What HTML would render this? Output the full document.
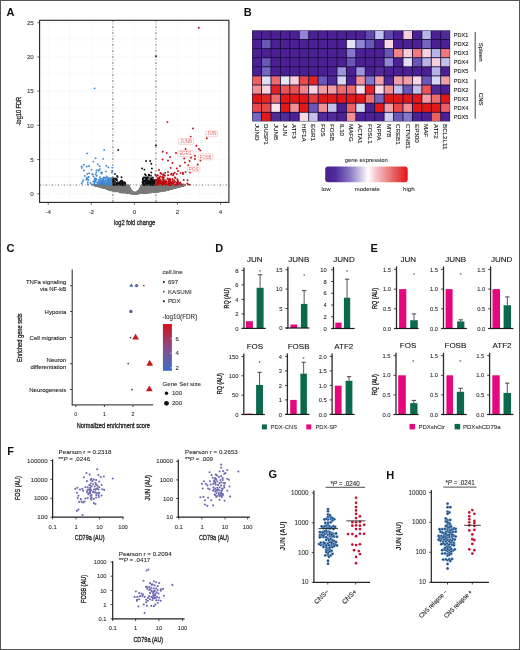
<!DOCTYPE html>
<html><head><meta charset="utf-8"><title>Figure</title>
<style>html,body{margin:0;padding:0;background:#fff;} svg{display:block;} text{font-family:"Liberation Sans", sans-serif;}</style>
</head><body>
<svg width="520" height="650" viewBox="0 0 520 650" font-family='"Liberation Sans", sans-serif' style="will-change:transform">
<rect width="520" height="650" fill="#fff"/>
<text x="6.6" y="15.9" font-size="11" fill="#111" font-weight="bold">A</text>
<text x="243.8" y="16.2" font-size="11" fill="#111" font-weight="bold">B</text>
<text x="6.6" y="252.4" font-size="11" fill="#111" font-weight="bold">C</text>
<text x="215.2" y="252.2" font-size="11" fill="#111" font-weight="bold">D</text>
<text x="370.6" y="251.8" font-size="11" fill="#111" font-weight="bold">E</text>
<text x="7.2" y="454.6" font-size="11" fill="#111" font-weight="bold">F</text>
<text x="268.4" y="478.4" font-size="11" fill="#111" font-weight="bold">G</text>
<text x="386.2" y="478.5" font-size="11" fill="#111" font-weight="bold">H</text>
<g stroke="#f3f3f3" stroke-width="0.5">
<line x1="48.24" y1="20.3" x2="48.24" y2="202.4"/>
<line x1="69.78" y1="20.3" x2="69.78" y2="202.4"/>
<line x1="91.32" y1="20.3" x2="91.32" y2="202.4"/>
<line x1="112.86" y1="20.3" x2="112.86" y2="202.4"/>
<line x1="134.40" y1="20.3" x2="134.40" y2="202.4"/>
<line x1="155.94" y1="20.3" x2="155.94" y2="202.4"/>
<line x1="177.48" y1="20.3" x2="177.48" y2="202.4"/>
<line x1="199.02" y1="20.3" x2="199.02" y2="202.4"/>
<line x1="220.56" y1="20.3" x2="220.56" y2="202.4"/>
<line x1="39.6" y1="193.75" x2="228.9" y2="193.75"/>
<line x1="39.6" y1="176.65" x2="228.9" y2="176.65"/>
<line x1="39.6" y1="159.55" x2="228.9" y2="159.55"/>
<line x1="39.6" y1="142.45" x2="228.9" y2="142.45"/>
<line x1="39.6" y1="125.35" x2="228.9" y2="125.35"/>
<line x1="39.6" y1="108.25" x2="228.9" y2="108.25"/>
<line x1="39.6" y1="91.15" x2="228.9" y2="91.15"/>
<line x1="39.6" y1="74.05" x2="228.9" y2="74.05"/>
<line x1="39.6" y1="56.95" x2="228.9" y2="56.95"/>
<line x1="39.6" y1="39.85" x2="228.9" y2="39.85"/>
<line x1="39.6" y1="22.75" x2="228.9" y2="22.75"/>
</g>
<g fill="#7a7a7a">
<circle cx="136.5" cy="193.0" r="1.0"/>
<circle cx="180.2" cy="185.6" r="1.0"/>
<circle cx="141.6" cy="189.8" r="1.0"/>
<circle cx="111.7" cy="187.8" r="1.0"/>
<circle cx="152.9" cy="190.9" r="1.0"/>
<circle cx="103.3" cy="185.7" r="1.0"/>
<circle cx="102.9" cy="187.2" r="1.0"/>
<circle cx="158.8" cy="185.1" r="1.0"/>
<circle cx="183.9" cy="185.1" r="1.0"/>
<circle cx="151.6" cy="186.0" r="1.0"/>
<circle cx="95.9" cy="185.2" r="1.0"/>
<circle cx="100.1" cy="185.2" r="1.0"/>
<circle cx="117.0" cy="185.0" r="1.0"/>
<circle cx="137.5" cy="192.5" r="1.0"/>
<circle cx="172.6" cy="186.8" r="1.0"/>
<circle cx="153.9" cy="188.6" r="1.0"/>
<circle cx="155.9" cy="188.1" r="1.0"/>
<circle cx="120.3" cy="192.3" r="1.0"/>
<circle cx="172.4" cy="187.6" r="1.0"/>
<circle cx="123.8" cy="186.6" r="1.0"/>
<circle cx="121.3" cy="185.3" r="1.0"/>
<circle cx="165.5" cy="187.1" r="1.0"/>
<circle cx="173.0" cy="186.3" r="1.0"/>
<circle cx="183.3" cy="185.4" r="1.0"/>
<circle cx="94.6" cy="185.0" r="1.0"/>
<circle cx="178.9" cy="185.8" r="1.0"/>
<circle cx="131.4" cy="190.8" r="1.0"/>
<circle cx="152.9" cy="190.8" r="1.0"/>
<circle cx="119.5" cy="185.4" r="1.0"/>
<circle cx="125.4" cy="192.6" r="1.0"/>
<circle cx="164.8" cy="185.5" r="1.0"/>
<circle cx="117.4" cy="185.5" r="1.0"/>
<circle cx="100.1" cy="186.4" r="1.0"/>
<circle cx="111.0" cy="188.0" r="1.0"/>
<circle cx="136.0" cy="192.8" r="1.0"/>
<circle cx="162.3" cy="185.6" r="1.0"/>
<circle cx="154.2" cy="185.7" r="1.0"/>
<circle cx="133.5" cy="192.7" r="1.0"/>
<circle cx="119.5" cy="191.9" r="1.0"/>
<circle cx="169.0" cy="186.3" r="1.0"/>
<circle cx="176.5" cy="185.4" r="1.0"/>
<circle cx="131.1" cy="193.0" r="1.0"/>
<circle cx="154.0" cy="185.6" r="1.0"/>
<circle cx="114.3" cy="186.5" r="1.0"/>
<circle cx="166.1" cy="186.6" r="1.0"/>
<circle cx="122.0" cy="185.4" r="1.0"/>
<circle cx="102.9" cy="186.5" r="1.0"/>
<circle cx="117.1" cy="189.0" r="1.0"/>
<circle cx="129.0" cy="188.7" r="1.0"/>
<circle cx="183.4" cy="185.1" r="1.0"/>
<circle cx="147.8" cy="191.9" r="1.0"/>
<circle cx="111.5" cy="185.7" r="1.0"/>
<circle cx="178.7" cy="186.5" r="1.0"/>
<circle cx="117.7" cy="186.1" r="1.0"/>
<circle cx="163.0" cy="190.5" r="1.0"/>
<circle cx="112.8" cy="190.6" r="1.0"/>
<circle cx="176.3" cy="186.5" r="1.0"/>
<circle cx="133.6" cy="192.6" r="1.0"/>
<circle cx="98.1" cy="186.1" r="1.0"/>
<circle cx="116.6" cy="189.6" r="1.0"/>
<circle cx="118.4" cy="190.7" r="1.0"/>
<circle cx="149.8" cy="187.1" r="1.0"/>
<circle cx="110.8" cy="188.8" r="1.0"/>
<circle cx="100.9" cy="185.3" r="1.0"/>
<circle cx="146.4" cy="191.9" r="1.0"/>
<circle cx="151.4" cy="187.0" r="1.0"/>
<circle cx="179.5" cy="185.2" r="1.0"/>
<circle cx="96.1" cy="185.0" r="1.0"/>
<circle cx="135.8" cy="192.7" r="1.0"/>
<circle cx="110.9" cy="186.9" r="1.0"/>
<circle cx="147.5" cy="185.9" r="1.0"/>
<circle cx="128.1" cy="192.3" r="1.0"/>
<circle cx="155.4" cy="189.9" r="1.0"/>
<circle cx="148.7" cy="185.9" r="1.0"/>
<circle cx="97.8" cy="184.8" r="1.0"/>
<circle cx="178.9" cy="186.2" r="1.0"/>
<circle cx="183.7" cy="184.8" r="1.0"/>
<circle cx="153.5" cy="188.5" r="1.0"/>
<circle cx="162.2" cy="186.8" r="1.0"/>
<circle cx="101.5" cy="186.1" r="1.0"/>
<circle cx="162.8" cy="190.3" r="1.0"/>
<circle cx="162.8" cy="189.1" r="1.0"/>
<circle cx="168.0" cy="189.6" r="1.0"/>
<circle cx="127.1" cy="190.5" r="1.0"/>
<circle cx="178.0" cy="186.8" r="1.0"/>
<circle cx="133.2" cy="193.3" r="1.0"/>
<circle cx="174.5" cy="186.7" r="1.0"/>
<circle cx="152.4" cy="187.7" r="1.0"/>
<circle cx="148.5" cy="189.7" r="1.0"/>
<circle cx="102.0" cy="186.5" r="1.0"/>
<circle cx="176.0" cy="186.9" r="1.0"/>
<circle cx="130.5" cy="192.4" r="1.0"/>
<circle cx="148.4" cy="188.4" r="1.0"/>
<circle cx="172.2" cy="185.1" r="1.0"/>
<circle cx="164.0" cy="185.0" r="1.0"/>
<circle cx="150.2" cy="188.6" r="1.0"/>
<circle cx="115.9" cy="189.5" r="1.0"/>
<circle cx="140.6" cy="190.8" r="1.0"/>
<circle cx="179.8" cy="185.2" r="1.0"/>
<circle cx="95.6" cy="185.0" r="1.0"/>
<circle cx="157.4" cy="186.2" r="1.0"/>
<circle cx="110.3" cy="189.7" r="1.0"/>
<circle cx="155.7" cy="188.0" r="1.0"/>
<circle cx="177.1" cy="185.6" r="1.0"/>
<circle cx="156.2" cy="186.2" r="1.0"/>
<circle cx="134.5" cy="193.4" r="1.0"/>
<circle cx="179.2" cy="186.5" r="1.0"/>
<circle cx="130.2" cy="191.4" r="1.0"/>
<circle cx="123.9" cy="185.9" r="1.0"/>
<circle cx="140.5" cy="192.3" r="1.0"/>
<circle cx="173.2" cy="187.4" r="1.0"/>
<circle cx="182.5" cy="185.1" r="1.0"/>
<circle cx="110.2" cy="187.2" r="1.0"/>
<circle cx="120.0" cy="186.4" r="1.0"/>
<circle cx="132.9" cy="193.0" r="1.0"/>
<circle cx="140.3" cy="189.4" r="1.0"/>
<circle cx="172.3" cy="188.7" r="1.0"/>
<circle cx="136.5" cy="192.5" r="1.0"/>
<circle cx="97.5" cy="185.8" r="1.0"/>
<circle cx="98.4" cy="185.8" r="1.0"/>
<circle cx="147.4" cy="187.3" r="1.0"/>
<circle cx="167.9" cy="184.9" r="1.0"/>
<circle cx="107.1" cy="186.8" r="1.0"/>
<circle cx="96.8" cy="185.5" r="1.0"/>
<circle cx="116.5" cy="185.8" r="1.0"/>
<circle cx="98.9" cy="185.8" r="1.0"/>
<circle cx="135.9" cy="193.2" r="1.0"/>
<circle cx="155.2" cy="190.8" r="1.0"/>
<circle cx="183.3" cy="185.3" r="1.0"/>
<circle cx="113.0" cy="187.7" r="1.0"/>
<circle cx="111.1" cy="184.9" r="1.0"/>
<circle cx="138.3" cy="192.8" r="1.0"/>
<circle cx="111.1" cy="186.4" r="1.0"/>
<circle cx="126.6" cy="190.6" r="1.0"/>
<circle cx="142.8" cy="190.1" r="1.0"/>
<circle cx="164.6" cy="187.1" r="1.0"/>
<circle cx="167.9" cy="189.5" r="1.0"/>
<circle cx="102.6" cy="187.4" r="1.0"/>
<circle cx="161.5" cy="185.6" r="1.0"/>
<circle cx="136.6" cy="193.1" r="1.0"/>
<circle cx="178.8" cy="185.6" r="1.0"/>
<circle cx="147.2" cy="192.1" r="1.0"/>
<circle cx="168.3" cy="189.6" r="1.0"/>
<circle cx="137.5" cy="192.9" r="1.0"/>
<circle cx="113.5" cy="189.3" r="1.0"/>
<circle cx="170.3" cy="187.7" r="1.0"/>
<circle cx="161.0" cy="186.2" r="1.0"/>
<circle cx="177.9" cy="187.1" r="1.0"/>
<circle cx="144.3" cy="191.5" r="1.0"/>
<circle cx="124.2" cy="192.1" r="1.0"/>
<circle cx="173.8" cy="186.0" r="1.0"/>
<circle cx="102.2" cy="186.0" r="1.0"/>
<circle cx="145.5" cy="191.3" r="1.0"/>
<circle cx="139.7" cy="189.0" r="1.0"/>
<circle cx="169.5" cy="185.1" r="1.0"/>
<circle cx="168.6" cy="185.7" r="1.0"/>
<circle cx="125.6" cy="191.2" r="1.0"/>
<circle cx="107.6" cy="185.5" r="1.0"/>
<circle cx="142.4" cy="191.0" r="1.0"/>
<circle cx="172.4" cy="187.5" r="1.0"/>
<circle cx="182.1" cy="185.3" r="1.0"/>
<circle cx="182.5" cy="184.9" r="1.0"/>
<circle cx="115.1" cy="188.2" r="1.0"/>
<circle cx="121.4" cy="190.4" r="1.0"/>
<circle cx="153.7" cy="188.7" r="1.0"/>
<circle cx="172.7" cy="187.0" r="1.0"/>
<circle cx="123.4" cy="187.8" r="1.0"/>
<circle cx="172.8" cy="188.2" r="1.0"/>
<circle cx="113.8" cy="190.2" r="1.0"/>
<circle cx="184.2" cy="185.0" r="1.0"/>
<circle cx="147.6" cy="186.5" r="1.0"/>
<circle cx="144.2" cy="189.1" r="1.0"/>
<circle cx="150.6" cy="185.0" r="1.0"/>
<circle cx="184.3" cy="185.0" r="1.0"/>
<circle cx="131.7" cy="193.0" r="1.0"/>
<circle cx="146.7" cy="188.9" r="1.0"/>
<circle cx="158.6" cy="185.3" r="1.0"/>
<circle cx="144.4" cy="188.3" r="1.0"/>
<circle cx="183.2" cy="185.5" r="1.0"/>
<circle cx="119.5" cy="188.3" r="1.0"/>
<circle cx="106.3" cy="186.6" r="1.0"/>
<circle cx="170.1" cy="188.9" r="1.0"/>
<circle cx="138.7" cy="191.5" r="1.0"/>
<circle cx="112.3" cy="188.5" r="1.0"/>
<circle cx="180.3" cy="185.0" r="1.0"/>
<circle cx="166.7" cy="184.9" r="1.0"/>
<circle cx="112.5" cy="186.2" r="1.0"/>
<circle cx="158.2" cy="187.0" r="1.0"/>
<circle cx="127.5" cy="190.0" r="1.0"/>
<circle cx="104.3" cy="187.3" r="1.0"/>
<circle cx="105.9" cy="186.8" r="1.0"/>
<circle cx="117.8" cy="186.2" r="1.0"/>
<circle cx="143.7" cy="188.5" r="1.0"/>
<circle cx="129.4" cy="189.4" r="1.0"/>
<circle cx="143.6" cy="186.2" r="1.0"/>
<circle cx="113.5" cy="188.8" r="1.0"/>
<circle cx="153.7" cy="188.8" r="1.0"/>
<circle cx="173.4" cy="187.0" r="1.0"/>
<circle cx="173.9" cy="185.6" r="1.0"/>
<circle cx="163.2" cy="189.7" r="1.0"/>
<circle cx="178.2" cy="185.5" r="1.0"/>
<circle cx="123.7" cy="192.2" r="1.0"/>
<circle cx="114.8" cy="191.3" r="1.0"/>
<circle cx="176.8" cy="185.2" r="1.0"/>
<circle cx="116.7" cy="189.8" r="1.0"/>
<circle cx="118.6" cy="185.5" r="1.0"/>
<circle cx="171.6" cy="186.6" r="1.0"/>
<circle cx="167.7" cy="185.5" r="1.0"/>
<circle cx="131.9" cy="192.8" r="1.0"/>
<circle cx="96.2" cy="184.9" r="1.0"/>
<circle cx="157.8" cy="191.2" r="1.0"/>
<circle cx="184.2" cy="184.8" r="1.0"/>
<circle cx="141.4" cy="191.3" r="1.0"/>
<circle cx="141.1" cy="190.7" r="1.0"/>
<circle cx="112.1" cy="185.2" r="1.0"/>
<circle cx="104.4" cy="184.9" r="1.0"/>
<circle cx="145.6" cy="189.1" r="1.0"/>
<circle cx="147.2" cy="186.0" r="1.0"/>
<circle cx="111.6" cy="186.0" r="1.0"/>
<circle cx="172.4" cy="188.7" r="1.0"/>
<circle cx="180.4" cy="185.0" r="1.0"/>
<circle cx="100.3" cy="186.7" r="1.0"/>
<circle cx="137.3" cy="193.1" r="1.0"/>
<circle cx="124.8" cy="188.6" r="1.0"/>
<circle cx="142.3" cy="188.5" r="1.0"/>
<circle cx="150.2" cy="184.9" r="1.0"/>
<circle cx="159.5" cy="190.5" r="1.0"/>
<circle cx="111.3" cy="187.4" r="1.0"/>
<circle cx="163.0" cy="187.3" r="1.0"/>
<circle cx="112.6" cy="185.8" r="1.0"/>
<circle cx="142.0" cy="184.9" r="1.0"/>
<circle cx="177.3" cy="186.8" r="1.0"/>
<circle cx="159.8" cy="190.6" r="1.0"/>
<circle cx="152.8" cy="187.9" r="1.0"/>
<circle cx="150.1" cy="188.8" r="1.0"/>
<circle cx="169.1" cy="186.1" r="1.0"/>
<circle cx="179.0" cy="186.3" r="1.0"/>
<circle cx="166.6" cy="189.2" r="1.0"/>
<circle cx="132.1" cy="193.4" r="1.0"/>
<circle cx="176.0" cy="186.8" r="1.0"/>
<circle cx="165.6" cy="189.1" r="1.0"/>
<circle cx="132.1" cy="193.0" r="1.0"/>
<circle cx="101.1" cy="185.6" r="1.0"/>
<circle cx="138.0" cy="191.4" r="1.0"/>
<circle cx="127.5" cy="190.1" r="1.0"/>
<circle cx="152.3" cy="186.6" r="1.0"/>
<circle cx="182.0" cy="185.5" r="1.0"/>
<circle cx="125.8" cy="190.2" r="1.0"/>
<circle cx="147.3" cy="189.2" r="1.0"/>
<circle cx="130.6" cy="193.5" r="1.0"/>
<circle cx="154.0" cy="190.1" r="1.0"/>
<circle cx="165.1" cy="190.4" r="1.0"/>
<circle cx="96.7" cy="185.3" r="1.0"/>
<circle cx="163.0" cy="186.4" r="1.0"/>
<circle cx="131.7" cy="191.2" r="1.0"/>
<circle cx="112.7" cy="187.1" r="1.0"/>
<circle cx="103.7" cy="185.6" r="1.0"/>
<circle cx="178.4" cy="186.0" r="1.0"/>
<circle cx="141.6" cy="193.1" r="1.0"/>
<circle cx="147.2" cy="193.0" r="1.0"/>
<circle cx="153.6" cy="190.9" r="1.0"/>
<circle cx="101.6" cy="186.3" r="1.0"/>
<circle cx="164.9" cy="185.1" r="1.0"/>
<circle cx="180.7" cy="185.0" r="1.0"/>
<circle cx="138.2" cy="191.5" r="1.0"/>
<circle cx="140.4" cy="191.0" r="1.0"/>
<circle cx="100.0" cy="186.6" r="1.0"/>
<circle cx="133.5" cy="193.0" r="1.0"/>
<circle cx="149.9" cy="187.7" r="1.0"/>
<circle cx="121.0" cy="189.8" r="1.0"/>
<circle cx="146.5" cy="187.2" r="1.0"/>
<circle cx="160.9" cy="186.7" r="1.0"/>
<circle cx="95.8" cy="185.0" r="1.0"/>
<circle cx="98.5" cy="185.0" r="1.0"/>
<circle cx="164.4" cy="187.1" r="1.0"/>
<circle cx="177.7" cy="186.6" r="1.0"/>
<circle cx="99.2" cy="186.5" r="1.0"/>
<circle cx="182.0" cy="184.9" r="1.0"/>
<circle cx="178.4" cy="185.7" r="1.0"/>
<circle cx="138.8" cy="193.4" r="1.0"/>
<circle cx="117.1" cy="188.4" r="1.0"/>
<circle cx="181.4" cy="185.7" r="1.0"/>
<circle cx="137.9" cy="193.4" r="1.0"/>
<circle cx="170.2" cy="187.6" r="1.0"/>
<circle cx="105.2" cy="187.1" r="1.0"/>
<circle cx="136.8" cy="192.6" r="1.0"/>
<circle cx="99.4" cy="185.7" r="1.0"/>
<circle cx="106.1" cy="186.6" r="1.0"/>
<circle cx="156.4" cy="188.1" r="1.0"/>
<circle cx="118.8" cy="189.0" r="1.0"/>
<circle cx="133.4" cy="193.3" r="1.0"/>
<circle cx="143.7" cy="193.3" r="1.0"/>
<circle cx="182.8" cy="185.4" r="1.0"/>
<circle cx="116.6" cy="185.6" r="1.0"/>
<circle cx="177.2" cy="186.8" r="1.0"/>
<circle cx="152.4" cy="187.6" r="1.0"/>
<circle cx="119.7" cy="189.9" r="1.0"/>
<circle cx="146.9" cy="189.7" r="1.0"/>
<circle cx="153.2" cy="190.5" r="1.0"/>
<circle cx="112.1" cy="186.3" r="1.0"/>
<circle cx="179.4" cy="186.5" r="1.0"/>
<circle cx="98.2" cy="184.9" r="1.0"/>
<circle cx="119.6" cy="187.9" r="1.0"/>
<circle cx="152.3" cy="185.6" r="1.0"/>
<circle cx="144.7" cy="185.4" r="1.0"/>
<circle cx="102.6" cy="186.7" r="1.0"/>
<circle cx="145.6" cy="190.1" r="1.0"/>
<circle cx="129.1" cy="189.3" r="1.0"/>
<circle cx="114.1" cy="187.0" r="1.0"/>
<circle cx="163.5" cy="189.8" r="1.0"/>
<circle cx="101.4" cy="185.1" r="1.0"/>
<circle cx="169.5" cy="187.8" r="1.0"/>
<circle cx="165.8" cy="186.0" r="1.0"/>
<circle cx="133.9" cy="192.8" r="1.0"/>
<circle cx="169.6" cy="186.6" r="1.0"/>
<circle cx="155.1" cy="192.1" r="1.0"/>
<circle cx="124.7" cy="189.2" r="1.0"/>
<circle cx="163.7" cy="190.3" r="1.0"/>
<circle cx="134.2" cy="193.0" r="1.0"/>
<circle cx="103.5" cy="187.6" r="1.0"/>
<circle cx="101.8" cy="185.0" r="1.0"/>
<circle cx="146.8" cy="188.8" r="1.0"/>
<circle cx="158.0" cy="186.9" r="1.0"/>
<circle cx="166.4" cy="185.2" r="1.0"/>
<circle cx="114.3" cy="189.0" r="1.0"/>
<circle cx="102.1" cy="185.6" r="1.0"/>
<circle cx="161.7" cy="189.2" r="1.0"/>
<circle cx="120.8" cy="185.9" r="1.0"/>
<circle cx="127.7" cy="190.9" r="1.0"/>
<circle cx="128.5" cy="185.8" r="1.0"/>
<circle cx="160.2" cy="188.6" r="1.0"/>
<circle cx="179.6" cy="186.5" r="1.0"/>
<circle cx="179.1" cy="185.7" r="1.0"/>
<circle cx="168.9" cy="186.3" r="1.0"/>
<circle cx="124.0" cy="188.0" r="1.0"/>
<circle cx="181.1" cy="186.0" r="1.0"/>
<circle cx="117.5" cy="187.3" r="1.0"/>
<circle cx="128.4" cy="187.9" r="1.0"/>
<circle cx="131.2" cy="191.6" r="1.0"/>
<circle cx="112.6" cy="188.2" r="1.0"/>
<circle cx="168.4" cy="187.6" r="1.0"/>
<circle cx="172.0" cy="187.1" r="1.0"/>
<circle cx="110.9" cy="189.1" r="1.0"/>
<circle cx="176.1" cy="185.6" r="1.0"/>
<circle cx="96.6" cy="185.2" r="1.0"/>
<circle cx="145.0" cy="189.6" r="1.0"/>
<circle cx="184.1" cy="185.1" r="1.0"/>
<circle cx="169.0" cy="185.1" r="1.0"/>
<circle cx="145.2" cy="191.5" r="1.0"/>
<circle cx="102.3" cy="185.0" r="1.0"/>
<circle cx="162.8" cy="190.3" r="1.0"/>
<circle cx="102.4" cy="186.5" r="1.0"/>
<circle cx="107.9" cy="188.2" r="1.0"/>
<circle cx="154.7" cy="186.6" r="1.0"/>
<circle cx="115.0" cy="189.8" r="1.0"/>
<circle cx="142.9" cy="191.3" r="1.0"/>
<circle cx="131.1" cy="191.3" r="1.0"/>
<circle cx="184.2" cy="185.1" r="1.0"/>
<circle cx="140.3" cy="190.7" r="1.0"/>
<circle cx="161.3" cy="189.3" r="1.0"/>
<circle cx="179.3" cy="185.6" r="1.0"/>
<circle cx="171.1" cy="187.7" r="1.0"/>
<circle cx="173.6" cy="187.7" r="1.0"/>
<circle cx="171.8" cy="188.5" r="1.0"/>
<circle cx="183.3" cy="185.3" r="1.0"/>
<circle cx="143.1" cy="190.9" r="1.0"/>
<circle cx="168.9" cy="186.9" r="1.0"/>
<circle cx="133.5" cy="192.6" r="1.0"/>
<circle cx="163.2" cy="190.8" r="1.0"/>
<circle cx="129.3" cy="187.6" r="1.0"/>
<circle cx="113.5" cy="187.5" r="1.0"/>
<circle cx="121.6" cy="192.3" r="1.0"/>
<circle cx="100.0" cy="185.4" r="1.0"/>
<circle cx="105.2" cy="187.2" r="1.0"/>
<circle cx="166.4" cy="185.8" r="1.0"/>
<circle cx="100.3" cy="185.7" r="1.0"/>
<circle cx="148.6" cy="192.2" r="1.0"/>
<circle cx="97.9" cy="184.9" r="1.0"/>
<circle cx="111.6" cy="186.1" r="1.0"/>
<circle cx="116.4" cy="189.7" r="1.0"/>
<circle cx="149.6" cy="186.6" r="1.0"/>
<circle cx="111.7" cy="186.5" r="1.0"/>
<circle cx="110.5" cy="189.0" r="1.0"/>
<circle cx="123.4" cy="189.2" r="1.0"/>
<circle cx="170.2" cy="187.0" r="1.0"/>
<circle cx="118.7" cy="191.2" r="1.0"/>
<circle cx="179.2" cy="185.5" r="1.0"/>
<circle cx="145.2" cy="192.9" r="1.0"/>
<circle cx="139.3" cy="190.5" r="1.0"/>
<circle cx="99.2" cy="186.4" r="1.0"/>
<circle cx="168.8" cy="186.7" r="1.0"/>
<circle cx="143.4" cy="189.2" r="1.0"/>
<circle cx="120.0" cy="192.2" r="1.0"/>
<circle cx="155.5" cy="186.6" r="1.0"/>
<circle cx="95.6" cy="185.2" r="1.0"/>
<circle cx="129.0" cy="191.6" r="1.0"/>
<circle cx="160.6" cy="188.8" r="1.0"/>
<circle cx="109.1" cy="185.6" r="1.0"/>
<circle cx="124.4" cy="186.9" r="1.0"/>
<circle cx="175.1" cy="186.4" r="1.0"/>
<circle cx="153.5" cy="192.3" r="1.0"/>
<circle cx="119.2" cy="188.7" r="1.0"/>
<circle cx="108.5" cy="188.5" r="1.0"/>
<circle cx="94.7" cy="185.5" r="1.0"/>
<circle cx="172.9" cy="187.9" r="1.0"/>
<circle cx="102.2" cy="185.5" r="1.0"/>
<circle cx="160.9" cy="185.4" r="1.0"/>
<circle cx="139.0" cy="191.7" r="1.0"/>
<circle cx="183.1" cy="185.3" r="1.0"/>
<circle cx="174.0" cy="185.9" r="1.0"/>
<circle cx="167.7" cy="187.0" r="1.0"/>
<circle cx="179.5" cy="185.0" r="1.0"/>
<circle cx="171.1" cy="185.7" r="1.0"/>
<circle cx="144.9" cy="189.3" r="1.0"/>
<circle cx="109.1" cy="189.0" r="1.0"/>
<circle cx="123.4" cy="187.3" r="1.0"/>
<circle cx="101.6" cy="185.6" r="1.0"/>
<circle cx="137.8" cy="192.9" r="1.0"/>
<circle cx="127.9" cy="190.6" r="1.0"/>
<circle cx="104.3" cy="186.1" r="1.0"/>
<circle cx="137.3" cy="193.4" r="1.0"/>
<circle cx="171.4" cy="187.6" r="1.0"/>
<circle cx="95.7" cy="185.1" r="1.0"/>
<circle cx="160.3" cy="186.4" r="1.0"/>
<circle cx="146.8" cy="188.6" r="1.0"/>
<circle cx="95.5" cy="185.6" r="1.0"/>
<circle cx="168.6" cy="185.8" r="1.0"/>
<circle cx="151.6" cy="187.1" r="1.0"/>
<circle cx="129.4" cy="190.2" r="1.0"/>
<circle cx="122.2" cy="187.4" r="1.0"/>
<circle cx="130.9" cy="192.3" r="1.0"/>
<circle cx="118.3" cy="186.2" r="1.0"/>
<circle cx="162.3" cy="186.9" r="1.0"/>
<circle cx="182.1" cy="185.4" r="1.0"/>
<circle cx="161.6" cy="186.9" r="1.0"/>
<circle cx="171.1" cy="185.2" r="1.0"/>
<circle cx="107.6" cy="185.2" r="1.0"/>
<circle cx="157.3" cy="189.9" r="1.0"/>
<circle cx="111.2" cy="187.1" r="1.0"/>
<circle cx="172.1" cy="187.2" r="1.0"/>
<circle cx="102.9" cy="185.5" r="1.0"/>
<circle cx="109.1" cy="185.4" r="1.0"/>
<circle cx="132.2" cy="191.7" r="1.0"/>
<circle cx="179.8" cy="185.5" r="1.0"/>
<circle cx="141.9" cy="190.3" r="1.0"/>
<circle cx="165.6" cy="189.4" r="1.0"/>
<circle cx="130.3" cy="190.4" r="1.0"/>
<circle cx="132.7" cy="192.0" r="1.0"/>
<circle cx="131.7" cy="192.8" r="1.0"/>
<circle cx="167.7" cy="188.3" r="1.0"/>
<circle cx="150.9" cy="184.9" r="1.0"/>
<circle cx="125.2" cy="187.6" r="1.0"/>
<circle cx="154.8" cy="185.6" r="1.0"/>
<circle cx="129.5" cy="190.3" r="1.0"/>
<circle cx="167.6" cy="189.2" r="1.0"/>
<circle cx="151.2" cy="186.0" r="1.0"/>
<circle cx="165.5" cy="189.9" r="1.0"/>
<circle cx="145.3" cy="187.8" r="1.0"/>
<circle cx="140.9" cy="186.6" r="1.0"/>
<circle cx="160.6" cy="191.3" r="1.0"/>
<circle cx="142.3" cy="190.9" r="1.0"/>
<circle cx="171.9" cy="185.6" r="1.0"/>
<circle cx="182.1" cy="185.5" r="1.0"/>
<circle cx="112.9" cy="185.3" r="1.0"/>
<circle cx="117.2" cy="188.8" r="1.0"/>
<circle cx="159.1" cy="187.0" r="1.0"/>
<circle cx="180.6" cy="185.3" r="1.0"/>
<circle cx="137.4" cy="192.1" r="1.0"/>
<circle cx="107.1" cy="188.7" r="1.0"/>
<circle cx="144.9" cy="189.6" r="1.0"/>
<circle cx="146.5" cy="187.0" r="1.0"/>
<circle cx="178.8" cy="186.9" r="1.0"/>
<circle cx="170.3" cy="187.5" r="1.0"/>
<circle cx="105.9" cy="188.1" r="1.0"/>
<circle cx="121.3" cy="191.7" r="1.0"/>
<circle cx="116.9" cy="188.7" r="1.0"/>
<circle cx="171.5" cy="185.6" r="1.0"/>
<circle cx="145.3" cy="185.4" r="1.0"/>
<circle cx="97.5" cy="185.0" r="1.0"/>
<circle cx="181.6" cy="185.6" r="1.0"/>
<circle cx="123.0" cy="190.1" r="1.0"/>
<circle cx="162.9" cy="187.1" r="1.0"/>
<circle cx="149.4" cy="191.3" r="1.0"/>
<circle cx="96.1" cy="184.9" r="1.0"/>
<circle cx="137.9" cy="191.7" r="1.0"/>
<circle cx="130.3" cy="191.5" r="1.0"/>
<circle cx="110.6" cy="187.7" r="1.0"/>
<circle cx="119.0" cy="188.9" r="1.0"/>
<circle cx="125.3" cy="190.0" r="1.0"/>
<circle cx="98.1" cy="185.7" r="1.0"/>
<circle cx="108.0" cy="189.2" r="1.0"/>
<circle cx="150.1" cy="188.5" r="1.0"/>
<circle cx="132.7" cy="193.0" r="1.0"/>
<circle cx="158.4" cy="190.1" r="1.0"/>
<circle cx="164.2" cy="187.7" r="1.0"/>
<circle cx="172.2" cy="188.2" r="1.0"/>
<circle cx="132.4" cy="192.5" r="1.0"/>
<circle cx="147.0" cy="192.3" r="1.0"/>
<circle cx="143.3" cy="189.3" r="1.0"/>
<circle cx="134.6" cy="193.5" r="1.0"/>
<circle cx="124.3" cy="185.2" r="1.0"/>
<circle cx="161.8" cy="190.5" r="1.0"/>
<circle cx="162.4" cy="188.5" r="1.0"/>
<circle cx="164.2" cy="186.6" r="1.0"/>
<circle cx="149.5" cy="185.4" r="1.0"/>
<circle cx="106.1" cy="186.6" r="1.0"/>
<circle cx="141.1" cy="188.2" r="1.0"/>
<circle cx="99.4" cy="186.0" r="1.0"/>
<circle cx="143.3" cy="186.8" r="1.0"/>
<circle cx="122.9" cy="187.9" r="1.0"/>
<circle cx="116.4" cy="185.3" r="1.0"/>
<circle cx="179.0" cy="186.7" r="1.0"/>
<circle cx="156.2" cy="191.1" r="1.0"/>
<circle cx="133.6" cy="193.4" r="1.0"/>
<circle cx="115.1" cy="189.7" r="1.0"/>
<circle cx="147.0" cy="192.3" r="1.0"/>
<circle cx="103.7" cy="187.3" r="1.0"/>
<circle cx="106.0" cy="186.9" r="1.0"/>
<circle cx="182.6" cy="184.8" r="1.0"/>
<circle cx="117.1" cy="186.9" r="1.0"/>
<circle cx="124.6" cy="185.3" r="1.0"/>
<circle cx="177.5" cy="186.8" r="1.0"/>
<circle cx="131.3" cy="191.6" r="1.0"/>
<circle cx="148.8" cy="185.2" r="1.0"/>
<circle cx="97.4" cy="185.8" r="1.0"/>
<circle cx="123.1" cy="188.7" r="1.0"/>
<circle cx="181.1" cy="186.2" r="1.0"/>
<circle cx="138.3" cy="191.5" r="1.0"/>
<circle cx="121.9" cy="192.0" r="1.0"/>
<circle cx="177.6" cy="185.3" r="1.0"/>
<circle cx="172.2" cy="186.2" r="1.0"/>
<circle cx="138.3" cy="191.4" r="1.0"/>
<circle cx="176.0" cy="187.7" r="1.0"/>
<circle cx="113.3" cy="188.7" r="1.0"/>
<circle cx="112.3" cy="190.1" r="1.0"/>
<circle cx="99.2" cy="185.0" r="1.0"/>
<circle cx="161.8" cy="186.8" r="1.0"/>
<circle cx="177.9" cy="186.8" r="1.0"/>
<circle cx="160.6" cy="185.7" r="1.0"/>
<circle cx="159.0" cy="191.2" r="1.0"/>
<circle cx="135.8" cy="192.8" r="1.0"/>
<circle cx="115.2" cy="186.8" r="1.0"/>
<circle cx="160.4" cy="186.1" r="1.0"/>
<circle cx="111.3" cy="186.2" r="1.0"/>
<circle cx="156.1" cy="190.6" r="1.0"/>
<circle cx="129.1" cy="190.6" r="1.0"/>
<circle cx="176.5" cy="186.4" r="1.0"/>
<circle cx="115.8" cy="186.8" r="1.0"/>
<circle cx="180.4" cy="185.9" r="1.0"/>
<circle cx="120.2" cy="189.6" r="1.0"/>
<circle cx="102.9" cy="187.7" r="1.0"/>
<circle cx="135.3" cy="193.2" r="1.0"/>
<circle cx="143.7" cy="185.2" r="1.0"/>
<circle cx="150.1" cy="187.1" r="1.0"/>
<circle cx="117.8" cy="190.5" r="1.0"/>
<circle cx="102.6" cy="185.6" r="1.0"/>
<circle cx="164.5" cy="186.2" r="1.0"/>
<circle cx="120.4" cy="188.9" r="1.0"/>
<circle cx="111.8" cy="190.1" r="1.0"/>
<circle cx="97.7" cy="185.3" r="1.0"/>
<circle cx="164.1" cy="187.1" r="1.0"/>
<circle cx="180.6" cy="185.6" r="1.0"/>
<circle cx="111.2" cy="188.0" r="1.0"/>
<circle cx="154.3" cy="187.5" r="1.0"/>
<circle cx="155.5" cy="190.6" r="1.0"/>
<circle cx="142.4" cy="189.1" r="1.0"/>
<circle cx="172.9" cy="187.4" r="1.0"/>
<circle cx="142.8" cy="192.9" r="1.0"/>
<circle cx="110.7" cy="189.1" r="1.0"/>
<circle cx="109.8" cy="188.0" r="1.0"/>
<circle cx="116.3" cy="187.8" r="1.0"/>
<circle cx="166.2" cy="189.2" r="1.0"/>
<circle cx="167.8" cy="186.0" r="1.0"/>
<circle cx="139.9" cy="189.7" r="1.0"/>
<circle cx="148.3" cy="188.9" r="1.0"/>
<circle cx="97.8" cy="185.5" r="1.0"/>
<circle cx="160.7" cy="188.5" r="1.0"/>
<circle cx="175.4" cy="185.4" r="1.0"/>
<circle cx="108.6" cy="184.9" r="1.0"/>
<circle cx="140.5" cy="189.8" r="1.0"/>
<circle cx="135.5" cy="193.0" r="1.0"/>
<circle cx="168.5" cy="185.2" r="1.0"/>
<circle cx="178.6" cy="186.0" r="1.0"/>
<circle cx="144.9" cy="191.5" r="1.0"/>
<circle cx="116.6" cy="185.8" r="1.0"/>
<circle cx="123.4" cy="185.1" r="1.0"/>
<circle cx="123.7" cy="189.7" r="1.0"/>
<circle cx="143.2" cy="187.1" r="1.0"/>
<circle cx="149.1" cy="185.5" r="1.0"/>
<circle cx="170.6" cy="185.6" r="1.0"/>
<circle cx="118.2" cy="185.9" r="1.0"/>
<circle cx="158.5" cy="190.6" r="1.0"/>
<circle cx="167.4" cy="185.1" r="1.0"/>
<circle cx="132.6" cy="192.5" r="1.0"/>
<circle cx="114.6" cy="191.1" r="1.0"/>
<circle cx="98.5" cy="185.5" r="1.0"/>
<circle cx="165.1" cy="190.5" r="1.0"/>
<circle cx="107.9" cy="186.9" r="1.0"/>
<circle cx="163.5" cy="185.0" r="1.0"/>
<circle cx="116.8" cy="190.9" r="1.0"/>
<circle cx="107.7" cy="186.6" r="1.0"/>
<circle cx="122.2" cy="188.1" r="1.0"/>
<circle cx="101.6" cy="184.9" r="1.0"/>
<circle cx="165.2" cy="189.0" r="1.0"/>
<circle cx="115.8" cy="186.5" r="1.0"/>
<circle cx="145.7" cy="186.8" r="1.0"/>
<circle cx="137.3" cy="193.4" r="1.0"/>
<circle cx="128.3" cy="187.6" r="1.0"/>
<circle cx="151.1" cy="185.1" r="1.0"/>
<circle cx="131.9" cy="192.8" r="1.0"/>
<circle cx="100.0" cy="185.5" r="1.0"/>
<circle cx="158.9" cy="190.7" r="1.0"/>
<circle cx="149.3" cy="191.9" r="1.0"/>
<circle cx="137.4" cy="192.5" r="1.0"/>
<circle cx="172.6" cy="186.3" r="1.0"/>
<circle cx="166.9" cy="186.0" r="1.0"/>
<circle cx="126.7" cy="186.3" r="1.0"/>
<circle cx="145.5" cy="186.2" r="1.0"/>
<circle cx="113.4" cy="186.1" r="1.0"/>
<circle cx="137.9" cy="192.1" r="1.0"/>
<circle cx="136.0" cy="193.5" r="1.0"/>
<circle cx="157.5" cy="190.9" r="1.0"/>
<circle cx="113.5" cy="187.2" r="1.0"/>
<circle cx="101.3" cy="186.4" r="1.0"/>
<circle cx="128.2" cy="187.1" r="1.0"/>
<circle cx="96.3" cy="184.9" r="1.0"/>
<circle cx="118.8" cy="187.6" r="1.0"/>
<circle cx="180.1" cy="186.0" r="1.0"/>
<circle cx="119.4" cy="187.4" r="1.0"/>
<circle cx="108.8" cy="189.4" r="1.0"/>
<circle cx="127.9" cy="191.2" r="1.0"/>
<circle cx="161.6" cy="190.6" r="1.0"/>
<circle cx="96.4" cy="185.0" r="1.0"/>
<circle cx="130.2" cy="189.0" r="1.0"/>
<circle cx="176.3" cy="185.7" r="1.0"/>
<circle cx="165.9" cy="187.7" r="1.0"/>
<circle cx="99.6" cy="185.5" r="1.0"/>
<circle cx="116.6" cy="185.1" r="1.0"/>
<circle cx="108.5" cy="187.7" r="1.0"/>
<circle cx="97.5" cy="185.1" r="1.0"/>
<circle cx="133.8" cy="193.1" r="1.0"/>
<circle cx="107.1" cy="187.9" r="1.0"/>
<circle cx="118.7" cy="190.0" r="1.0"/>
<circle cx="156.3" cy="185.9" r="1.0"/>
<circle cx="113.5" cy="186.6" r="1.0"/>
<circle cx="160.6" cy="187.5" r="1.0"/>
<circle cx="130.4" cy="192.8" r="1.0"/>
<circle cx="115.5" cy="186.7" r="1.0"/>
<circle cx="126.5" cy="186.6" r="1.0"/>
<circle cx="98.3" cy="184.8" r="1.0"/>
<circle cx="152.9" cy="189.1" r="1.0"/>
<circle cx="169.5" cy="189.5" r="1.0"/>
<circle cx="122.2" cy="190.0" r="1.0"/>
<circle cx="179.7" cy="185.2" r="1.0"/>
<circle cx="158.4" cy="189.4" r="1.0"/>
<circle cx="183.0" cy="185.5" r="1.0"/>
<circle cx="116.3" cy="189.1" r="1.0"/>
<circle cx="102.9" cy="186.0" r="1.0"/>
<circle cx="130.9" cy="190.2" r="1.0"/>
<circle cx="130.1" cy="190.1" r="1.0"/>
<circle cx="140.6" cy="188.6" r="1.0"/>
<circle cx="109.2" cy="186.8" r="1.0"/>
<circle cx="138.6" cy="191.2" r="1.0"/>
<circle cx="156.2" cy="186.5" r="1.0"/>
<circle cx="103.2" cy="185.8" r="1.0"/>
<circle cx="133.7" cy="192.7" r="1.0"/>
<circle cx="148.5" cy="190.5" r="1.0"/>
<circle cx="145.8" cy="190.7" r="1.0"/>
<circle cx="96.7" cy="185.1" r="1.0"/>
<circle cx="128.3" cy="185.3" r="1.0"/>
<circle cx="132.0" cy="191.5" r="1.0"/>
<circle cx="140.5" cy="190.8" r="1.0"/>
<circle cx="138.0" cy="192.0" r="1.0"/>
<circle cx="118.0" cy="185.0" r="1.0"/>
<circle cx="126.7" cy="192.2" r="1.0"/>
<circle cx="146.9" cy="187.0" r="1.0"/>
<circle cx="156.4" cy="186.2" r="1.0"/>
<circle cx="138.0" cy="192.6" r="1.0"/>
<circle cx="183.0" cy="185.1" r="1.0"/>
<circle cx="147.9" cy="192.5" r="1.0"/>
<circle cx="166.0" cy="188.3" r="1.0"/>
<circle cx="152.1" cy="188.0" r="1.0"/>
<circle cx="133.0" cy="192.6" r="1.0"/>
<circle cx="171.4" cy="188.5" r="1.0"/>
<circle cx="129.9" cy="192.9" r="1.0"/>
<circle cx="98.1" cy="185.0" r="1.0"/>
<circle cx="141.5" cy="187.4" r="1.0"/>
<circle cx="127.9" cy="193.0" r="1.0"/>
<circle cx="108.4" cy="185.7" r="1.0"/>
<circle cx="115.7" cy="189.3" r="1.0"/>
<circle cx="116.3" cy="184.8" r="1.0"/>
<circle cx="144.9" cy="188.1" r="1.0"/>
<circle cx="116.7" cy="188.2" r="1.0"/>
<circle cx="154.8" cy="188.9" r="1.0"/>
<circle cx="152.4" cy="189.1" r="1.0"/>
<circle cx="171.5" cy="188.9" r="1.0"/>
<circle cx="125.4" cy="187.6" r="1.0"/>
<circle cx="176.6" cy="185.6" r="1.0"/>
<circle cx="160.9" cy="189.3" r="1.0"/>
<circle cx="158.1" cy="191.5" r="1.0"/>
<circle cx="170.9" cy="185.5" r="1.0"/>
<circle cx="152.1" cy="188.6" r="1.0"/>
<circle cx="146.8" cy="187.9" r="1.0"/>
<circle cx="121.0" cy="190.5" r="1.0"/>
<circle cx="144.0" cy="186.8" r="1.0"/>
<circle cx="117.6" cy="187.1" r="1.0"/>
<circle cx="111.0" cy="187.7" r="1.0"/>
<circle cx="106.2" cy="185.1" r="1.0"/>
<circle cx="100.9" cy="185.0" r="1.0"/>
<circle cx="159.8" cy="185.6" r="1.0"/>
<circle cx="136.4" cy="193.3" r="1.0"/>
<circle cx="139.1" cy="190.6" r="1.0"/>
<circle cx="174.8" cy="187.6" r="1.0"/>
<circle cx="99.5" cy="185.3" r="1.0"/>
<circle cx="141.6" cy="191.6" r="1.0"/>
<circle cx="130.9" cy="192.5" r="1.0"/>
<circle cx="117.9" cy="189.9" r="1.0"/>
<circle cx="124.8" cy="187.5" r="1.0"/>
<circle cx="164.9" cy="189.7" r="1.0"/>
<circle cx="171.3" cy="187.2" r="1.0"/>
<circle cx="133.5" cy="193.2" r="1.0"/>
<circle cx="152.3" cy="191.2" r="1.0"/>
<circle cx="168.8" cy="185.4" r="1.0"/>
<circle cx="129.5" cy="191.2" r="1.0"/>
<circle cx="116.0" cy="186.0" r="1.0"/>
<circle cx="95.8" cy="185.3" r="1.0"/>
<circle cx="181.7" cy="186.0" r="1.0"/>
<circle cx="106.9" cy="187.8" r="1.0"/>
<circle cx="133.4" cy="193.1" r="1.0"/>
<circle cx="131.3" cy="193.3" r="1.0"/>
<circle cx="99.1" cy="186.0" r="1.0"/>
<circle cx="105.5" cy="185.0" r="1.0"/>
<circle cx="121.0" cy="190.4" r="1.0"/>
<circle cx="105.7" cy="186.1" r="1.0"/>
<circle cx="97.0" cy="185.3" r="1.0"/>
<circle cx="139.3" cy="191.1" r="1.0"/>
<circle cx="123.2" cy="191.1" r="1.0"/>
<circle cx="172.2" cy="185.9" r="1.0"/>
<circle cx="130.8" cy="192.1" r="1.0"/>
<circle cx="165.4" cy="190.4" r="1.0"/>
<circle cx="130.6" cy="192.2" r="1.0"/>
<circle cx="145.1" cy="191.6" r="1.0"/>
<circle cx="108.2" cy="185.6" r="1.0"/>
<circle cx="104.5" cy="188.0" r="1.0"/>
<circle cx="117.8" cy="188.2" r="1.0"/>
<circle cx="105.7" cy="186.1" r="1.0"/>
<circle cx="96.3" cy="185.2" r="1.0"/>
<circle cx="107.9" cy="187.7" r="1.0"/>
<circle cx="119.9" cy="186.5" r="1.0"/>
<circle cx="139.2" cy="191.1" r="1.0"/>
<circle cx="118.6" cy="185.2" r="1.0"/>
<circle cx="100.5" cy="186.7" r="1.0"/>
<circle cx="123.2" cy="185.4" r="1.0"/>
<circle cx="111.5" cy="187.6" r="1.0"/>
<circle cx="113.3" cy="190.2" r="1.0"/>
<circle cx="139.4" cy="191.1" r="1.0"/>
<circle cx="169.3" cy="186.7" r="1.0"/>
<circle cx="99.9" cy="185.9" r="1.0"/>
<circle cx="155.4" cy="189.4" r="1.0"/>
<circle cx="120.2" cy="191.8" r="1.0"/>
<circle cx="174.6" cy="188.1" r="1.0"/>
<circle cx="135.6" cy="193.4" r="1.0"/>
<circle cx="161.7" cy="185.9" r="1.0"/>
<circle cx="97.0" cy="185.0" r="1.0"/>
<circle cx="105.6" cy="185.1" r="1.0"/>
<circle cx="127.8" cy="191.1" r="1.0"/>
<circle cx="123.3" cy="188.9" r="1.0"/>
<circle cx="95.5" cy="185.0" r="1.0"/>
<circle cx="183.4" cy="184.8" r="1.0"/>
<circle cx="143.4" cy="191.7" r="1.0"/>
<circle cx="167.9" cy="188.6" r="1.0"/>
<circle cx="131.5" cy="193.0" r="1.0"/>
<circle cx="171.2" cy="188.1" r="1.0"/>
<circle cx="103.9" cy="187.9" r="1.0"/>
<circle cx="131.8" cy="192.9" r="1.0"/>
<circle cx="117.8" cy="191.2" r="1.0"/>
<circle cx="96.7" cy="185.3" r="1.0"/>
<circle cx="115.6" cy="187.4" r="1.0"/>
<circle cx="128.8" cy="190.4" r="1.0"/>
<circle cx="169.6" cy="186.5" r="1.0"/>
<circle cx="153.6" cy="187.5" r="1.0"/>
<circle cx="120.4" cy="191.6" r="1.0"/>
<circle cx="124.3" cy="185.6" r="1.0"/>
<circle cx="125.6" cy="190.8" r="1.0"/>
<circle cx="114.1" cy="189.5" r="1.0"/>
<circle cx="145.1" cy="190.6" r="1.0"/>
<circle cx="111.0" cy="185.4" r="1.0"/>
<circle cx="107.8" cy="186.4" r="1.0"/>
<circle cx="134.4" cy="192.8" r="1.0"/>
<circle cx="141.1" cy="188.3" r="1.0"/>
<circle cx="124.3" cy="189.1" r="1.0"/>
<circle cx="182.8" cy="185.0" r="1.0"/>
<circle cx="176.1" cy="185.7" r="1.0"/>
<circle cx="164.4" cy="185.4" r="1.0"/>
<circle cx="134.4" cy="193.5" r="1.0"/>
<circle cx="114.9" cy="187.5" r="1.0"/>
<circle cx="159.9" cy="186.0" r="1.0"/>
<circle cx="119.9" cy="189.8" r="1.0"/>
<circle cx="182.3" cy="185.1" r="1.0"/>
<circle cx="111.5" cy="186.9" r="1.0"/>
<circle cx="108.3" cy="187.8" r="1.0"/>
<circle cx="129.6" cy="191.2" r="1.0"/>
<circle cx="114.2" cy="188.7" r="1.0"/>
<circle cx="176.8" cy="187.1" r="1.0"/>
<circle cx="152.8" cy="188.7" r="1.0"/>
<circle cx="147.1" cy="185.7" r="1.0"/>
<circle cx="172.1" cy="187.6" r="1.0"/>
<circle cx="136.5" cy="193.1" r="1.0"/>
<circle cx="133.4" cy="192.8" r="1.0"/>
<circle cx="115.9" cy="188.8" r="1.0"/>
<circle cx="147.6" cy="189.0" r="1.0"/>
<circle cx="97.5" cy="185.5" r="1.0"/>
<circle cx="135.9" cy="193.2" r="1.0"/>
<circle cx="149.6" cy="192.3" r="1.0"/>
<circle cx="108.6" cy="187.1" r="1.0"/>
<circle cx="162.9" cy="186.7" r="1.0"/>
<circle cx="162.8" cy="190.9" r="1.0"/>
<circle cx="131.8" cy="193.3" r="1.0"/>
<circle cx="106.3" cy="188.8" r="1.0"/>
<circle cx="140.0" cy="189.4" r="1.0"/>
<circle cx="172.4" cy="187.4" r="1.0"/>
<circle cx="181.4" cy="185.9" r="1.0"/>
<circle cx="168.4" cy="187.4" r="1.0"/>
<circle cx="100.6" cy="186.7" r="1.0"/>
<circle cx="160.5" cy="186.4" r="1.0"/>
<circle cx="169.3" cy="187.0" r="1.0"/>
<circle cx="144.2" cy="192.2" r="1.0"/>
<circle cx="112.7" cy="186.5" r="1.0"/>
<circle cx="154.2" cy="185.4" r="1.0"/>
<circle cx="146.0" cy="191.4" r="1.0"/>
<circle cx="140.0" cy="189.5" r="1.0"/>
<circle cx="168.6" cy="189.1" r="1.0"/>
<circle cx="165.9" cy="187.9" r="1.0"/>
<circle cx="178.4" cy="186.5" r="1.0"/>
<circle cx="108.6" cy="186.6" r="1.0"/>
<circle cx="103.8" cy="184.9" r="1.0"/>
<circle cx="126.6" cy="191.9" r="1.0"/>
<circle cx="171.8" cy="185.3" r="1.0"/>
<circle cx="111.4" cy="187.1" r="1.0"/>
<circle cx="173.2" cy="187.1" r="1.0"/>
<circle cx="178.1" cy="185.0" r="1.0"/>
<circle cx="113.7" cy="188.8" r="1.0"/>
<circle cx="175.7" cy="187.0" r="1.0"/>
<circle cx="112.8" cy="188.9" r="1.0"/>
<circle cx="134.4" cy="192.8" r="1.0"/>
<circle cx="126.0" cy="187.4" r="1.0"/>
<circle cx="152.9" cy="186.9" r="1.0"/>
<circle cx="150.4" cy="190.3" r="1.0"/>
<circle cx="111.3" cy="185.5" r="1.0"/>
<circle cx="158.8" cy="188.0" r="1.0"/>
<circle cx="106.5" cy="185.3" r="1.0"/>
<circle cx="181.7" cy="185.5" r="1.0"/>
<circle cx="127.7" cy="186.4" r="1.0"/>
<circle cx="158.6" cy="189.9" r="1.0"/>
<circle cx="127.9" cy="187.4" r="1.0"/>
<circle cx="132.4" cy="192.0" r="1.0"/>
<circle cx="153.0" cy="188.0" r="1.0"/>
<circle cx="170.5" cy="186.6" r="1.0"/>
<circle cx="136.9" cy="192.9" r="1.0"/>
<circle cx="181.8" cy="185.2" r="1.0"/>
<circle cx="159.7" cy="186.4" r="1.0"/>
<circle cx="148.2" cy="187.1" r="1.0"/>
<circle cx="175.4" cy="185.7" r="1.0"/>
<circle cx="173.7" cy="187.2" r="1.0"/>
<circle cx="136.7" cy="193.4" r="1.0"/>
<circle cx="130.5" cy="192.4" r="1.0"/>
<circle cx="150.2" cy="188.4" r="1.0"/>
<circle cx="100.5" cy="185.7" r="1.0"/>
<circle cx="120.6" cy="188.1" r="1.0"/>
<circle cx="183.0" cy="185.0" r="1.0"/>
<circle cx="158.9" cy="189.4" r="1.0"/>
<circle cx="117.2" cy="187.7" r="1.0"/>
<circle cx="106.8" cy="188.6" r="1.0"/>
<circle cx="117.9" cy="187.8" r="1.0"/>
<circle cx="126.2" cy="191.5" r="1.0"/>
<circle cx="173.3" cy="187.0" r="1.0"/>
<circle cx="145.1" cy="185.6" r="1.0"/>
<circle cx="177.6" cy="185.0" r="1.0"/>
<circle cx="128.2" cy="188.0" r="1.0"/>
<circle cx="161.5" cy="189.1" r="1.0"/>
<circle cx="126.4" cy="192.2" r="1.0"/>
<circle cx="182.5" cy="184.8" r="1.0"/>
<circle cx="153.2" cy="188.4" r="1.0"/>
<circle cx="128.1" cy="188.7" r="1.0"/>
<circle cx="123.8" cy="190.2" r="1.0"/>
<circle cx="150.6" cy="192.5" r="1.0"/>
<circle cx="131.1" cy="193.0" r="1.0"/>
<circle cx="154.8" cy="190.0" r="1.0"/>
<circle cx="100.7" cy="185.8" r="1.0"/>
<circle cx="131.7" cy="192.7" r="1.0"/>
<circle cx="114.7" cy="191.2" r="1.0"/>
<circle cx="113.9" cy="187.1" r="1.0"/>
<circle cx="107.8" cy="186.6" r="1.0"/>
<circle cx="163.3" cy="185.3" r="1.0"/>
<circle cx="110.0" cy="188.3" r="1.0"/>
<circle cx="152.3" cy="190.5" r="1.0"/>
<circle cx="118.0" cy="190.5" r="1.0"/>
<circle cx="162.2" cy="189.6" r="1.0"/>
<circle cx="105.6" cy="186.6" r="1.0"/>
<circle cx="96.0" cy="185.3" r="1.0"/>
<circle cx="182.0" cy="185.8" r="1.0"/>
<circle cx="96.8" cy="185.1" r="1.0"/>
<circle cx="144.2" cy="189.3" r="1.0"/>
<circle cx="104.9" cy="187.6" r="1.0"/>
<circle cx="122.5" cy="188.8" r="1.0"/>
<circle cx="106.1" cy="187.1" r="1.0"/>
<circle cx="106.6" cy="185.2" r="1.0"/>
<circle cx="142.0" cy="187.3" r="1.0"/>
<circle cx="166.6" cy="186.1" r="1.0"/>
<circle cx="132.9" cy="192.2" r="1.0"/>
<circle cx="114.7" cy="187.7" r="1.0"/>
<circle cx="146.2" cy="188.6" r="1.0"/>
<circle cx="173.3" cy="185.2" r="1.0"/>
<circle cx="173.3" cy="185.4" r="1.0"/>
<circle cx="184.4" cy="185.0" r="1.0"/>
<circle cx="132.2" cy="192.8" r="1.0"/>
<circle cx="174.6" cy="188.0" r="1.0"/>
<circle cx="132.8" cy="192.1" r="1.0"/>
<circle cx="108.8" cy="188.8" r="1.0"/>
<circle cx="162.6" cy="189.2" r="1.0"/>
<circle cx="109.1" cy="187.5" r="1.0"/>
<circle cx="97.2" cy="184.9" r="1.0"/>
<circle cx="122.4" cy="192.4" r="1.0"/>
<circle cx="154.1" cy="191.2" r="1.0"/>
<circle cx="98.8" cy="185.4" r="1.0"/>
<circle cx="101.8" cy="185.5" r="1.0"/>
<circle cx="104.9" cy="188.1" r="1.0"/>
<circle cx="125.0" cy="188.8" r="1.0"/>
<circle cx="155.1" cy="191.4" r="1.0"/>
<circle cx="182.2" cy="185.4" r="1.0"/>
<circle cx="140.9" cy="192.6" r="1.0"/>
<circle cx="131.1" cy="191.2" r="1.0"/>
<circle cx="163.0" cy="186.4" r="1.0"/>
<circle cx="128.6" cy="188.4" r="1.0"/>
<circle cx="138.7" cy="191.6" r="1.0"/>
<circle cx="134.4" cy="193.1" r="1.0"/>
<circle cx="99.1" cy="186.2" r="1.0"/>
<circle cx="100.3" cy="185.9" r="1.0"/>
<circle cx="145.3" cy="188.2" r="1.0"/>
<circle cx="115.2" cy="185.5" r="1.0"/>
<circle cx="129.0" cy="187.5" r="1.0"/>
<circle cx="139.4" cy="190.4" r="1.0"/>
<circle cx="164.0" cy="187.7" r="1.0"/>
<circle cx="95.4" cy="185.1" r="1.0"/>
<circle cx="184.1" cy="184.8" r="1.0"/>
<circle cx="149.5" cy="192.5" r="1.0"/>
<circle cx="128.4" cy="189.8" r="1.0"/>
<circle cx="128.7" cy="187.4" r="1.0"/>
<circle cx="151.0" cy="189.4" r="1.0"/>
<circle cx="123.7" cy="188.8" r="1.0"/>
<circle cx="142.4" cy="191.3" r="1.0"/>
<circle cx="99.5" cy="185.0" r="1.0"/>
<circle cx="117.9" cy="186.7" r="1.0"/>
<circle cx="168.2" cy="187.0" r="1.0"/>
<circle cx="174.2" cy="186.2" r="1.0"/>
<circle cx="121.0" cy="190.0" r="1.0"/>
<circle cx="102.5" cy="187.5" r="1.0"/>
<circle cx="171.6" cy="186.2" r="1.0"/>
<circle cx="123.9" cy="191.4" r="1.0"/>
<circle cx="167.6" cy="188.2" r="1.0"/>
<circle cx="99.8" cy="186.2" r="1.0"/>
<circle cx="99.0" cy="185.8" r="1.0"/>
<circle cx="145.7" cy="192.6" r="1.0"/>
<circle cx="153.7" cy="185.0" r="1.0"/>
<circle cx="181.1" cy="185.8" r="1.0"/>
<circle cx="148.3" cy="184.8" r="1.0"/>
<circle cx="162.8" cy="187.4" r="1.0"/>
<circle cx="157.5" cy="191.8" r="1.0"/>
<circle cx="179.5" cy="184.9" r="1.0"/>
<circle cx="166.9" cy="187.2" r="1.0"/>
<circle cx="164.2" cy="187.0" r="1.0"/>
<circle cx="136.0" cy="193.0" r="1.0"/>
<circle cx="105.5" cy="186.0" r="1.0"/>
<circle cx="162.6" cy="185.2" r="1.0"/>
<circle cx="105.3" cy="187.9" r="1.0"/>
<circle cx="156.3" cy="188.8" r="1.0"/>
<circle cx="105.0" cy="185.2" r="1.0"/>
<circle cx="123.3" cy="192.4" r="1.0"/>
<circle cx="146.4" cy="192.5" r="1.0"/>
<circle cx="114.1" cy="187.4" r="1.0"/>
<circle cx="144.2" cy="191.9" r="1.0"/>
<circle cx="106.0" cy="188.3" r="1.0"/>
<circle cx="138.3" cy="191.1" r="1.0"/>
<circle cx="134.6" cy="193.1" r="1.0"/>
<circle cx="157.0" cy="191.5" r="1.0"/>
<circle cx="140.3" cy="191.6" r="1.0"/>
<circle cx="130.5" cy="192.5" r="1.0"/>
<circle cx="104.3" cy="187.3" r="1.0"/>
<circle cx="110.0" cy="187.9" r="1.0"/>
<circle cx="113.3" cy="187.0" r="1.0"/>
<circle cx="109.7" cy="186.6" r="1.0"/>
<circle cx="149.3" cy="189.0" r="1.0"/>
<circle cx="130.5" cy="191.7" r="1.0"/>
<circle cx="172.6" cy="186.2" r="1.0"/>
<circle cx="148.6" cy="188.7" r="1.0"/>
<circle cx="124.9" cy="190.4" r="1.0"/>
<circle cx="116.2" cy="186.6" r="1.0"/>
<circle cx="162.2" cy="188.4" r="1.0"/>
<circle cx="118.4" cy="185.3" r="1.0"/>
<circle cx="170.9" cy="186.4" r="1.0"/>
<circle cx="160.9" cy="187.6" r="1.0"/>
<circle cx="151.8" cy="189.1" r="1.0"/>
<circle cx="178.8" cy="185.7" r="1.0"/>
<circle cx="139.6" cy="190.0" r="1.0"/>
<circle cx="164.3" cy="185.4" r="1.0"/>
<circle cx="122.9" cy="191.5" r="1.0"/>
<circle cx="97.8" cy="185.6" r="1.0"/>
<circle cx="147.2" cy="189.4" r="1.0"/>
<circle cx="125.4" cy="186.0" r="1.0"/>
<circle cx="182.6" cy="185.5" r="1.0"/>
<circle cx="169.2" cy="185.3" r="1.0"/>
<circle cx="167.2" cy="186.0" r="1.0"/>
<circle cx="113.0" cy="188.1" r="1.0"/>
<circle cx="151.0" cy="185.7" r="1.0"/>
<circle cx="165.4" cy="188.1" r="1.0"/>
<circle cx="177.9" cy="187.0" r="1.0"/>
<circle cx="158.4" cy="187.3" r="1.0"/>
<circle cx="182.6" cy="185.5" r="1.0"/>
<circle cx="121.5" cy="191.4" r="1.0"/>
<circle cx="161.9" cy="186.5" r="1.0"/>
<circle cx="117.6" cy="184.9" r="1.0"/>
<circle cx="144.3" cy="187.0" r="1.0"/>
<circle cx="121.7" cy="186.8" r="1.0"/>
<circle cx="106.7" cy="186.8" r="1.0"/>
<circle cx="119.8" cy="186.9" r="1.0"/>
<circle cx="120.3" cy="188.6" r="1.0"/>
<circle cx="175.5" cy="185.3" r="1.0"/>
<circle cx="174.2" cy="187.7" r="1.0"/>
<circle cx="151.0" cy="189.1" r="1.0"/>
<circle cx="162.5" cy="188.1" r="1.0"/>
<circle cx="155.7" cy="191.6" r="1.0"/>
<circle cx="166.4" cy="186.2" r="1.0"/>
<circle cx="99.6" cy="186.5" r="1.0"/>
<circle cx="128.1" cy="191.4" r="1.0"/>
<circle cx="116.2" cy="187.9" r="1.0"/>
<circle cx="128.9" cy="191.0" r="1.0"/>
<circle cx="182.0" cy="185.4" r="1.0"/>
<circle cx="147.0" cy="187.7" r="1.0"/>
<circle cx="116.1" cy="191.2" r="1.0"/>
<circle cx="104.8" cy="188.1" r="1.0"/>
<circle cx="155.4" cy="185.3" r="1.0"/>
<circle cx="178.1" cy="185.0" r="1.0"/>
<circle cx="146.9" cy="185.8" r="1.0"/>
<circle cx="123.2" cy="191.7" r="1.0"/>
<circle cx="100.2" cy="186.2" r="1.0"/>
<circle cx="100.8" cy="184.9" r="1.0"/>
<circle cx="147.4" cy="192.9" r="1.0"/>
<circle cx="158.0" cy="190.8" r="1.0"/>
<circle cx="167.2" cy="187.6" r="1.0"/>
<circle cx="101.7" cy="186.1" r="1.0"/>
<circle cx="111.6" cy="187.9" r="1.0"/>
<circle cx="127.4" cy="189.0" r="1.0"/>
<circle cx="112.8" cy="189.1" r="1.0"/>
<circle cx="133.2" cy="192.9" r="1.0"/>
<circle cx="101.8" cy="186.1" r="1.0"/>
<circle cx="146.2" cy="192.9" r="1.0"/>
<circle cx="146.6" cy="185.9" r="1.0"/>
<circle cx="122.4" cy="187.4" r="1.0"/>
<circle cx="159.6" cy="191.1" r="1.0"/>
<circle cx="182.5" cy="185.7" r="1.0"/>
<circle cx="174.1" cy="188.0" r="1.0"/>
<circle cx="96.4" cy="185.2" r="1.0"/>
<circle cx="149.3" cy="190.3" r="1.0"/>
<circle cx="151.3" cy="189.6" r="1.0"/>
<circle cx="181.0" cy="184.9" r="1.0"/>
<circle cx="142.6" cy="193.0" r="1.0"/>
<circle cx="97.5" cy="184.9" r="1.0"/>
<circle cx="175.0" cy="187.8" r="1.0"/>
<circle cx="96.8" cy="184.8" r="1.0"/>
<circle cx="171.4" cy="187.7" r="1.0"/>
<circle cx="142.7" cy="189.8" r="1.0"/>
<circle cx="164.7" cy="189.5" r="1.0"/>
<circle cx="94.6" cy="184.9" r="1.0"/>
<circle cx="168.1" cy="189.8" r="1.0"/>
<circle cx="171.7" cy="186.5" r="1.0"/>
<circle cx="125.6" cy="187.6" r="1.0"/>
<circle cx="95.9" cy="185.4" r="1.0"/>
<circle cx="118.8" cy="189.0" r="1.0"/>
<circle cx="143.3" cy="187.7" r="1.0"/>
<circle cx="157.1" cy="188.1" r="1.0"/>
<circle cx="116.3" cy="190.8" r="1.0"/>
<circle cx="110.8" cy="185.6" r="1.0"/>
<circle cx="118.0" cy="188.2" r="1.0"/>
<circle cx="167.1" cy="186.6" r="1.0"/>
<circle cx="116.6" cy="189.3" r="1.0"/>
<circle cx="118.7" cy="188.6" r="1.0"/>
<circle cx="118.2" cy="191.0" r="1.0"/>
<circle cx="111.6" cy="186.2" r="1.0"/>
<circle cx="122.5" cy="187.4" r="1.0"/>
<circle cx="161.8" cy="189.1" r="1.0"/>
<circle cx="167.8" cy="187.6" r="1.0"/>
<circle cx="101.8" cy="186.8" r="1.0"/>
<circle cx="117.2" cy="186.3" r="1.0"/>
<circle cx="132.9" cy="193.6" r="1.0"/>
<circle cx="128.9" cy="187.8" r="1.0"/>
<circle cx="178.9" cy="186.8" r="1.0"/>
<circle cx="130.4" cy="189.7" r="1.0"/>
<circle cx="167.7" cy="188.9" r="1.0"/>
<circle cx="125.9" cy="191.3" r="1.0"/>
<circle cx="129.7" cy="189.2" r="1.0"/>
<circle cx="149.5" cy="190.7" r="1.0"/>
<circle cx="138.6" cy="192.9" r="1.0"/>
<circle cx="95.8" cy="185.2" r="1.0"/>
<circle cx="129.8" cy="188.1" r="1.0"/>
<circle cx="179.3" cy="185.1" r="1.0"/>
<circle cx="113.6" cy="190.3" r="1.0"/>
<circle cx="183.5" cy="185.4" r="1.0"/>
<circle cx="126.2" cy="192.5" r="1.0"/>
<circle cx="107.7" cy="188.0" r="1.0"/>
<circle cx="182.1" cy="185.0" r="1.0"/>
<circle cx="107.1" cy="187.8" r="1.0"/>
<circle cx="176.3" cy="186.8" r="1.0"/>
<circle cx="182.5" cy="185.2" r="1.0"/>
<circle cx="129.0" cy="186.1" r="1.0"/>
<circle cx="119.8" cy="191.8" r="1.0"/>
<circle cx="101.2" cy="185.2" r="1.0"/>
<circle cx="126.7" cy="185.2" r="1.0"/>
<circle cx="123.0" cy="186.2" r="1.0"/>
<circle cx="105.9" cy="186.9" r="1.0"/>
<circle cx="144.6" cy="189.6" r="1.0"/>
<circle cx="165.2" cy="187.8" r="1.0"/>
<circle cx="182.3" cy="184.9" r="1.0"/>
<circle cx="115.2" cy="185.3" r="1.0"/>
<circle cx="123.2" cy="190.8" r="1.0"/>
<circle cx="180.2" cy="185.6" r="1.0"/>
<circle cx="109.4" cy="186.5" r="1.0"/>
<circle cx="147.2" cy="187.2" r="1.0"/>
<circle cx="168.0" cy="189.9" r="1.0"/>
<circle cx="137.1" cy="192.9" r="1.0"/>
<circle cx="172.9" cy="186.6" r="1.0"/>
<circle cx="112.2" cy="190.5" r="1.0"/>
<circle cx="96.8" cy="185.5" r="1.0"/>
<circle cx="131.6" cy="191.1" r="1.0"/>
<circle cx="109.6" cy="185.7" r="1.0"/>
<circle cx="162.8" cy="186.1" r="1.0"/>
<circle cx="96.4" cy="185.0" r="1.0"/>
<circle cx="168.6" cy="187.3" r="1.0"/>
<circle cx="155.0" cy="188.2" r="1.0"/>
<circle cx="111.5" cy="184.9" r="1.0"/>
<circle cx="122.7" cy="185.1" r="1.0"/>
<circle cx="118.7" cy="189.3" r="1.0"/>
<circle cx="128.8" cy="188.8" r="1.0"/>
<circle cx="152.3" cy="187.2" r="1.0"/>
<circle cx="127.6" cy="192.2" r="1.0"/>
<circle cx="148.4" cy="188.2" r="1.0"/>
<circle cx="144.6" cy="188.7" r="1.0"/>
<circle cx="125.3" cy="192.2" r="1.0"/>
<circle cx="116.2" cy="191.1" r="1.0"/>
<circle cx="173.6" cy="188.0" r="1.0"/>
<circle cx="109.6" cy="187.4" r="1.0"/>
<circle cx="121.3" cy="186.1" r="1.0"/>
<circle cx="161.6" cy="186.3" r="1.0"/>
<circle cx="148.6" cy="186.1" r="1.0"/>
<circle cx="182.3" cy="185.1" r="1.0"/>
<circle cx="103.5" cy="187.0" r="1.0"/>
<circle cx="126.7" cy="189.4" r="1.0"/>
<circle cx="140.6" cy="192.9" r="1.0"/>
<circle cx="142.2" cy="188.0" r="1.0"/>
<circle cx="94.7" cy="185.2" r="1.0"/>
<circle cx="119.5" cy="189.0" r="1.0"/>
<circle cx="153.1" cy="188.3" r="1.0"/>
<circle cx="102.9" cy="186.3" r="1.0"/>
<circle cx="139.2" cy="192.1" r="1.0"/>
<circle cx="184.4" cy="184.9" r="1.0"/>
<circle cx="135.6" cy="192.8" r="1.0"/>
<circle cx="168.6" cy="186.0" r="1.0"/>
<circle cx="171.3" cy="188.2" r="1.0"/>
<circle cx="118.1" cy="191.2" r="1.0"/>
<circle cx="141.2" cy="188.5" r="1.0"/>
<circle cx="146.0" cy="192.7" r="1.0"/>
<circle cx="139.9" cy="190.8" r="1.0"/>
<circle cx="121.5" cy="191.3" r="1.0"/>
<circle cx="141.1" cy="187.7" r="1.0"/>
<circle cx="112.7" cy="186.1" r="1.0"/>
<circle cx="171.8" cy="188.1" r="1.0"/>
<circle cx="179.5" cy="186.1" r="1.0"/>
<circle cx="168.4" cy="188.4" r="1.0"/>
<circle cx="169.5" cy="188.6" r="1.0"/>
<circle cx="110.9" cy="189.4" r="1.0"/>
<circle cx="122.6" cy="186.7" r="1.0"/>
<circle cx="179.7" cy="184.8" r="1.0"/>
<circle cx="142.0" cy="187.7" r="1.0"/>
<circle cx="167.9" cy="188.0" r="1.0"/>
<circle cx="178.9" cy="186.7" r="1.0"/>
<circle cx="154.2" cy="185.3" r="1.0"/>
<circle cx="156.3" cy="185.6" r="1.0"/>
<circle cx="175.3" cy="185.8" r="1.0"/>
<circle cx="111.8" cy="188.9" r="1.0"/>
<circle cx="164.8" cy="190.5" r="1.0"/>
<circle cx="152.2" cy="185.8" r="1.0"/>
<circle cx="161.9" cy="185.2" r="1.0"/>
<circle cx="174.9" cy="187.3" r="1.0"/>
<circle cx="167.3" cy="189.5" r="1.0"/>
<circle cx="147.3" cy="192.6" r="1.0"/>
<circle cx="153.7" cy="188.5" r="1.0"/>
<circle cx="130.2" cy="190.3" r="1.0"/>
<circle cx="96.7" cy="184.9" r="1.0"/>
<circle cx="168.2" cy="186.0" r="1.0"/>
<circle cx="155.1" cy="190.5" r="1.0"/>
<circle cx="158.9" cy="188.3" r="1.0"/>
<circle cx="123.8" cy="187.0" r="1.0"/>
<circle cx="111.9" cy="188.7" r="1.0"/>
<circle cx="158.1" cy="191.4" r="1.0"/>
<circle cx="125.2" cy="192.3" r="1.0"/>
<circle cx="179.0" cy="185.4" r="1.0"/>
<circle cx="182.7" cy="185.3" r="1.0"/>
<circle cx="183.7" cy="185.3" r="1.0"/>
<circle cx="125.4" cy="187.1" r="1.0"/>
<circle cx="143.0" cy="189.0" r="1.0"/>
<circle cx="97.8" cy="185.9" r="1.0"/>
<circle cx="144.1" cy="188.8" r="1.0"/>
<circle cx="163.5" cy="186.3" r="1.0"/>
<circle cx="113.0" cy="188.4" r="1.0"/>
<circle cx="116.9" cy="187.1" r="1.0"/>
<circle cx="101.0" cy="184.9" r="1.0"/>
<circle cx="127.5" cy="189.2" r="1.0"/>
<circle cx="182.4" cy="185.4" r="1.0"/>
<circle cx="132.9" cy="192.7" r="1.0"/>
<circle cx="116.4" cy="188.0" r="1.0"/>
<circle cx="183.4" cy="184.9" r="1.0"/>
<circle cx="134.7" cy="193.3" r="1.0"/>
<circle cx="165.2" cy="188.0" r="1.0"/>
<circle cx="153.9" cy="191.9" r="1.0"/>
<circle cx="178.1" cy="185.4" r="1.0"/>
<circle cx="144.7" cy="193.3" r="1.0"/>
<circle cx="143.4" cy="186.4" r="1.0"/>
<circle cx="165.5" cy="185.1" r="1.0"/>
<circle cx="108.5" cy="187.5" r="1.0"/>
<circle cx="119.8" cy="190.1" r="1.0"/>
<circle cx="161.9" cy="186.8" r="1.0"/>
<circle cx="165.6" cy="188.5" r="1.0"/>
<circle cx="159.9" cy="187.8" r="1.0"/>
<circle cx="134.6" cy="192.9" r="1.0"/>
<circle cx="138.5" cy="193.3" r="1.0"/>
<circle cx="176.8" cy="184.9" r="1.0"/>
<circle cx="101.1" cy="185.4" r="1.0"/>
<circle cx="158.9" cy="187.8" r="1.0"/>
<circle cx="106.4" cy="186.5" r="1.0"/>
<circle cx="147.6" cy="190.9" r="1.0"/>
<circle cx="131.9" cy="192.8" r="1.0"/>
<circle cx="157.7" cy="189.2" r="1.0"/>
<circle cx="98.8" cy="185.9" r="1.0"/>
<circle cx="106.5" cy="185.0" r="1.0"/>
<circle cx="138.4" cy="190.9" r="1.0"/>
<circle cx="101.3" cy="185.7" r="1.0"/>
<circle cx="138.0" cy="191.6" r="1.0"/>
<circle cx="182.9" cy="185.5" r="1.0"/>
<circle cx="139.6" cy="191.6" r="1.0"/>
<circle cx="123.8" cy="192.6" r="1.0"/>
<circle cx="105.7" cy="186.0" r="1.0"/>
<circle cx="115.0" cy="190.5" r="1.0"/>
<circle cx="141.7" cy="188.3" r="1.0"/>
<circle cx="131.5" cy="193.2" r="1.0"/>
<circle cx="118.4" cy="190.5" r="1.0"/>
<circle cx="160.1" cy="187.8" r="1.0"/>
<circle cx="128.4" cy="188.5" r="1.0"/>
<circle cx="136.5" cy="192.8" r="1.0"/>
<circle cx="152.3" cy="188.0" r="1.0"/>
<circle cx="122.7" cy="190.9" r="1.0"/>
<circle cx="136.7" cy="192.9" r="1.0"/>
<circle cx="176.0" cy="186.1" r="1.0"/>
<circle cx="129.4" cy="192.7" r="1.0"/>
<circle cx="167.3" cy="186.9" r="1.0"/>
<circle cx="156.7" cy="190.2" r="1.0"/>
<circle cx="122.0" cy="190.4" r="1.0"/>
<circle cx="182.5" cy="185.4" r="1.0"/>
<circle cx="156.5" cy="188.0" r="1.0"/>
<circle cx="155.1" cy="186.5" r="1.0"/>
<circle cx="165.9" cy="187.8" r="1.0"/>
<circle cx="126.2" cy="190.6" r="1.0"/>
<circle cx="96.1" cy="185.1" r="1.0"/>
<circle cx="165.5" cy="186.3" r="1.0"/>
<circle cx="151.4" cy="186.5" r="1.0"/>
<circle cx="131.4" cy="193.5" r="1.0"/>
<circle cx="112.8" cy="190.4" r="1.0"/>
<circle cx="100.1" cy="186.0" r="1.0"/>
<circle cx="170.6" cy="188.5" r="1.0"/>
<circle cx="130.8" cy="192.0" r="1.0"/>
<circle cx="160.5" cy="189.8" r="1.0"/>
<circle cx="163.7" cy="188.3" r="1.0"/>
<circle cx="117.9" cy="189.8" r="1.0"/>
<circle cx="146.5" cy="189.3" r="1.0"/>
<circle cx="107.2" cy="188.2" r="1.0"/>
<circle cx="124.6" cy="190.7" r="1.0"/>
<circle cx="182.6" cy="185.1" r="1.0"/>
<circle cx="147.1" cy="189.2" r="1.0"/>
<circle cx="140.4" cy="188.3" r="1.0"/>
<circle cx="152.5" cy="191.7" r="1.0"/>
<circle cx="156.0" cy="186.9" r="1.0"/>
<circle cx="169.2" cy="186.8" r="1.0"/>
<circle cx="108.0" cy="187.6" r="1.0"/>
<circle cx="137.2" cy="192.8" r="1.0"/>
<circle cx="147.3" cy="192.7" r="1.0"/>
<circle cx="127.2" cy="191.1" r="1.0"/>
<circle cx="101.5" cy="185.5" r="1.0"/>
<circle cx="158.6" cy="189.6" r="1.0"/>
<circle cx="171.3" cy="186.4" r="1.0"/>
<circle cx="119.9" cy="187.5" r="1.0"/>
<circle cx="144.3" cy="185.0" r="1.0"/>
<circle cx="129.2" cy="190.9" r="1.0"/>
<circle cx="108.3" cy="186.3" r="1.0"/>
<circle cx="175.4" cy="187.7" r="1.0"/>
<circle cx="117.7" cy="186.0" r="1.0"/>
<circle cx="105.5" cy="185.1" r="1.0"/>
<circle cx="168.1" cy="188.6" r="1.0"/>
<circle cx="119.0" cy="188.4" r="1.0"/>
<circle cx="159.0" cy="185.0" r="1.0"/>
<circle cx="170.4" cy="188.7" r="1.0"/>
<circle cx="114.1" cy="189.3" r="1.0"/>
<circle cx="159.3" cy="187.1" r="1.0"/>
<circle cx="175.9" cy="185.4" r="1.0"/>
<circle cx="138.4" cy="191.7" r="1.0"/>
<circle cx="135.5" cy="193.4" r="1.0"/>
<circle cx="147.3" cy="189.8" r="1.0"/>
<circle cx="115.2" cy="186.3" r="1.0"/>
<circle cx="151.9" cy="186.0" r="1.0"/>
<circle cx="183.9" cy="185.0" r="1.0"/>
<circle cx="135.3" cy="193.1" r="1.0"/>
<circle cx="171.2" cy="188.7" r="1.0"/>
<circle cx="157.3" cy="186.0" r="1.0"/>
<circle cx="127.4" cy="190.7" r="1.0"/>
<circle cx="114.6" cy="190.5" r="1.0"/>
<circle cx="175.3" cy="185.5" r="1.0"/>
<circle cx="128.3" cy="186.7" r="1.0"/>
<circle cx="161.1" cy="185.1" r="1.0"/>
<circle cx="159.0" cy="185.2" r="1.0"/>
<circle cx="172.5" cy="186.9" r="1.0"/>
<circle cx="148.6" cy="185.6" r="1.0"/>
<circle cx="98.6" cy="185.3" r="1.0"/>
<circle cx="150.1" cy="191.6" r="1.0"/>
<circle cx="100.4" cy="185.0" r="1.0"/>
<circle cx="96.5" cy="185.3" r="1.0"/>
<circle cx="110.9" cy="186.3" r="1.0"/>
<circle cx="156.3" cy="189.9" r="1.0"/>
<circle cx="124.4" cy="188.6" r="1.0"/>
<circle cx="121.3" cy="189.1" r="1.0"/>
<circle cx="127.5" cy="187.8" r="1.0"/>
<circle cx="117.6" cy="186.8" r="1.0"/>
<circle cx="118.7" cy="184.9" r="1.0"/>
<circle cx="123.3" cy="189.5" r="1.0"/>
<circle cx="119.4" cy="185.6" r="1.0"/>
<circle cx="172.9" cy="186.6" r="1.0"/>
<circle cx="142.0" cy="187.5" r="1.0"/>
<circle cx="176.7" cy="186.8" r="1.0"/>
<circle cx="152.2" cy="189.9" r="1.0"/>
<circle cx="158.7" cy="188.3" r="1.0"/>
<circle cx="132.8" cy="192.6" r="1.0"/>
<circle cx="141.2" cy="188.8" r="1.0"/>
<circle cx="143.5" cy="189.3" r="1.0"/>
<circle cx="167.6" cy="189.5" r="1.0"/>
<circle cx="115.3" cy="184.9" r="1.0"/>
<circle cx="122.4" cy="185.0" r="1.0"/>
<circle cx="168.3" cy="188.0" r="1.0"/>
<circle cx="121.0" cy="186.3" r="1.0"/>
<circle cx="175.0" cy="187.5" r="1.0"/>
<circle cx="157.9" cy="189.7" r="1.0"/>
<circle cx="163.5" cy="187.5" r="1.0"/>
<circle cx="131.4" cy="192.2" r="1.0"/>
<circle cx="176.1" cy="187.6" r="1.0"/>
<circle cx="179.5" cy="186.3" r="1.0"/>
<circle cx="101.4" cy="185.4" r="1.0"/>
<circle cx="184.5" cy="185.0" r="1.0"/>
<circle cx="142.2" cy="187.5" r="1.0"/>
<circle cx="174.4" cy="186.5" r="1.0"/>
<circle cx="101.5" cy="187.3" r="1.0"/>
<circle cx="95.8" cy="184.9" r="1.0"/>
<circle cx="130.6" cy="192.0" r="1.0"/>
<circle cx="104.8" cy="186.8" r="1.0"/>
<circle cx="181.6" cy="185.3" r="1.0"/>
<circle cx="165.2" cy="188.2" r="1.0"/>
<circle cx="148.5" cy="186.2" r="1.0"/>
<circle cx="137.5" cy="193.3" r="1.0"/>
<circle cx="157.0" cy="186.4" r="1.0"/>
<circle cx="136.0" cy="193.1" r="1.0"/>
<circle cx="125.7" cy="189.5" r="1.0"/>
<circle cx="153.0" cy="184.9" r="1.0"/>
<circle cx="114.9" cy="189.1" r="1.0"/>
<circle cx="114.4" cy="185.3" r="1.0"/>
<circle cx="165.1" cy="186.7" r="1.0"/>
<circle cx="183.3" cy="185.2" r="1.0"/>
<circle cx="103.9" cy="186.9" r="1.0"/>
<circle cx="118.8" cy="190.7" r="1.0"/>
<circle cx="161.6" cy="189.6" r="1.0"/>
<circle cx="99.9" cy="184.9" r="1.0"/>
<circle cx="168.5" cy="185.5" r="1.0"/>
<circle cx="113.2" cy="185.0" r="1.0"/>
<circle cx="109.7" cy="187.3" r="1.0"/>
<circle cx="183.3" cy="185.0" r="1.0"/>
<circle cx="118.6" cy="190.7" r="1.0"/>
<circle cx="111.6" cy="188.5" r="1.0"/>
<circle cx="151.5" cy="192.1" r="1.0"/>
<circle cx="98.6" cy="185.6" r="1.0"/>
<circle cx="130.0" cy="192.5" r="1.0"/>
<circle cx="117.9" cy="189.9" r="1.0"/>
<circle cx="111.7" cy="187.7" r="1.0"/>
<circle cx="184.2" cy="184.9" r="1.0"/>
<circle cx="120.4" cy="191.7" r="1.0"/>
<circle cx="157.0" cy="185.3" r="1.0"/>
<circle cx="111.8" cy="186.2" r="1.0"/>
<circle cx="121.4" cy="191.3" r="1.0"/>
<circle cx="159.4" cy="191.4" r="1.0"/>
<circle cx="156.6" cy="189.3" r="1.0"/>
<circle cx="130.0" cy="192.0" r="1.0"/>
<circle cx="140.3" cy="188.0" r="1.0"/>
<circle cx="140.1" cy="190.1" r="1.0"/>
<circle cx="143.7" cy="185.2" r="1.0"/>
<circle cx="97.1" cy="185.8" r="1.0"/>
<circle cx="128.9" cy="187.6" r="1.0"/>
<circle cx="108.3" cy="187.6" r="1.0"/>
<circle cx="179.3" cy="185.1" r="1.0"/>
<circle cx="140.9" cy="189.5" r="1.0"/>
<circle cx="165.5" cy="188.0" r="1.0"/>
<circle cx="116.7" cy="186.1" r="1.0"/>
<circle cx="161.7" cy="185.3" r="1.0"/>
<circle cx="174.6" cy="184.9" r="1.0"/>
<circle cx="112.1" cy="187.6" r="1.0"/>
<circle cx="172.7" cy="187.2" r="1.0"/>
<circle cx="163.6" cy="189.4" r="1.0"/>
<circle cx="161.5" cy="185.1" r="1.0"/>
<circle cx="171.0" cy="185.4" r="1.0"/>
<circle cx="109.6" cy="185.0" r="1.0"/>
<circle cx="97.2" cy="185.7" r="1.0"/>
<circle cx="129.8" cy="188.4" r="1.0"/>
<circle cx="98.9" cy="186.1" r="1.0"/>
<circle cx="150.3" cy="192.1" r="1.0"/>
<circle cx="98.0" cy="184.9" r="1.0"/>
<circle cx="121.1" cy="186.3" r="1.0"/>
<circle cx="104.9" cy="185.5" r="1.0"/>
<circle cx="153.9" cy="186.1" r="1.0"/>
<circle cx="110.2" cy="187.7" r="1.0"/>
<circle cx="129.3" cy="187.5" r="1.0"/>
<circle cx="147.2" cy="189.0" r="1.0"/>
<circle cx="130.5" cy="191.3" r="1.0"/>
<circle cx="98.2" cy="185.6" r="1.0"/>
<circle cx="112.5" cy="186.8" r="1.0"/>
<circle cx="95.4" cy="185.5" r="1.0"/>
<circle cx="149.0" cy="188.0" r="1.0"/>
<circle cx="144.7" cy="192.8" r="1.0"/>
<circle cx="106.8" cy="186.4" r="1.0"/>
<circle cx="160.1" cy="187.3" r="1.0"/>
<circle cx="160.0" cy="190.8" r="1.0"/>
<circle cx="98.3" cy="185.2" r="1.0"/>
<circle cx="121.7" cy="190.6" r="1.0"/>
<circle cx="167.2" cy="188.5" r="1.0"/>
<circle cx="180.2" cy="185.1" r="1.0"/>
<circle cx="131.0" cy="193.0" r="1.0"/>
<circle cx="165.5" cy="185.4" r="1.0"/>
<circle cx="163.1" cy="190.1" r="1.0"/>
<circle cx="128.1" cy="189.9" r="1.0"/>
<circle cx="183.4" cy="185.4" r="1.0"/>
<circle cx="148.0" cy="192.1" r="1.0"/>
<circle cx="172.3" cy="187.4" r="1.0"/>
<circle cx="183.5" cy="184.9" r="1.0"/>
<circle cx="131.9" cy="192.6" r="1.0"/>
<circle cx="106.7" cy="188.1" r="1.0"/>
<circle cx="100.3" cy="186.1" r="1.0"/>
<circle cx="120.5" cy="187.2" r="1.0"/>
<circle cx="150.8" cy="186.3" r="1.0"/>
<circle cx="136.0" cy="193.4" r="1.0"/>
<circle cx="118.9" cy="187.4" r="1.0"/>
<circle cx="158.8" cy="186.1" r="1.0"/>
<circle cx="173.2" cy="185.5" r="1.0"/>
<circle cx="146.1" cy="187.6" r="1.0"/>
<circle cx="94.7" cy="184.8" r="1.0"/>
<circle cx="94.7" cy="185.1" r="1.0"/>
<circle cx="120.0" cy="192.2" r="1.0"/>
<circle cx="153.6" cy="185.3" r="1.0"/>
<circle cx="160.9" cy="186.3" r="1.0"/>
<circle cx="139.2" cy="192.4" r="1.0"/>
<circle cx="173.9" cy="188.1" r="1.0"/>
<circle cx="133.5" cy="192.8" r="1.0"/>
<circle cx="131.4" cy="191.5" r="1.0"/>
<circle cx="163.2" cy="187.6" r="1.0"/>
<circle cx="158.0" cy="185.9" r="1.0"/>
<circle cx="167.1" cy="190.0" r="1.0"/>
<circle cx="113.4" cy="188.6" r="1.0"/>
<circle cx="109.6" cy="185.0" r="1.0"/>
<circle cx="132.9" cy="192.4" r="1.0"/>
<circle cx="162.2" cy="188.4" r="1.0"/>
<circle cx="157.0" cy="191.8" r="1.0"/>
<circle cx="99.9" cy="185.0" r="1.0"/>
<circle cx="97.9" cy="185.4" r="1.0"/>
<circle cx="170.9" cy="187.8" r="1.0"/>
<circle cx="145.3" cy="192.1" r="1.0"/>
<circle cx="129.0" cy="186.0" r="1.0"/>
<circle cx="154.0" cy="185.0" r="1.0"/>
<circle cx="115.8" cy="185.0" r="1.0"/>
<circle cx="109.5" cy="185.1" r="1.0"/>
<circle cx="143.8" cy="185.9" r="1.0"/>
<circle cx="150.4" cy="191.3" r="1.0"/>
<circle cx="126.5" cy="185.8" r="1.0"/>
<circle cx="156.7" cy="190.1" r="1.0"/>
<circle cx="176.4" cy="186.3" r="1.0"/>
<circle cx="148.5" cy="191.8" r="1.0"/>
<circle cx="157.3" cy="191.8" r="1.0"/>
<circle cx="121.1" cy="190.7" r="1.0"/>
<circle cx="153.2" cy="188.4" r="1.0"/>
<circle cx="95.5" cy="185.2" r="1.0"/>
<circle cx="118.9" cy="189.2" r="1.0"/>
<circle cx="141.7" cy="189.2" r="1.0"/>
<circle cx="100.0" cy="185.1" r="1.0"/>
<circle cx="150.8" cy="190.2" r="1.0"/>
<circle cx="168.0" cy="186.3" r="1.0"/>
<circle cx="136.8" cy="192.9" r="1.0"/>
<circle cx="169.0" cy="186.7" r="1.0"/>
<circle cx="179.8" cy="185.6" r="1.0"/>
<circle cx="131.4" cy="192.0" r="1.0"/>
<circle cx="127.6" cy="193.2" r="1.0"/>
<circle cx="98.8" cy="185.4" r="1.0"/>
<circle cx="101.9" cy="186.6" r="1.0"/>
<circle cx="108.5" cy="185.5" r="1.0"/>
<circle cx="133.8" cy="193.2" r="1.0"/>
<circle cx="165.3" cy="187.3" r="1.0"/>
<circle cx="121.9" cy="187.7" r="1.0"/>
<circle cx="176.8" cy="185.4" r="1.0"/>
<circle cx="95.6" cy="185.5" r="1.0"/>
<circle cx="139.3" cy="190.2" r="1.0"/>
<circle cx="107.2" cy="188.7" r="1.0"/>
<circle cx="163.9" cy="185.2" r="1.0"/>
<circle cx="157.1" cy="186.3" r="1.0"/>
<circle cx="135.9" cy="193.2" r="1.0"/>
<circle cx="99.3" cy="186.4" r="1.0"/>
<circle cx="125.6" cy="186.0" r="1.0"/>
<circle cx="166.8" cy="185.4" r="1.0"/>
<circle cx="98.0" cy="185.6" r="1.0"/>
<circle cx="138.1" cy="193.2" r="1.0"/>
<circle cx="167.8" cy="185.9" r="1.0"/>
<circle cx="98.7" cy="185.7" r="1.0"/>
<circle cx="138.1" cy="191.9" r="1.0"/>
<circle cx="179.5" cy="185.2" r="1.0"/>
<circle cx="154.1" cy="185.4" r="1.0"/>
<circle cx="180.1" cy="186.4" r="1.0"/>
<circle cx="151.8" cy="187.3" r="1.0"/>
<circle cx="161.6" cy="190.5" r="1.0"/>
<circle cx="168.2" cy="185.0" r="1.0"/>
<circle cx="141.2" cy="186.0" r="1.0"/>
<circle cx="145.2" cy="192.9" r="1.0"/>
<circle cx="174.7" cy="185.6" r="1.0"/>
<circle cx="145.7" cy="187.5" r="1.0"/>
<circle cx="110.2" cy="188.8" r="1.0"/>
<circle cx="164.9" cy="186.7" r="1.0"/>
<circle cx="133.5" cy="193.2" r="1.0"/>
<circle cx="161.9" cy="187.7" r="1.0"/>
<circle cx="105.5" cy="185.2" r="1.0"/>
<circle cx="110.3" cy="189.3" r="1.0"/>
<circle cx="140.5" cy="191.1" r="1.0"/>
<circle cx="128.3" cy="187.9" r="1.0"/>
<circle cx="110.9" cy="190.3" r="1.0"/>
<circle cx="150.6" cy="185.8" r="1.0"/>
<circle cx="159.6" cy="188.8" r="1.0"/>
<circle cx="151.4" cy="190.8" r="1.0"/>
<circle cx="150.9" cy="191.7" r="1.0"/>
<circle cx="184.4" cy="185.0" r="1.0"/>
<circle cx="154.6" cy="187.6" r="1.0"/>
<circle cx="132.6" cy="192.5" r="1.0"/>
<circle cx="154.5" cy="187.4" r="1.0"/>
<circle cx="127.2" cy="191.8" r="1.0"/>
<circle cx="168.6" cy="188.2" r="1.0"/>
<circle cx="172.7" cy="186.3" r="1.0"/>
<circle cx="154.1" cy="186.7" r="1.0"/>
<circle cx="123.8" cy="185.6" r="1.0"/>
<circle cx="168.5" cy="189.5" r="1.0"/>
<circle cx="122.6" cy="187.8" r="1.0"/>
<circle cx="105.4" cy="185.3" r="1.0"/>
<circle cx="153.7" cy="191.5" r="1.0"/>
<circle cx="102.3" cy="185.5" r="1.0"/>
<circle cx="164.9" cy="186.1" r="1.0"/>
<circle cx="175.8" cy="185.8" r="1.0"/>
<circle cx="138.4" cy="191.4" r="1.0"/>
<circle cx="121.5" cy="188.1" r="1.0"/>
<circle cx="120.3" cy="190.3" r="1.0"/>
<circle cx="97.3" cy="185.5" r="1.0"/>
<circle cx="168.9" cy="186.4" r="1.0"/>
<circle cx="112.3" cy="185.5" r="1.0"/>
<circle cx="101.7" cy="186.8" r="1.0"/>
<circle cx="150.4" cy="184.9" r="1.0"/>
<circle cx="136.5" cy="193.1" r="1.0"/>
<circle cx="124.1" cy="185.1" r="1.0"/>
<circle cx="133.5" cy="192.9" r="1.0"/>
<circle cx="184.6" cy="184.9" r="1.0"/>
<circle cx="180.0" cy="186.3" r="1.0"/>
<circle cx="147.7" cy="185.8" r="1.0"/>
<circle cx="169.4" cy="185.2" r="1.0"/>
<circle cx="146.2" cy="185.6" r="1.0"/>
<circle cx="103.1" cy="186.0" r="1.0"/>
<circle cx="109.0" cy="189.8" r="1.0"/>
<circle cx="148.1" cy="192.1" r="1.0"/>
<circle cx="183.1" cy="185.4" r="1.0"/>
<circle cx="154.4" cy="188.3" r="1.0"/>
<circle cx="166.6" cy="188.5" r="1.0"/>
<circle cx="109.2" cy="187.5" r="1.0"/>
<circle cx="132.9" cy="192.8" r="1.0"/>
<circle cx="160.6" cy="189.3" r="1.0"/>
<circle cx="147.3" cy="191.3" r="1.0"/>
<circle cx="171.0" cy="185.2" r="1.0"/>
<circle cx="108.0" cy="185.0" r="1.0"/>
<circle cx="109.4" cy="189.7" r="1.0"/>
<circle cx="123.2" cy="188.3" r="1.0"/>
<circle cx="137.7" cy="192.7" r="1.0"/>
<circle cx="120.4" cy="190.7" r="1.0"/>
<circle cx="125.3" cy="191.7" r="1.0"/>
<circle cx="169.0" cy="184.8" r="1.0"/>
<circle cx="145.3" cy="185.6" r="1.0"/>
<circle cx="176.4" cy="185.0" r="1.0"/>
<circle cx="119.3" cy="190.4" r="1.0"/>
<circle cx="149.3" cy="190.2" r="1.0"/>
<circle cx="132.8" cy="192.8" r="1.0"/>
<circle cx="113.4" cy="187.7" r="1.0"/>
<circle cx="118.4" cy="189.6" r="1.0"/>
<circle cx="104.4" cy="185.3" r="1.0"/>
<circle cx="112.8" cy="188.1" r="1.0"/>
<circle cx="148.4" cy="184.8" r="1.0"/>
<circle cx="171.9" cy="186.3" r="1.0"/>
<circle cx="109.3" cy="189.0" r="1.0"/>
<circle cx="111.0" cy="189.1" r="1.0"/>
<circle cx="170.3" cy="189.0" r="1.0"/>
<circle cx="113.9" cy="185.6" r="1.0"/>
<circle cx="109.8" cy="186.0" r="1.0"/>
<circle cx="177.9" cy="186.9" r="1.0"/>
<circle cx="138.4" cy="191.2" r="1.0"/>
<circle cx="127.2" cy="186.8" r="1.0"/>
<circle cx="154.6" cy="190.2" r="1.0"/>
<circle cx="166.4" cy="187.2" r="1.0"/>
<circle cx="136.9" cy="192.8" r="1.0"/>
<circle cx="128.8" cy="188.7" r="1.0"/>
<circle cx="158.0" cy="189.8" r="1.0"/>
<circle cx="124.8" cy="189.4" r="1.0"/>
<circle cx="108.0" cy="185.0" r="1.0"/>
<circle cx="130.4" cy="190.7" r="1.0"/>
<circle cx="97.6" cy="184.9" r="1.0"/>
<circle cx="134.0" cy="193.5" r="1.0"/>
<circle cx="172.1" cy="184.9" r="1.0"/>
<circle cx="123.9" cy="187.7" r="1.0"/>
<circle cx="123.4" cy="185.9" r="1.0"/>
<circle cx="149.2" cy="191.5" r="1.0"/>
<circle cx="129.9" cy="189.0" r="1.0"/>
<circle cx="104.3" cy="184.9" r="1.0"/>
<circle cx="165.4" cy="186.1" r="1.0"/>
<circle cx="161.6" cy="189.8" r="1.0"/>
<circle cx="102.3" cy="185.3" r="1.0"/>
<circle cx="123.8" cy="190.9" r="1.0"/>
<circle cx="162.8" cy="186.7" r="1.0"/>
<circle cx="136.4" cy="192.8" r="1.0"/>
<circle cx="138.2" cy="193.0" r="1.0"/>
<circle cx="118.8" cy="190.7" r="1.0"/>
<circle cx="179.8" cy="185.9" r="1.0"/>
<circle cx="183.4" cy="185.4" r="1.0"/>
<circle cx="110.4" cy="190.2" r="1.0"/>
<circle cx="113.1" cy="189.8" r="1.0"/>
<circle cx="105.8" cy="186.0" r="1.0"/>
<circle cx="135.5" cy="193.4" r="1.0"/>
<circle cx="157.6" cy="186.2" r="1.0"/>
<circle cx="177.7" cy="186.9" r="1.0"/>
<circle cx="141.8" cy="185.2" r="1.0"/>
<circle cx="121.0" cy="187.0" r="1.0"/>
<circle cx="133.3" cy="193.5" r="1.0"/>
<circle cx="149.7" cy="191.4" r="1.0"/>
<circle cx="101.2" cy="185.4" r="1.0"/>
<circle cx="162.3" cy="186.9" r="1.0"/>
<circle cx="115.6" cy="185.2" r="1.0"/>
<circle cx="99.3" cy="185.5" r="1.0"/>
<circle cx="145.1" cy="188.2" r="1.0"/>
<circle cx="146.9" cy="187.2" r="1.0"/>
<circle cx="96.1" cy="185.2" r="1.0"/>
<circle cx="125.6" cy="188.8" r="1.0"/>
<circle cx="129.5" cy="188.8" r="1.0"/>
<circle cx="99.3" cy="185.3" r="1.0"/>
<circle cx="122.2" cy="185.7" r="1.0"/>
<circle cx="97.3" cy="185.3" r="1.0"/>
<circle cx="96.4" cy="185.4" r="1.0"/>
<circle cx="127.9" cy="188.5" r="1.0"/>
<circle cx="143.2" cy="185.0" r="1.0"/>
<circle cx="103.9" cy="187.4" r="1.0"/>
<circle cx="146.1" cy="188.9" r="1.0"/>
<circle cx="126.4" cy="191.0" r="1.0"/>
<circle cx="141.2" cy="191.6" r="1.0"/>
<circle cx="172.0" cy="188.4" r="1.0"/>
<circle cx="161.8" cy="189.1" r="1.0"/>
<circle cx="137.3" cy="192.8" r="1.0"/>
<circle cx="148.2" cy="189.1" r="1.0"/>
<circle cx="170.4" cy="188.7" r="1.0"/>
<circle cx="99.4" cy="186.1" r="1.0"/>
<circle cx="151.6" cy="189.5" r="1.0"/>
<circle cx="178.7" cy="184.9" r="1.0"/>
<circle cx="138.6" cy="191.7" r="1.0"/>
<circle cx="182.4" cy="185.0" r="1.0"/>
<circle cx="146.7" cy="186.0" r="1.0"/>
<circle cx="164.4" cy="187.7" r="1.0"/>
<circle cx="162.7" cy="186.7" r="1.0"/>
<circle cx="176.4" cy="184.8" r="1.0"/>
<circle cx="115.4" cy="189.6" r="1.0"/>
<circle cx="176.0" cy="187.1" r="1.0"/>
<circle cx="120.0" cy="185.4" r="1.0"/>
<circle cx="160.3" cy="189.6" r="1.0"/>
<circle cx="100.2" cy="186.7" r="1.0"/>
<circle cx="143.4" cy="185.1" r="1.0"/>
<circle cx="139.0" cy="191.3" r="1.0"/>
<circle cx="104.2" cy="187.8" r="1.0"/>
<circle cx="181.1" cy="185.0" r="1.0"/>
<circle cx="135.8" cy="192.9" r="1.0"/>
<circle cx="156.8" cy="185.6" r="1.0"/>
<circle cx="125.4" cy="188.1" r="1.0"/>
<circle cx="138.3" cy="192.1" r="1.0"/>
<circle cx="149.8" cy="192.3" r="1.0"/>
<circle cx="180.8" cy="186.1" r="1.0"/>
<circle cx="171.3" cy="185.8" r="1.0"/>
<circle cx="117.2" cy="188.0" r="1.0"/>
<circle cx="154.1" cy="189.4" r="1.0"/>
<circle cx="126.9" cy="193.0" r="1.0"/>
<circle cx="123.5" cy="185.0" r="1.0"/>
<circle cx="103.0" cy="185.4" r="1.0"/>
<circle cx="162.2" cy="190.1" r="1.0"/>
<circle cx="98.4" cy="185.1" r="1.0"/>
<circle cx="117.0" cy="190.2" r="1.0"/>
<circle cx="177.7" cy="185.4" r="1.0"/>
<circle cx="104.0" cy="188.0" r="1.0"/>
<circle cx="184.5" cy="185.0" r="1.0"/>
<circle cx="138.3" cy="192.8" r="1.0"/>
<circle cx="165.6" cy="187.7" r="1.0"/>
<circle cx="119.7" cy="188.7" r="1.0"/>
<circle cx="155.9" cy="187.2" r="1.0"/>
<circle cx="153.8" cy="185.9" r="1.0"/>
<circle cx="184.5" cy="184.9" r="1.0"/>
<circle cx="115.5" cy="191.2" r="1.0"/>
<circle cx="182.5" cy="185.7" r="1.0"/>
<circle cx="172.5" cy="188.1" r="1.0"/>
<circle cx="170.6" cy="187.3" r="1.0"/>
<circle cx="101.4" cy="186.6" r="1.0"/>
<circle cx="172.0" cy="188.2" r="1.0"/>
<circle cx="98.6" cy="184.9" r="1.0"/>
<circle cx="162.2" cy="187.8" r="1.0"/>
<circle cx="177.3" cy="187.3" r="1.0"/>
<circle cx="135.9" cy="193.2" r="1.0"/>
<circle cx="156.2" cy="189.9" r="1.0"/>
<circle cx="128.6" cy="190.2" r="1.0"/>
<circle cx="100.8" cy="186.8" r="1.0"/>
<circle cx="161.6" cy="189.9" r="1.0"/>
<circle cx="137.4" cy="192.2" r="1.0"/>
<circle cx="136.3" cy="193.2" r="1.0"/>
<circle cx="145.3" cy="185.7" r="1.0"/>
<circle cx="94.9" cy="185.1" r="1.0"/>
<circle cx="117.2" cy="186.4" r="1.0"/>
<circle cx="115.1" cy="187.5" r="1.0"/>
<circle cx="158.9" cy="191.1" r="1.0"/>
<circle cx="157.2" cy="184.9" r="1.0"/>
<circle cx="174.9" cy="186.8" r="1.0"/>
<circle cx="162.3" cy="188.6" r="1.0"/>
<circle cx="127.4" cy="187.6" r="1.0"/>
<circle cx="101.2" cy="186.4" r="1.0"/>
</g>
<g fill="#4089d6">
<circle cx="111.6" cy="183.3" r="0.95"/>
<circle cx="96.7" cy="179.6" r="0.95"/>
<circle cx="109.5" cy="184.8" r="0.95"/>
<circle cx="109.5" cy="178.3" r="0.95"/>
<circle cx="112.3" cy="167.6" r="0.95"/>
<circle cx="103.4" cy="182.0" r="0.95"/>
<circle cx="105.3" cy="180.5" r="0.95"/>
<circle cx="100.3" cy="184.0" r="0.95"/>
<circle cx="95.6" cy="180.6" r="0.95"/>
<circle cx="93.4" cy="176.5" r="0.95"/>
<circle cx="110.6" cy="180.0" r="0.95"/>
<circle cx="108.7" cy="181.5" r="0.95"/>
<circle cx="111.8" cy="178.4" r="0.95"/>
<circle cx="109.8" cy="182.6" r="0.95"/>
<circle cx="107.7" cy="180.0" r="0.95"/>
<circle cx="86.8" cy="166.5" r="0.95"/>
<circle cx="94.5" cy="181.3" r="0.95"/>
<circle cx="98.6" cy="170.2" r="0.95"/>
<circle cx="108.6" cy="184.3" r="0.95"/>
<circle cx="108.8" cy="183.9" r="0.95"/>
<circle cx="99.3" cy="179.7" r="0.95"/>
<circle cx="109.9" cy="183.6" r="0.95"/>
<circle cx="100.1" cy="182.7" r="0.95"/>
<circle cx="112.3" cy="182.1" r="0.95"/>
<circle cx="88.7" cy="176.9" r="0.95"/>
<circle cx="98.7" cy="170.8" r="0.95"/>
<circle cx="88.3" cy="177.1" r="0.95"/>
<circle cx="81.7" cy="183.4" r="0.95"/>
<circle cx="91.5" cy="169.6" r="0.95"/>
<circle cx="87.2" cy="178.8" r="0.95"/>
<circle cx="110.9" cy="178.8" r="0.95"/>
<circle cx="104.2" cy="181.1" r="0.95"/>
<circle cx="111.8" cy="178.6" r="0.95"/>
<circle cx="108.3" cy="167.4" r="0.95"/>
<circle cx="93.1" cy="181.6" r="0.95"/>
<circle cx="100.6" cy="184.0" r="0.95"/>
<circle cx="106.8" cy="176.5" r="0.95"/>
<circle cx="91.6" cy="184.6" r="0.95"/>
<circle cx="109.9" cy="180.4" r="0.95"/>
<circle cx="110.3" cy="183.5" r="0.95"/>
<circle cx="86.3" cy="179.7" r="0.95"/>
<circle cx="111.0" cy="181.8" r="0.95"/>
<circle cx="108.0" cy="184.7" r="0.95"/>
<circle cx="108.6" cy="181.3" r="0.95"/>
<circle cx="100.3" cy="184.0" r="0.95"/>
<circle cx="87.8" cy="182.2" r="0.95"/>
<circle cx="106.0" cy="171.6" r="0.95"/>
<circle cx="102.8" cy="182.0" r="0.95"/>
<circle cx="105.2" cy="181.7" r="0.95"/>
<circle cx="102.1" cy="180.9" r="0.95"/>
<circle cx="99.2" cy="179.8" r="0.95"/>
<circle cx="98.5" cy="181.8" r="0.95"/>
<circle cx="107.3" cy="179.8" r="0.95"/>
<circle cx="112.0" cy="172.6" r="0.95"/>
<circle cx="102.0" cy="181.3" r="0.95"/>
<circle cx="111.0" cy="183.0" r="0.95"/>
<circle cx="112.3" cy="182.1" r="0.95"/>
<circle cx="95.1" cy="179.0" r="0.95"/>
<circle cx="110.6" cy="184.6" r="0.95"/>
<circle cx="102.8" cy="179.5" r="0.95"/>
<circle cx="102.5" cy="182.8" r="0.95"/>
<circle cx="107.2" cy="184.8" r="0.95"/>
<circle cx="92.5" cy="184.5" r="0.95"/>
<circle cx="98.0" cy="183.3" r="0.95"/>
<circle cx="83.2" cy="180.1" r="0.95"/>
<circle cx="103.4" cy="182.8" r="0.95"/>
<circle cx="106.6" cy="183.3" r="0.95"/>
<circle cx="101.0" cy="183.1" r="0.95"/>
<circle cx="100.1" cy="182.4" r="0.95"/>
<circle cx="112.4" cy="182.2" r="0.95"/>
<circle cx="109.9" cy="180.1" r="0.95"/>
<circle cx="109.5" cy="179.0" r="0.95"/>
<circle cx="104.3" cy="183.6" r="0.95"/>
<circle cx="107.6" cy="180.2" r="0.95"/>
<circle cx="100.1" cy="184.3" r="0.95"/>
<circle cx="107.8" cy="177.9" r="0.95"/>
<circle cx="102.4" cy="182.1" r="0.95"/>
<circle cx="108.0" cy="183.3" r="0.95"/>
<circle cx="106.7" cy="180.6" r="0.95"/>
<circle cx="102.2" cy="183.6" r="0.95"/>
<circle cx="103.5" cy="184.3" r="0.95"/>
<circle cx="104.6" cy="177.6" r="0.95"/>
<circle cx="111.3" cy="178.8" r="0.95"/>
<circle cx="108.6" cy="178.7" r="0.95"/>
<circle cx="103.3" cy="180.1" r="0.95"/>
<circle cx="108.7" cy="184.3" r="0.95"/>
<circle cx="101.7" cy="183.2" r="0.95"/>
<circle cx="110.1" cy="183.4" r="0.95"/>
<circle cx="103.0" cy="182.4" r="0.95"/>
<circle cx="101.2" cy="172.4" r="0.95"/>
<circle cx="106.5" cy="184.2" r="0.95"/>
<circle cx="81.9" cy="167.9" r="0.95"/>
<circle cx="112.0" cy="170.9" r="0.95"/>
<circle cx="83.9" cy="164.7" r="0.95"/>
<circle cx="100.2" cy="183.6" r="0.95"/>
<circle cx="112.2" cy="181.4" r="0.95"/>
<circle cx="88.3" cy="179.7" r="0.95"/>
<circle cx="110.0" cy="183.9" r="0.95"/>
<circle cx="101.4" cy="184.5" r="0.95"/>
<circle cx="103.8" cy="177.4" r="0.95"/>
<circle cx="107.2" cy="184.7" r="0.95"/>
<circle cx="96.5" cy="170.2" r="0.95"/>
<circle cx="101.5" cy="173.8" r="0.95"/>
<circle cx="99.2" cy="184.8" r="0.95"/>
<circle cx="102.9" cy="178.5" r="0.95"/>
<circle cx="107.7" cy="180.6" r="0.95"/>
<circle cx="103.2" cy="181.4" r="0.95"/>
<circle cx="86.7" cy="178.0" r="0.95"/>
<circle cx="97.1" cy="182.5" r="0.95"/>
<circle cx="112.5" cy="182.8" r="0.95"/>
<circle cx="87.2" cy="173.9" r="0.95"/>
<circle cx="107.7" cy="181.9" r="0.95"/>
<circle cx="106.0" cy="177.8" r="0.95"/>
<circle cx="102.0" cy="172.6" r="0.95"/>
<circle cx="92.7" cy="174.6" r="0.95"/>
<circle cx="112.2" cy="181.7" r="0.95"/>
<circle cx="111.4" cy="178.3" r="0.95"/>
<circle cx="103.1" cy="183.4" r="0.95"/>
<circle cx="109.7" cy="182.2" r="0.95"/>
<circle cx="99.9" cy="177.2" r="0.95"/>
<circle cx="106.1" cy="184.9" r="0.95"/>
<circle cx="106.5" cy="184.3" r="0.95"/>
<circle cx="110.6" cy="184.6" r="0.95"/>
<circle cx="87.8" cy="184.2" r="0.95"/>
<circle cx="108.8" cy="182.3" r="0.95"/>
<circle cx="108.3" cy="183.2" r="0.95"/>
<circle cx="102.6" cy="180.0" r="0.95"/>
<circle cx="102.4" cy="183.9" r="0.95"/>
<circle cx="106.5" cy="183.2" r="0.95"/>
<circle cx="101.1" cy="178.6" r="0.95"/>
<circle cx="101.3" cy="182.5" r="0.95"/>
<circle cx="105.8" cy="182.9" r="0.95"/>
<circle cx="109.0" cy="181.4" r="0.95"/>
<circle cx="110.3" cy="179.2" r="0.95"/>
<circle cx="100.5" cy="179.9" r="0.95"/>
<circle cx="101.5" cy="181.5" r="0.95"/>
<circle cx="107.7" cy="180.1" r="0.95"/>
<circle cx="95.4" cy="181.2" r="0.95"/>
<circle cx="103.3" cy="183.6" r="0.95"/>
<circle cx="93.4" cy="184.4" r="0.95"/>
<circle cx="108.4" cy="182.8" r="0.95"/>
<circle cx="89.1" cy="166.0" r="0.95"/>
<circle cx="100.9" cy="182.5" r="0.95"/>
<circle cx="94.5" cy="183.0" r="0.95"/>
<circle cx="99.2" cy="181.6" r="0.95"/>
<circle cx="95.9" cy="178.6" r="0.95"/>
<circle cx="96.3" cy="172.4" r="0.95"/>
<circle cx="107.8" cy="179.7" r="0.95"/>
<circle cx="94.4" cy="179.9" r="0.95"/>
<circle cx="99.1" cy="184.8" r="0.95"/>
<circle cx="102.5" cy="184.1" r="0.95"/>
<circle cx="112.3" cy="184.6" r="0.95"/>
<circle cx="109.0" cy="184.5" r="0.95"/>
<circle cx="106.9" cy="184.8" r="0.95"/>
<circle cx="107.3" cy="177.6" r="0.95"/>
<circle cx="94.8" cy="178.2" r="0.95"/>
<circle cx="95.7" cy="174.4" r="0.95"/>
<circle cx="96.6" cy="175.8" r="0.95"/>
<circle cx="107.9" cy="184.7" r="0.95"/>
<circle cx="111.2" cy="180.7" r="0.95"/>
<circle cx="97.5" cy="184.2" r="0.95"/>
<circle cx="112.7" cy="184.7" r="0.95"/>
<circle cx="82.7" cy="181.8" r="0.95"/>
<circle cx="90.5" cy="183.0" r="0.95"/>
<circle cx="103.4" cy="183.9" r="0.95"/>
<circle cx="112.9" cy="180.5" r="0.95"/>
<circle cx="95.0" cy="181.9" r="0.95"/>
<circle cx="104.1" cy="182.9" r="0.95"/>
<circle cx="103.2" cy="182.4" r="0.95"/>
<circle cx="99.7" cy="166.2" r="0.95"/>
<circle cx="105.3" cy="182.6" r="0.95"/>
<circle cx="112.7" cy="181.2" r="0.95"/>
<circle cx="105.2" cy="178.8" r="0.95"/>
<circle cx="105.7" cy="182.1" r="0.95"/>
<circle cx="94.6" cy="88.4" r="0.95"/>
<circle cx="87.0" cy="153.4" r="0.95"/>
<circle cx="104.2" cy="150.0" r="0.95"/>
<circle cx="103.2" cy="158.9" r="0.95"/>
<circle cx="81.6" cy="166.4" r="0.95"/>
<circle cx="83.8" cy="170.5" r="0.95"/>
<circle cx="95.6" cy="158.2" r="0.95"/>
<circle cx="97.8" cy="164.3" r="0.95"/>
<circle cx="93.5" cy="161.6" r="0.95"/>
<circle cx="89.2" cy="173.2" r="0.95"/>
<circle cx="99.9" cy="169.1" r="0.95"/>
<circle cx="106.4" cy="165.7" r="0.95"/>
<circle cx="84.9" cy="176.0" r="0.95"/>
<circle cx="92.4" cy="173.9" r="0.95"/>
</g>
<g fill="#111">
<circle cx="120.6" cy="182.9" r="0.95"/>
<circle cx="122.8" cy="181.6" r="0.95"/>
<circle cx="122.1" cy="181.7" r="0.95"/>
<circle cx="113.2" cy="183.4" r="0.95"/>
<circle cx="124.6" cy="183.9" r="0.95"/>
<circle cx="124.1" cy="184.7" r="0.95"/>
<circle cx="118.7" cy="184.4" r="0.95"/>
<circle cx="119.7" cy="183.5" r="0.95"/>
<circle cx="113.0" cy="184.3" r="0.95"/>
<circle cx="116.4" cy="180.0" r="0.95"/>
<circle cx="122.4" cy="184.7" r="0.95"/>
<circle cx="122.8" cy="184.7" r="0.95"/>
<circle cx="120.6" cy="184.7" r="0.95"/>
<circle cx="112.9" cy="180.0" r="0.95"/>
<circle cx="115.5" cy="184.4" r="0.95"/>
<circle cx="125.1" cy="183.1" r="0.95"/>
<circle cx="116.5" cy="178.6" r="0.95"/>
<circle cx="119.6" cy="183.1" r="0.95"/>
<circle cx="115.4" cy="179.0" r="0.95"/>
<circle cx="121.5" cy="180.4" r="0.95"/>
<circle cx="124.0" cy="184.5" r="0.95"/>
<circle cx="117.4" cy="184.5" r="0.95"/>
<circle cx="114.7" cy="184.7" r="0.95"/>
<circle cx="116.6" cy="183.1" r="0.95"/>
<circle cx="112.9" cy="182.2" r="0.95"/>
<circle cx="117.1" cy="184.2" r="0.95"/>
<circle cx="123.1" cy="184.1" r="0.95"/>
<circle cx="116.8" cy="183.6" r="0.95"/>
<circle cx="121.7" cy="184.8" r="0.95"/>
<circle cx="125.0" cy="184.8" r="0.95"/>
<circle cx="122.2" cy="182.6" r="0.95"/>
<circle cx="113.1" cy="181.2" r="0.95"/>
<circle cx="117.4" cy="183.3" r="0.95"/>
<circle cx="113.0" cy="184.7" r="0.95"/>
<circle cx="115.1" cy="178.4" r="0.95"/>
<circle cx="115.3" cy="181.9" r="0.95"/>
<circle cx="124.5" cy="182.2" r="0.95"/>
<circle cx="117.2" cy="184.1" r="0.95"/>
<circle cx="119.4" cy="182.5" r="0.95"/>
<circle cx="114.2" cy="181.8" r="0.95"/>
<circle cx="122.8" cy="182.6" r="0.95"/>
<circle cx="113.3" cy="178.1" r="0.95"/>
<circle cx="114.0" cy="183.9" r="0.95"/>
<circle cx="120.5" cy="181.3" r="0.95"/>
<circle cx="117.1" cy="180.1" r="0.95"/>
<circle cx="119.7" cy="184.3" r="0.95"/>
<circle cx="116.8" cy="184.5" r="0.95"/>
<circle cx="113.8" cy="184.5" r="0.95"/>
<circle cx="121.5" cy="177.3" r="0.95"/>
<circle cx="114.9" cy="184.8" r="0.95"/>
<circle cx="125.2" cy="184.2" r="0.95"/>
<circle cx="117.9" cy="184.4" r="0.95"/>
<circle cx="120.3" cy="182.3" r="0.95"/>
<circle cx="118.6" cy="183.9" r="0.95"/>
<circle cx="113.6" cy="179.2" r="0.95"/>
<circle cx="113.3" cy="183.3" r="0.95"/>
<circle cx="123.3" cy="184.7" r="0.95"/>
<circle cx="122.0" cy="181.1" r="0.95"/>
<circle cx="120.7" cy="182.7" r="0.95"/>
<circle cx="114.2" cy="183.6" r="0.95"/>
<circle cx="114.7" cy="180.9" r="0.95"/>
<circle cx="116.5" cy="183.7" r="0.95"/>
<circle cx="125.3" cy="183.3" r="0.95"/>
<circle cx="125.1" cy="184.3" r="0.95"/>
<circle cx="119.0" cy="182.7" r="0.95"/>
<circle cx="118.8" cy="184.3" r="0.95"/>
<circle cx="117.9" cy="184.6" r="0.95"/>
<circle cx="117.6" cy="176.9" r="0.95"/>
<circle cx="124.9" cy="184.0" r="0.95"/>
<circle cx="119.1" cy="184.2" r="0.95"/>
<circle cx="114.0" cy="184.1" r="0.95"/>
<circle cx="122.6" cy="182.5" r="0.95"/>
<circle cx="117.4" cy="182.1" r="0.95"/>
<circle cx="122.5" cy="183.5" r="0.95"/>
<circle cx="121.2" cy="182.9" r="0.95"/>
<circle cx="147.4" cy="179.9" r="0.95"/>
<circle cx="146.3" cy="182.1" r="0.95"/>
<circle cx="152.9" cy="180.0" r="0.95"/>
<circle cx="151.3" cy="181.3" r="0.95"/>
<circle cx="142.7" cy="181.6" r="0.95"/>
<circle cx="145.9" cy="180.3" r="0.95"/>
<circle cx="148.8" cy="177.9" r="0.95"/>
<circle cx="151.2" cy="178.3" r="0.95"/>
<circle cx="147.2" cy="180.6" r="0.95"/>
<circle cx="152.4" cy="177.6" r="0.95"/>
<circle cx="147.3" cy="177.3" r="0.95"/>
<circle cx="154.2" cy="180.1" r="0.95"/>
<circle cx="149.5" cy="181.8" r="0.95"/>
<circle cx="144.8" cy="177.4" r="0.95"/>
<circle cx="155.1" cy="182.2" r="0.95"/>
<circle cx="151.8" cy="179.6" r="0.95"/>
<circle cx="152.3" cy="184.1" r="0.95"/>
<circle cx="153.0" cy="181.3" r="0.95"/>
<circle cx="151.5" cy="182.6" r="0.95"/>
<circle cx="150.9" cy="178.7" r="0.95"/>
<circle cx="151.1" cy="179.6" r="0.95"/>
<circle cx="143.0" cy="184.1" r="0.95"/>
<circle cx="148.5" cy="180.5" r="0.95"/>
<circle cx="145.5" cy="180.1" r="0.95"/>
<circle cx="151.0" cy="184.7" r="0.95"/>
<circle cx="148.9" cy="183.8" r="0.95"/>
<circle cx="143.3" cy="184.3" r="0.95"/>
<circle cx="146.8" cy="184.0" r="0.95"/>
<circle cx="145.2" cy="184.7" r="0.95"/>
<circle cx="148.8" cy="182.9" r="0.95"/>
<circle cx="150.8" cy="181.2" r="0.95"/>
<circle cx="145.8" cy="175.3" r="0.95"/>
<circle cx="142.6" cy="182.7" r="0.95"/>
<circle cx="146.3" cy="182.7" r="0.95"/>
<circle cx="144.1" cy="177.6" r="0.95"/>
<circle cx="147.6" cy="184.7" r="0.95"/>
<circle cx="150.8" cy="184.4" r="0.95"/>
<circle cx="149.9" cy="183.2" r="0.95"/>
<circle cx="153.5" cy="182.6" r="0.95"/>
<circle cx="153.4" cy="180.6" r="0.95"/>
<circle cx="147.5" cy="184.2" r="0.95"/>
<circle cx="150.5" cy="181.5" r="0.95"/>
<circle cx="150.7" cy="183.1" r="0.95"/>
<circle cx="154.5" cy="184.9" r="0.95"/>
<circle cx="144.0" cy="181.4" r="0.95"/>
<circle cx="150.8" cy="184.2" r="0.95"/>
<circle cx="151.0" cy="175.8" r="0.95"/>
<circle cx="147.6" cy="182.5" r="0.95"/>
<circle cx="145.6" cy="183.4" r="0.95"/>
<circle cx="155.6" cy="182.9" r="0.95"/>
<circle cx="155.4" cy="174.8" r="0.95"/>
<circle cx="150.5" cy="183.6" r="0.95"/>
<circle cx="155.7" cy="182.0" r="0.95"/>
<circle cx="148.1" cy="183.3" r="0.95"/>
<circle cx="155.7" cy="182.1" r="0.95"/>
<circle cx="146.4" cy="182.2" r="0.95"/>
<circle cx="144.2" cy="180.9" r="0.95"/>
<circle cx="148.5" cy="183.4" r="0.95"/>
<circle cx="153.0" cy="177.7" r="0.95"/>
<circle cx="142.8" cy="181.7" r="0.95"/>
<circle cx="153.0" cy="183.7" r="0.95"/>
<circle cx="146.2" cy="184.2" r="0.95"/>
<circle cx="155.8" cy="183.4" r="0.95"/>
<circle cx="150.7" cy="182.2" r="0.95"/>
<circle cx="151.2" cy="181.1" r="0.95"/>
<circle cx="152.5" cy="184.3" r="0.95"/>
<circle cx="152.7" cy="183.4" r="0.95"/>
<circle cx="149.7" cy="183.2" r="0.95"/>
<circle cx="146.5" cy="181.8" r="0.95"/>
<circle cx="148.8" cy="183.0" r="0.95"/>
<circle cx="152.5" cy="181.2" r="0.95"/>
<circle cx="143.1" cy="183.7" r="0.95"/>
<circle cx="148.7" cy="174.7" r="0.95"/>
<circle cx="154.4" cy="181.6" r="0.95"/>
<circle cx="142.8" cy="178.7" r="0.95"/>
<circle cx="148.3" cy="181.3" r="0.95"/>
<circle cx="152.0" cy="180.8" r="0.95"/>
<circle cx="149.0" cy="174.9" r="0.95"/>
<circle cx="147.7" cy="182.8" r="0.95"/>
<circle cx="154.0" cy="184.0" r="0.95"/>
<circle cx="146.5" cy="177.6" r="0.95"/>
<circle cx="143.5" cy="177.4" r="0.95"/>
<circle cx="151.9" cy="182.5" r="0.95"/>
<circle cx="146.4" cy="178.6" r="0.95"/>
<circle cx="154.7" cy="184.2" r="0.95"/>
<circle cx="149.0" cy="181.6" r="0.95"/>
<circle cx="149.2" cy="183.2" r="0.95"/>
<circle cx="144.6" cy="181.2" r="0.95"/>
<circle cx="153.4" cy="184.6" r="0.95"/>
<circle cx="145.7" cy="177.8" r="0.95"/>
<circle cx="153.2" cy="180.4" r="0.95"/>
<circle cx="142.9" cy="179.6" r="0.95"/>
<circle cx="152.0" cy="184.7" r="0.95"/>
<circle cx="153.8" cy="183.8" r="0.95"/>
<circle cx="152.1" cy="184.3" r="0.95"/>
<circle cx="144.6" cy="181.0" r="0.95"/>
<circle cx="148.1" cy="184.1" r="0.95"/>
<circle cx="150.9" cy="184.7" r="0.95"/>
<circle cx="144.0" cy="182.9" r="0.95"/>
<circle cx="143.5" cy="184.6" r="0.95"/>
<circle cx="150.3" cy="179.3" r="0.95"/>
<circle cx="154.3" cy="184.3" r="0.95"/>
<circle cx="148.4" cy="183.3" r="0.95"/>
<circle cx="150.6" cy="182.1" r="0.95"/>
<circle cx="155.1" cy="182.9" r="0.95"/>
<circle cx="143.3" cy="180.0" r="0.95"/>
<circle cx="144.6" cy="180.8" r="0.95"/>
<circle cx="149.3" cy="175.0" r="0.95"/>
<circle cx="150.0" cy="180.9" r="0.95"/>
<circle cx="146.1" cy="181.6" r="0.95"/>
<circle cx="146.0" cy="179.2" r="0.95"/>
<circle cx="149.5" cy="184.3" r="0.95"/>
<circle cx="145.7" cy="183.0" r="0.95"/>
<circle cx="152.4" cy="184.0" r="0.95"/>
<circle cx="152.1" cy="180.5" r="0.95"/>
<circle cx="143.7" cy="180.3" r="0.95"/>
<circle cx="143.8" cy="184.3" r="0.95"/>
<circle cx="150.5" cy="183.7" r="0.95"/>
<circle cx="154.3" cy="182.2" r="0.95"/>
<circle cx="146.9" cy="178.3" r="0.95"/>
<circle cx="143.0" cy="179.6" r="0.95"/>
<circle cx="143.3" cy="184.2" r="0.95"/>
<circle cx="155.3" cy="180.2" r="0.95"/>
<circle cx="145.6" cy="184.4" r="0.95"/>
<circle cx="155.6" cy="180.4" r="0.95"/>
<circle cx="153.5" cy="184.2" r="0.95"/>
<circle cx="150.9" cy="183.1" r="0.95"/>
<circle cx="145.7" cy="183.2" r="0.95"/>
<circle cx="150.8" cy="183.1" r="0.95"/>
<circle cx="147.7" cy="184.3" r="0.95"/>
<circle cx="153.7" cy="180.6" r="0.95"/>
<circle cx="153.3" cy="182.5" r="0.95"/>
<circle cx="154.0" cy="181.9" r="0.95"/>
<circle cx="150.5" cy="181.4" r="0.95"/>
<circle cx="152.5" cy="182.8" r="0.95"/>
<circle cx="143.9" cy="184.7" r="0.95"/>
<circle cx="145.3" cy="184.7" r="0.95"/>
<circle cx="154.5" cy="182.2" r="0.95"/>
<circle cx="152.7" cy="184.9" r="0.95"/>
<circle cx="148.9" cy="175.8" r="0.95"/>
<circle cx="150.9" cy="182.6" r="0.95"/>
<circle cx="148.8" cy="184.4" r="0.95"/>
<circle cx="146.1" cy="161.0" r="0.95"/>
<circle cx="150.2" cy="161.0" r="0.95"/>
<circle cx="151.3" cy="163.8" r="0.95"/>
<circle cx="142.1" cy="168.5" r="0.95"/>
<circle cx="144.4" cy="169.6" r="0.95"/>
<circle cx="151.9" cy="168.5" r="0.95"/>
<circle cx="151.3" cy="172.5" r="0.95"/>
<circle cx="145.0" cy="174.2" r="0.95"/>
<circle cx="118.2" cy="150.0" r="0.95"/>
<circle cx="155.9" cy="145.2" r="0.95"/>
<circle cx="155.9" cy="56.3" r="0.95"/>
<circle cx="115.0" cy="173.9" r="0.95"/>
<circle cx="117.2" cy="176.0" r="0.95"/>
</g>
<g fill="#bc0810">
<circle cx="170.1" cy="184.2" r="0.95"/>
<circle cx="159.3" cy="177.4" r="0.95"/>
<circle cx="173.7" cy="173.8" r="0.95"/>
<circle cx="156.7" cy="184.6" r="0.95"/>
<circle cx="175.6" cy="184.6" r="0.95"/>
<circle cx="162.9" cy="183.0" r="0.95"/>
<circle cx="160.7" cy="180.0" r="0.95"/>
<circle cx="171.8" cy="184.1" r="0.95"/>
<circle cx="156.5" cy="182.4" r="0.95"/>
<circle cx="163.2" cy="174.6" r="0.95"/>
<circle cx="177.9" cy="182.4" r="0.95"/>
<circle cx="169.9" cy="178.6" r="0.95"/>
<circle cx="166.0" cy="180.1" r="0.95"/>
<circle cx="163.4" cy="179.7" r="0.95"/>
<circle cx="161.6" cy="183.7" r="0.95"/>
<circle cx="159.0" cy="184.0" r="0.95"/>
<circle cx="161.3" cy="184.0" r="0.95"/>
<circle cx="182.9" cy="172.8" r="0.95"/>
<circle cx="159.6" cy="183.1" r="0.95"/>
<circle cx="159.4" cy="182.4" r="0.95"/>
<circle cx="171.6" cy="173.8" r="0.95"/>
<circle cx="158.3" cy="184.4" r="0.95"/>
<circle cx="162.2" cy="181.5" r="0.95"/>
<circle cx="160.3" cy="176.4" r="0.95"/>
<circle cx="156.5" cy="184.6" r="0.95"/>
<circle cx="157.8" cy="182.1" r="0.95"/>
<circle cx="162.3" cy="182.2" r="0.95"/>
<circle cx="156.6" cy="176.0" r="0.95"/>
<circle cx="169.3" cy="180.3" r="0.95"/>
<circle cx="163.3" cy="184.5" r="0.95"/>
<circle cx="164.1" cy="181.0" r="0.95"/>
<circle cx="160.4" cy="172.9" r="0.95"/>
<circle cx="174.0" cy="180.3" r="0.95"/>
<circle cx="162.3" cy="184.2" r="0.95"/>
<circle cx="172.2" cy="183.6" r="0.95"/>
<circle cx="159.4" cy="183.2" r="0.95"/>
<circle cx="158.8" cy="180.8" r="0.95"/>
<circle cx="177.9" cy="184.4" r="0.95"/>
<circle cx="169.9" cy="182.9" r="0.95"/>
<circle cx="169.1" cy="182.2" r="0.95"/>
<circle cx="171.0" cy="182.5" r="0.95"/>
<circle cx="175.6" cy="184.8" r="0.95"/>
<circle cx="157.7" cy="179.1" r="0.95"/>
<circle cx="163.6" cy="183.9" r="0.95"/>
<circle cx="170.1" cy="182.2" r="0.95"/>
<circle cx="158.9" cy="181.2" r="0.95"/>
<circle cx="161.7" cy="184.4" r="0.95"/>
<circle cx="156.7" cy="179.6" r="0.95"/>
<circle cx="159.3" cy="178.8" r="0.95"/>
<circle cx="179.6" cy="183.3" r="0.95"/>
<circle cx="156.3" cy="180.2" r="0.95"/>
<circle cx="160.9" cy="182.9" r="0.95"/>
<circle cx="176.8" cy="182.5" r="0.95"/>
<circle cx="177.3" cy="179.2" r="0.95"/>
<circle cx="169.8" cy="183.5" r="0.95"/>
<circle cx="181.5" cy="184.6" r="0.95"/>
<circle cx="165.1" cy="172.7" r="0.95"/>
<circle cx="157.8" cy="184.6" r="0.95"/>
<circle cx="157.4" cy="184.0" r="0.95"/>
<circle cx="169.3" cy="182.9" r="0.95"/>
<circle cx="168.2" cy="184.2" r="0.95"/>
<circle cx="170.9" cy="184.4" r="0.95"/>
<circle cx="177.8" cy="184.5" r="0.95"/>
<circle cx="164.0" cy="182.4" r="0.95"/>
<circle cx="163.3" cy="182.9" r="0.95"/>
<circle cx="180.5" cy="173.1" r="0.95"/>
<circle cx="167.6" cy="178.4" r="0.95"/>
<circle cx="176.8" cy="174.1" r="0.95"/>
<circle cx="162.8" cy="184.7" r="0.95"/>
<circle cx="156.2" cy="182.3" r="0.95"/>
<circle cx="165.8" cy="184.5" r="0.95"/>
<circle cx="174.8" cy="177.4" r="0.95"/>
<circle cx="156.4" cy="184.2" r="0.95"/>
<circle cx="158.3" cy="182.7" r="0.95"/>
<circle cx="169.9" cy="184.0" r="0.95"/>
<circle cx="161.4" cy="182.3" r="0.95"/>
<circle cx="162.1" cy="184.7" r="0.95"/>
<circle cx="187.5" cy="180.2" r="0.95"/>
<circle cx="157.3" cy="182.2" r="0.95"/>
<circle cx="188.1" cy="184.5" r="0.95"/>
<circle cx="163.6" cy="180.7" r="0.95"/>
<circle cx="168.2" cy="179.2" r="0.95"/>
<circle cx="159.3" cy="180.2" r="0.95"/>
<circle cx="174.6" cy="181.9" r="0.95"/>
<circle cx="170.1" cy="181.8" r="0.95"/>
<circle cx="159.2" cy="181.5" r="0.95"/>
<circle cx="159.7" cy="183.1" r="0.95"/>
<circle cx="163.8" cy="177.8" r="0.95"/>
<circle cx="163.5" cy="179.6" r="0.95"/>
<circle cx="177.7" cy="184.7" r="0.95"/>
<circle cx="177.7" cy="180.2" r="0.95"/>
<circle cx="173.1" cy="182.4" r="0.95"/>
<circle cx="170.8" cy="184.5" r="0.95"/>
<circle cx="163.6" cy="184.1" r="0.95"/>
<circle cx="175.1" cy="184.5" r="0.95"/>
<circle cx="166.3" cy="181.6" r="0.95"/>
<circle cx="169.4" cy="184.7" r="0.95"/>
<circle cx="158.1" cy="179.4" r="0.95"/>
<circle cx="169.4" cy="184.8" r="0.95"/>
<circle cx="159.5" cy="183.3" r="0.95"/>
<circle cx="162.1" cy="183.8" r="0.95"/>
<circle cx="157.8" cy="184.0" r="0.95"/>
<circle cx="165.6" cy="184.4" r="0.95"/>
<circle cx="180.3" cy="182.4" r="0.95"/>
<circle cx="156.9" cy="182.3" r="0.95"/>
<circle cx="172.8" cy="182.7" r="0.95"/>
<circle cx="163.3" cy="183.7" r="0.95"/>
<circle cx="164.2" cy="181.9" r="0.95"/>
<circle cx="161.2" cy="173.8" r="0.95"/>
<circle cx="171.3" cy="184.8" r="0.95"/>
<circle cx="177.5" cy="184.6" r="0.95"/>
<circle cx="172.3" cy="183.5" r="0.95"/>
<circle cx="168.2" cy="183.8" r="0.95"/>
<circle cx="172.4" cy="184.6" r="0.95"/>
<circle cx="157.9" cy="179.1" r="0.95"/>
<circle cx="163.3" cy="174.2" r="0.95"/>
<circle cx="175.0" cy="184.4" r="0.95"/>
<circle cx="160.6" cy="181.3" r="0.95"/>
<circle cx="166.3" cy="182.0" r="0.95"/>
<circle cx="172.4" cy="182.5" r="0.95"/>
<circle cx="179.5" cy="183.6" r="0.95"/>
<circle cx="158.7" cy="181.4" r="0.95"/>
<circle cx="172.5" cy="180.9" r="0.95"/>
<circle cx="164.9" cy="182.7" r="0.95"/>
<circle cx="159.5" cy="183.4" r="0.95"/>
<circle cx="165.0" cy="184.0" r="0.95"/>
<circle cx="172.5" cy="179.0" r="0.95"/>
<circle cx="160.4" cy="181.2" r="0.95"/>
<circle cx="162.8" cy="183.2" r="0.95"/>
<circle cx="175.4" cy="177.7" r="0.95"/>
<circle cx="162.7" cy="176.4" r="0.95"/>
<circle cx="157.0" cy="182.1" r="0.95"/>
<circle cx="166.3" cy="183.1" r="0.95"/>
<circle cx="174.9" cy="181.7" r="0.95"/>
<circle cx="158.2" cy="177.6" r="0.95"/>
<circle cx="168.7" cy="181.7" r="0.95"/>
<circle cx="181.5" cy="184.3" r="0.95"/>
<circle cx="158.5" cy="182.1" r="0.95"/>
<circle cx="168.0" cy="184.5" r="0.95"/>
<circle cx="189.8" cy="184.6" r="0.95"/>
<circle cx="158.2" cy="184.3" r="0.95"/>
<circle cx="159.5" cy="178.4" r="0.95"/>
<circle cx="164.9" cy="175.8" r="0.95"/>
<circle cx="168.1" cy="181.8" r="0.95"/>
<circle cx="171.2" cy="182.8" r="0.95"/>
<circle cx="173.2" cy="183.3" r="0.95"/>
<circle cx="162.3" cy="184.1" r="0.95"/>
<circle cx="169.4" cy="180.6" r="0.95"/>
<circle cx="169.2" cy="184.8" r="0.95"/>
<circle cx="170.4" cy="179.6" r="0.95"/>
<circle cx="173.0" cy="175.3" r="0.95"/>
<circle cx="158.1" cy="180.8" r="0.95"/>
<circle cx="177.1" cy="183.2" r="0.95"/>
<circle cx="169.7" cy="184.2" r="0.95"/>
<circle cx="177.6" cy="183.5" r="0.95"/>
<circle cx="162.8" cy="183.3" r="0.95"/>
<circle cx="156.1" cy="181.7" r="0.95"/>
<circle cx="169.9" cy="181.3" r="0.95"/>
<circle cx="159.1" cy="184.1" r="0.95"/>
<circle cx="157.4" cy="179.5" r="0.95"/>
<circle cx="159.2" cy="184.3" r="0.95"/>
<circle cx="161.9" cy="183.9" r="0.95"/>
<circle cx="187.3" cy="183.4" r="0.95"/>
<circle cx="164.6" cy="183.9" r="0.95"/>
<circle cx="162.1" cy="177.5" r="0.95"/>
<circle cx="178.0" cy="181.3" r="0.95"/>
<circle cx="165.3" cy="184.6" r="0.95"/>
<circle cx="161.4" cy="182.5" r="0.95"/>
<circle cx="170.1" cy="180.3" r="0.95"/>
<circle cx="174.7" cy="172.6" r="0.95"/>
<circle cx="168.1" cy="175.2" r="0.95"/>
<circle cx="163.1" cy="179.0" r="0.95"/>
<circle cx="165.4" cy="181.7" r="0.95"/>
<circle cx="157.8" cy="175.2" r="0.95"/>
<circle cx="161.5" cy="184.1" r="0.95"/>
<circle cx="183.7" cy="180.0" r="0.95"/>
<circle cx="166.2" cy="183.9" r="0.95"/>
<circle cx="162.0" cy="184.3" r="0.95"/>
<circle cx="198.8" cy="27.8" r="0.95"/>
<circle cx="167.4" cy="122.1" r="0.95"/>
<circle cx="193.0" cy="128.4" r="0.95"/>
<circle cx="206.8" cy="138.3" r="0.95"/>
<circle cx="190.7" cy="136.6" r="0.95"/>
<circle cx="196.3" cy="145.7" r="0.95"/>
<circle cx="199.0" cy="149.0" r="0.95"/>
<circle cx="200.4" cy="150.4" r="0.95"/>
<circle cx="185.6" cy="149.0" r="0.95"/>
<circle cx="162.7" cy="151.7" r="0.95"/>
<circle cx="166.7" cy="153.0" r="0.95"/>
<circle cx="176.0" cy="153.0" r="0.95"/>
<circle cx="170.0" cy="157.0" r="0.95"/>
<circle cx="168.0" cy="160.5" r="0.95"/>
<circle cx="184.2" cy="158.4" r="0.95"/>
<circle cx="191.0" cy="157.8" r="0.95"/>
<circle cx="195.0" cy="155.8" r="0.95"/>
<circle cx="195.0" cy="159.0" r="0.95"/>
<circle cx="200.4" cy="160.5" r="0.95"/>
<circle cx="189.6" cy="161.0" r="0.95"/>
<circle cx="184.9" cy="162.5" r="0.95"/>
<circle cx="197.7" cy="164.5" r="0.95"/>
<circle cx="188.3" cy="165.2" r="0.95"/>
<circle cx="170.8" cy="167.9" r="0.95"/>
<circle cx="176.8" cy="168.5" r="0.95"/>
<circle cx="185.6" cy="171.9" r="0.95"/>
<circle cx="162.5" cy="159.5" r="0.95"/>
<circle cx="172.5" cy="163.0" r="0.95"/>
<circle cx="180.0" cy="166.0" r="0.95"/>
<circle cx="192.0" cy="168.5" r="0.95"/>
<circle cx="178.0" cy="171.0" r="0.95"/>
<circle cx="168.0" cy="172.0" r="0.95"/>
<circle cx="159.0" cy="170.0" r="0.95"/>
<circle cx="164.0" cy="175.0" r="0.95"/>
<circle cx="171.0" cy="174.5" r="0.95"/>
<circle cx="183.0" cy="174.0" r="0.95"/>
<circle cx="190.0" cy="172.5" r="0.95"/>
</g>
<g stroke="#707070" stroke-width="1.15" stroke-dasharray="1.5 1.9 0.6 2.0">
<line x1="112.86" y1="20.3" x2="112.86" y2="202.4"/>
<line x1="155.94" y1="20.3" x2="155.94" y2="202.4"/>
<line x1="39.6" y1="185.0" x2="228.9" y2="185.0"/>
</g>
<rect x="205.8" y="130.9" width="11.8" height="5.7" rx="0.8" fill="#fff" fill-opacity="0.85" stroke="#f2b0b0" stroke-width="0.55"/>
<text x="211.7" y="135.4" font-size="5.2" fill="#e06a6a" text-anchor="middle" textLength="9.439999999999987" lengthAdjust="spacingAndGlyphs">JUN</text>
<rect x="178.8" y="138.5" width="14.6" height="5.8" rx="0.8" fill="#fff" fill-opacity="0.85" stroke="#f2b0b0" stroke-width="0.55"/>
<text x="186.10000000000002" y="143.10000000000002" font-size="5.2" fill="#e06a6a" text-anchor="middle" textLength="11.679999999999996" lengthAdjust="spacingAndGlyphs">JUNB</text>
<rect x="177.9" y="150.4" width="15.1" height="6.0" rx="0.8" fill="#fff" fill-opacity="0.85" stroke="#f2b0b0" stroke-width="0.55"/>
<text x="185.45" y="155.20000000000002" font-size="5.2" fill="#e06a6a" text-anchor="middle" textLength="12.079999999999997" lengthAdjust="spacingAndGlyphs">EGR1</text>
<rect x="198.4" y="153.7" width="14.4" height="6.1" rx="0.8" fill="#fff" fill-opacity="0.85" stroke="#f2b0b0" stroke-width="0.55"/>
<text x="205.60000000000002" y="158.60000000000002" font-size="5.2" fill="#e06a6a" text-anchor="middle" textLength="11.520000000000005" lengthAdjust="spacingAndGlyphs">FOSB</text>
<rect x="187.6" y="165.9" width="12.4" height="6.0" rx="0.8" fill="#fff" fill-opacity="0.85" stroke="#f2b0b0" stroke-width="0.55"/>
<text x="193.8" y="170.70000000000002" font-size="5.2" fill="#e06a6a" text-anchor="middle" textLength="9.920000000000005" lengthAdjust="spacingAndGlyphs">FOS</text>
<rect x="39.6" y="20.3" width="189.3" height="182.1" fill="none" stroke="#222" stroke-width="1.1"/>
<line x1="37.4" y1="193.75" x2="39.6" y2="193.75" stroke="#333" stroke-width="0.8"/>
<text x="33.8" y="195.95" font-size="6.2" fill="#444" stroke="#444" stroke-width="0.12" text-anchor="end">0</text>
<line x1="37.4" y1="159.55" x2="39.6" y2="159.55" stroke="#333" stroke-width="0.8"/>
<text x="33.8" y="161.75" font-size="6.2" fill="#444" stroke="#444" stroke-width="0.12" text-anchor="end">5</text>
<line x1="37.4" y1="125.35" x2="39.6" y2="125.35" stroke="#333" stroke-width="0.8"/>
<text x="33.8" y="127.55" font-size="6.2" fill="#444" stroke="#444" stroke-width="0.12" text-anchor="end">10</text>
<line x1="37.4" y1="91.15" x2="39.6" y2="91.15" stroke="#333" stroke-width="0.8"/>
<text x="33.8" y="93.35000000000001" font-size="6.2" fill="#444" stroke="#444" stroke-width="0.12" text-anchor="end">15</text>
<line x1="37.4" y1="56.95" x2="39.6" y2="56.95" stroke="#333" stroke-width="0.8"/>
<text x="33.8" y="59.14999999999999" font-size="6.2" fill="#444" stroke="#444" stroke-width="0.12" text-anchor="end">20</text>
<line x1="37.4" y1="22.75" x2="39.6" y2="22.75" stroke="#333" stroke-width="0.8"/>
<text x="33.8" y="24.95" font-size="6.2" fill="#444" stroke="#444" stroke-width="0.12" text-anchor="end">25</text>
<line x1="48.24" y1="202.4" x2="48.24" y2="204.6" stroke="#333" stroke-width="0.8"/>
<text x="48.24000000000001" y="213.7" font-size="6.2" fill="#444" stroke="#444" stroke-width="0.12" text-anchor="middle">-4</text>
<line x1="91.32" y1="202.4" x2="91.32" y2="204.6" stroke="#333" stroke-width="0.8"/>
<text x="91.32000000000001" y="213.7" font-size="6.2" fill="#444" stroke="#444" stroke-width="0.12" text-anchor="middle">-2</text>
<line x1="134.40" y1="202.4" x2="134.40" y2="204.6" stroke="#333" stroke-width="0.8"/>
<text x="134.4" y="213.7" font-size="6.2" fill="#444" stroke="#444" stroke-width="0.12" text-anchor="middle">0</text>
<line x1="177.48" y1="202.4" x2="177.48" y2="204.6" stroke="#333" stroke-width="0.8"/>
<text x="177.48000000000002" y="213.7" font-size="6.2" fill="#444" stroke="#444" stroke-width="0.12" text-anchor="middle">2</text>
<line x1="220.56" y1="202.4" x2="220.56" y2="204.6" stroke="#333" stroke-width="0.8"/>
<text x="220.56" y="213.7" font-size="6.2" fill="#444" stroke="#444" stroke-width="0.12" text-anchor="middle">4</text>
<text x="134.6" y="224.5" font-size="7.8" fill="#222" stroke="#222" stroke-width="0.3" text-anchor="middle" textLength="41.2" lengthAdjust="spacingAndGlyphs">log2 fold change</text>
<text transform="translate(21.3,111.25) rotate(-90)" font-size="7.8" fill="#222" stroke="#222" stroke-width="0.3" text-anchor="middle" textLength="28.7" lengthAdjust="spacingAndGlyphs">-log10 FDR</text>
<rect x="252.1" y="30.4" width="198.03" height="91.00" fill="#1a0c3c"/>
<rect x="252.55" y="30.85" width="8.53" height="8.20" fill="#4c2094"/>
<rect x="261.98" y="30.85" width="8.53" height="8.20" fill="#4c2094"/>
<rect x="271.41" y="30.85" width="8.53" height="8.20" fill="#4c2094"/>
<rect x="280.84" y="30.85" width="8.53" height="8.20" fill="#4c2094"/>
<rect x="290.27" y="30.85" width="8.53" height="8.20" fill="#4c2094"/>
<rect x="299.70" y="30.85" width="8.53" height="8.20" fill="#8f87d4"/>
<rect x="309.13" y="30.85" width="8.53" height="8.20" fill="#4c2094"/>
<rect x="318.56" y="30.85" width="8.53" height="8.20" fill="#4c2094"/>
<rect x="327.99" y="30.85" width="8.53" height="8.20" fill="#4c2094"/>
<rect x="337.42" y="30.85" width="8.53" height="8.20" fill="#4c2094"/>
<rect x="346.85" y="30.85" width="8.53" height="8.20" fill="#4c2094"/>
<rect x="356.28" y="30.85" width="8.53" height="8.20" fill="#4c2094"/>
<rect x="365.71" y="30.85" width="8.53" height="8.20" fill="#6047ac"/>
<rect x="375.14" y="30.85" width="8.53" height="8.20" fill="#c2c1ec"/>
<rect x="384.57" y="30.85" width="8.53" height="8.20" fill="#6047ac"/>
<rect x="394.00" y="30.85" width="8.53" height="8.20" fill="#4c2094"/>
<rect x="403.43" y="30.85" width="8.53" height="8.20" fill="#f7cedb"/>
<rect x="412.86" y="30.85" width="8.53" height="8.20" fill="#4c2094"/>
<rect x="422.29" y="30.85" width="8.53" height="8.20" fill="#b6b3e6"/>
<rect x="431.72" y="30.85" width="8.53" height="8.20" fill="#4c2094"/>
<rect x="441.15" y="30.85" width="8.53" height="8.20" fill="#512a9a"/>
<rect x="252.55" y="39.95" width="8.53" height="8.20" fill="#4c2094"/>
<rect x="261.98" y="39.95" width="8.53" height="8.20" fill="#6957b7"/>
<rect x="271.41" y="39.95" width="8.53" height="8.20" fill="#4c2094"/>
<rect x="280.84" y="39.95" width="8.53" height="8.20" fill="#4c2094"/>
<rect x="290.27" y="39.95" width="8.53" height="8.20" fill="#4c2094"/>
<rect x="299.70" y="39.95" width="8.53" height="8.20" fill="#4c2094"/>
<rect x="309.13" y="39.95" width="8.53" height="8.20" fill="#4c2094"/>
<rect x="318.56" y="39.95" width="8.53" height="8.20" fill="#4c2094"/>
<rect x="327.99" y="39.95" width="8.53" height="8.20" fill="#4c2094"/>
<rect x="337.42" y="39.95" width="8.53" height="8.20" fill="#4c2094"/>
<rect x="346.85" y="39.95" width="8.53" height="8.20" fill="#e4e3f6"/>
<rect x="356.28" y="39.95" width="8.53" height="8.20" fill="#8f87d4"/>
<rect x="365.71" y="39.95" width="8.53" height="8.20" fill="#6957b7"/>
<rect x="375.14" y="39.95" width="8.53" height="8.20" fill="#4c2094"/>
<rect x="384.57" y="39.95" width="8.53" height="8.20" fill="#f7d7e1"/>
<rect x="394.00" y="39.95" width="8.53" height="8.20" fill="#4c2094"/>
<rect x="403.43" y="39.95" width="8.53" height="8.20" fill="#4c2094"/>
<rect x="412.86" y="39.95" width="8.53" height="8.20" fill="#4c2094"/>
<rect x="422.29" y="39.95" width="8.53" height="8.20" fill="#7567c0"/>
<rect x="431.72" y="39.95" width="8.53" height="8.20" fill="#4c2094"/>
<rect x="441.15" y="39.95" width="8.53" height="8.20" fill="#4c2094"/>
<rect x="252.55" y="49.05" width="8.53" height="8.20" fill="#4c2094"/>
<rect x="261.98" y="49.05" width="8.53" height="8.20" fill="#4c2094"/>
<rect x="271.41" y="49.05" width="8.53" height="8.20" fill="#4c2094"/>
<rect x="280.84" y="49.05" width="8.53" height="8.20" fill="#4c2094"/>
<rect x="290.27" y="49.05" width="8.53" height="8.20" fill="#4c2094"/>
<rect x="299.70" y="49.05" width="8.53" height="8.20" fill="#4c2094"/>
<rect x="309.13" y="49.05" width="8.53" height="8.20" fill="#4c2094"/>
<rect x="318.56" y="49.05" width="8.53" height="8.20" fill="#4c2094"/>
<rect x="327.99" y="49.05" width="8.53" height="8.20" fill="#4c2094"/>
<rect x="337.42" y="49.05" width="8.53" height="8.20" fill="#4c2094"/>
<rect x="346.85" y="49.05" width="8.53" height="8.20" fill="#8277ca"/>
<rect x="356.28" y="49.05" width="8.53" height="8.20" fill="#4c2094"/>
<rect x="365.71" y="49.05" width="8.53" height="8.20" fill="#4c2094"/>
<rect x="375.14" y="49.05" width="8.53" height="8.20" fill="#4c2094"/>
<rect x="384.57" y="49.05" width="8.53" height="8.20" fill="#6957b7"/>
<rect x="394.00" y="49.05" width="8.53" height="8.20" fill="#f08486"/>
<rect x="403.43" y="49.05" width="8.53" height="8.20" fill="#f7cedb"/>
<rect x="412.86" y="49.05" width="8.53" height="8.20" fill="#ee787a"/>
<rect x="422.29" y="49.05" width="8.53" height="8.20" fill="#f7d3df"/>
<rect x="431.72" y="49.05" width="8.53" height="8.20" fill="#b6b3e6"/>
<rect x="441.15" y="49.05" width="8.53" height="8.20" fill="#ee787a"/>
<rect x="252.55" y="58.15" width="8.53" height="8.20" fill="#4c2094"/>
<rect x="261.98" y="58.15" width="8.53" height="8.20" fill="#6957b7"/>
<rect x="271.41" y="58.15" width="8.53" height="8.20" fill="#4c2094"/>
<rect x="280.84" y="58.15" width="8.53" height="8.20" fill="#4c2094"/>
<rect x="290.27" y="58.15" width="8.53" height="8.20" fill="#4c2094"/>
<rect x="299.70" y="58.15" width="8.53" height="8.20" fill="#4c2094"/>
<rect x="309.13" y="58.15" width="8.53" height="8.20" fill="#4c2094"/>
<rect x="318.56" y="58.15" width="8.53" height="8.20" fill="#4c2094"/>
<rect x="327.99" y="58.15" width="8.53" height="8.20" fill="#4c2094"/>
<rect x="337.42" y="58.15" width="8.53" height="8.20" fill="#4c2094"/>
<rect x="346.85" y="58.15" width="8.53" height="8.20" fill="#6957b7"/>
<rect x="356.28" y="58.15" width="8.53" height="8.20" fill="#4c2094"/>
<rect x="365.71" y="58.15" width="8.53" height="8.20" fill="#4c2094"/>
<rect x="375.14" y="58.15" width="8.53" height="8.20" fill="#4c2094"/>
<rect x="384.57" y="58.15" width="8.53" height="8.20" fill="#8f87d4"/>
<rect x="394.00" y="58.15" width="8.53" height="8.20" fill="#4c2094"/>
<rect x="403.43" y="58.15" width="8.53" height="8.20" fill="#e0e0f5"/>
<rect x="412.86" y="58.15" width="8.53" height="8.20" fill="#6957b7"/>
<rect x="422.29" y="58.15" width="8.53" height="8.20" fill="#b6b3e6"/>
<rect x="431.72" y="58.15" width="8.53" height="8.20" fill="#f7cedb"/>
<rect x="441.15" y="58.15" width="8.53" height="8.20" fill="#c2c1ec"/>
<rect x="252.55" y="67.25" width="8.53" height="8.20" fill="#4c2094"/>
<rect x="261.98" y="67.25" width="8.53" height="8.20" fill="#7567c0"/>
<rect x="271.41" y="67.25" width="8.53" height="8.20" fill="#4c2094"/>
<rect x="280.84" y="67.25" width="8.53" height="8.20" fill="#4c2094"/>
<rect x="290.27" y="67.25" width="8.53" height="8.20" fill="#4c2094"/>
<rect x="299.70" y="67.25" width="8.53" height="8.20" fill="#4c2094"/>
<rect x="309.13" y="67.25" width="8.53" height="8.20" fill="#4c2094"/>
<rect x="318.56" y="67.25" width="8.53" height="8.20" fill="#4c2094"/>
<rect x="327.99" y="67.25" width="8.53" height="8.20" fill="#4c2094"/>
<rect x="337.42" y="67.25" width="8.53" height="8.20" fill="#9c97dc"/>
<rect x="346.85" y="67.25" width="8.53" height="8.20" fill="#4c2094"/>
<rect x="356.28" y="67.25" width="8.53" height="8.20" fill="#9c97dc"/>
<rect x="365.71" y="67.25" width="8.53" height="8.20" fill="#4c2094"/>
<rect x="375.14" y="67.25" width="8.53" height="8.20" fill="#512a9a"/>
<rect x="384.57" y="67.25" width="8.53" height="8.20" fill="#4c2094"/>
<rect x="394.00" y="67.25" width="8.53" height="8.20" fill="#4c2094"/>
<rect x="403.43" y="67.25" width="8.53" height="8.20" fill="#4c2094"/>
<rect x="412.86" y="67.25" width="8.53" height="8.20" fill="#4c2094"/>
<rect x="422.29" y="67.25" width="8.53" height="8.20" fill="#4c2094"/>
<rect x="431.72" y="67.25" width="8.53" height="8.20" fill="#b6b3e6"/>
<rect x="441.15" y="67.25" width="8.53" height="8.20" fill="#4c2094"/>
<rect x="252.55" y="76.35" width="8.53" height="8.20" fill="#eb6061"/>
<rect x="261.98" y="76.35" width="8.53" height="8.20" fill="#e0e0f5"/>
<rect x="271.41" y="76.35" width="8.53" height="8.20" fill="#ed6c6d"/>
<rect x="280.84" y="76.35" width="8.53" height="8.20" fill="#eae8f8"/>
<rect x="290.27" y="76.35" width="8.53" height="8.20" fill="#f7cedb"/>
<rect x="299.70" y="76.35" width="8.53" height="8.20" fill="#e84848"/>
<rect x="309.13" y="76.35" width="8.53" height="8.20" fill="#e42423"/>
<rect x="318.56" y="76.35" width="8.53" height="8.20" fill="#6957b7"/>
<rect x="327.99" y="76.35" width="8.53" height="8.20" fill="#512a9a"/>
<rect x="337.42" y="76.35" width="8.53" height="8.20" fill="#d8d7f3"/>
<rect x="346.85" y="76.35" width="8.53" height="8.20" fill="#4c2094"/>
<rect x="356.28" y="76.35" width="8.53" height="8.20" fill="#f19196"/>
<rect x="365.71" y="76.35" width="8.53" height="8.20" fill="#8277ca"/>
<rect x="375.14" y="76.35" width="8.53" height="8.20" fill="#f29ea5"/>
<rect x="384.57" y="76.35" width="8.53" height="8.20" fill="#512a9a"/>
<rect x="394.00" y="76.35" width="8.53" height="8.20" fill="#f29ea5"/>
<rect x="403.43" y="76.35" width="8.53" height="8.20" fill="#f29ea5"/>
<rect x="412.86" y="76.35" width="8.53" height="8.20" fill="#f7d7e1"/>
<rect x="422.29" y="76.35" width="8.53" height="8.20" fill="#6957b7"/>
<rect x="431.72" y="76.35" width="8.53" height="8.20" fill="#d8d7f3"/>
<rect x="441.15" y="76.35" width="8.53" height="8.20" fill="#f29ea5"/>
<rect x="252.55" y="85.45" width="8.53" height="8.20" fill="#f19196"/>
<rect x="261.98" y="85.45" width="8.53" height="8.20" fill="#f7d3df"/>
<rect x="271.41" y="85.45" width="8.53" height="8.20" fill="#e42423"/>
<rect x="280.84" y="85.45" width="8.53" height="8.20" fill="#ea5454"/>
<rect x="290.27" y="85.45" width="8.53" height="8.20" fill="#ea5454"/>
<rect x="299.70" y="85.45" width="8.53" height="8.20" fill="#f08486"/>
<rect x="309.13" y="85.45" width="8.53" height="8.20" fill="#f7d3df"/>
<rect x="318.56" y="85.45" width="8.53" height="8.20" fill="#f29ea5"/>
<rect x="327.99" y="85.45" width="8.53" height="8.20" fill="#f29ea5"/>
<rect x="337.42" y="85.45" width="8.53" height="8.20" fill="#ed6c6d"/>
<rect x="346.85" y="85.45" width="8.53" height="8.20" fill="#ed6c6d"/>
<rect x="356.28" y="85.45" width="8.53" height="8.20" fill="#f8dfe8"/>
<rect x="365.71" y="85.45" width="8.53" height="8.20" fill="#e42423"/>
<rect x="375.14" y="85.45" width="8.53" height="8.20" fill="#f8dfe8"/>
<rect x="384.57" y="85.45" width="8.53" height="8.20" fill="#f19196"/>
<rect x="394.00" y="85.45" width="8.53" height="8.20" fill="#c2c1ec"/>
<rect x="403.43" y="85.45" width="8.53" height="8.20" fill="#6957b7"/>
<rect x="412.86" y="85.45" width="8.53" height="8.20" fill="#c2c1ec"/>
<rect x="422.29" y="85.45" width="8.53" height="8.20" fill="#ea5454"/>
<rect x="431.72" y="85.45" width="8.53" height="8.20" fill="#512a9a"/>
<rect x="441.15" y="85.45" width="8.53" height="8.20" fill="#4c2094"/>
<rect x="252.55" y="94.55" width="8.53" height="8.20" fill="#e21816"/>
<rect x="261.98" y="94.55" width="8.53" height="8.20" fill="#e42423"/>
<rect x="271.41" y="94.55" width="8.53" height="8.20" fill="#ed6c6d"/>
<rect x="280.84" y="94.55" width="8.53" height="8.20" fill="#e21816"/>
<rect x="290.27" y="94.55" width="8.53" height="8.20" fill="#e21816"/>
<rect x="299.70" y="94.55" width="8.53" height="8.20" fill="#e21816"/>
<rect x="309.13" y="94.55" width="8.53" height="8.20" fill="#e63c3c"/>
<rect x="318.56" y="94.55" width="8.53" height="8.20" fill="#e21816"/>
<rect x="327.99" y="94.55" width="8.53" height="8.20" fill="#e21816"/>
<rect x="337.42" y="94.55" width="8.53" height="8.20" fill="#e21816"/>
<rect x="346.85" y="94.55" width="8.53" height="8.20" fill="#e21816"/>
<rect x="356.28" y="94.55" width="8.53" height="8.20" fill="#e21816"/>
<rect x="365.71" y="94.55" width="8.53" height="8.20" fill="#ed6c6d"/>
<rect x="375.14" y="94.55" width="8.53" height="8.20" fill="#7567c0"/>
<rect x="384.57" y="94.55" width="8.53" height="8.20" fill="#e21816"/>
<rect x="394.00" y="94.55" width="8.53" height="8.20" fill="#e21816"/>
<rect x="403.43" y="94.55" width="8.53" height="8.20" fill="#e21816"/>
<rect x="412.86" y="94.55" width="8.53" height="8.20" fill="#e21816"/>
<rect x="422.29" y="94.55" width="8.53" height="8.20" fill="#f29ea5"/>
<rect x="431.72" y="94.55" width="8.53" height="8.20" fill="#ed6c6d"/>
<rect x="441.15" y="94.55" width="8.53" height="8.20" fill="#e21816"/>
<rect x="252.55" y="103.65" width="8.53" height="8.20" fill="#e84848"/>
<rect x="261.98" y="103.65" width="8.53" height="8.20" fill="#e84848"/>
<rect x="271.41" y="103.65" width="8.53" height="8.20" fill="#f8e4ec"/>
<rect x="280.84" y="103.65" width="8.53" height="8.20" fill="#e21816"/>
<rect x="290.27" y="103.65" width="8.53" height="8.20" fill="#f19196"/>
<rect x="299.70" y="103.65" width="8.53" height="8.20" fill="#e21816"/>
<rect x="309.13" y="103.65" width="8.53" height="8.20" fill="#6957b7"/>
<rect x="318.56" y="103.65" width="8.53" height="8.20" fill="#f19196"/>
<rect x="327.99" y="103.65" width="8.53" height="8.20" fill="#c2c1ec"/>
<rect x="337.42" y="103.65" width="8.53" height="8.20" fill="#4c2094"/>
<rect x="346.85" y="103.65" width="8.53" height="8.20" fill="#eb6061"/>
<rect x="356.28" y="103.65" width="8.53" height="8.20" fill="#d8d7f3"/>
<rect x="365.71" y="103.65" width="8.53" height="8.20" fill="#4c2094"/>
<rect x="375.14" y="103.65" width="8.53" height="8.20" fill="#e21816"/>
<rect x="384.57" y="103.65" width="8.53" height="8.20" fill="#f29ea5"/>
<rect x="394.00" y="103.65" width="8.53" height="8.20" fill="#e84848"/>
<rect x="403.43" y="103.65" width="8.53" height="8.20" fill="#f19196"/>
<rect x="412.86" y="103.65" width="8.53" height="8.20" fill="#e21816"/>
<rect x="422.29" y="103.65" width="8.53" height="8.20" fill="#e21816"/>
<rect x="431.72" y="103.65" width="8.53" height="8.20" fill="#e21816"/>
<rect x="441.15" y="103.65" width="8.53" height="8.20" fill="#eb6061"/>
<rect x="252.55" y="112.75" width="8.53" height="8.20" fill="#7567c0"/>
<rect x="261.98" y="112.75" width="8.53" height="8.20" fill="#e21816"/>
<rect x="271.41" y="112.75" width="8.53" height="8.20" fill="#512a9a"/>
<rect x="280.84" y="112.75" width="8.53" height="8.20" fill="#512a9a"/>
<rect x="290.27" y="112.75" width="8.53" height="8.20" fill="#4c2094"/>
<rect x="299.70" y="112.75" width="8.53" height="8.20" fill="#f8dae4"/>
<rect x="309.13" y="112.75" width="8.53" height="8.20" fill="#c2c1ec"/>
<rect x="318.56" y="112.75" width="8.53" height="8.20" fill="#512a9a"/>
<rect x="327.99" y="112.75" width="8.53" height="8.20" fill="#512a9a"/>
<rect x="337.42" y="112.75" width="8.53" height="8.20" fill="#4c2094"/>
<rect x="346.85" y="112.75" width="8.53" height="8.20" fill="#f19196"/>
<rect x="356.28" y="112.75" width="8.53" height="8.20" fill="#4c2094"/>
<rect x="365.71" y="112.75" width="8.53" height="8.20" fill="#4c2094"/>
<rect x="375.14" y="112.75" width="8.53" height="8.20" fill="#4c2094"/>
<rect x="384.57" y="112.75" width="8.53" height="8.20" fill="#cecef0"/>
<rect x="394.00" y="112.75" width="8.53" height="8.20" fill="#6957b7"/>
<rect x="403.43" y="112.75" width="8.53" height="8.20" fill="#8277ca"/>
<rect x="412.86" y="112.75" width="8.53" height="8.20" fill="#4c2094"/>
<rect x="422.29" y="112.75" width="8.53" height="8.20" fill="#4c2094"/>
<rect x="431.72" y="112.75" width="8.53" height="8.20" fill="#eb6061"/>
<rect x="441.15" y="112.75" width="8.53" height="8.20" fill="#4c2094"/>
<text transform="translate(254.665,124.0) rotate(90)" font-size="6.2" fill="#222" stroke="#222" stroke-width="0.12">JUND</text>
<text transform="translate(264.095,124.0) rotate(90)" font-size="6.2" fill="#222" stroke="#222" stroke-width="0.12">DUSP1</text>
<text transform="translate(273.52500000000003,124.0) rotate(90)" font-size="6.2" fill="#222" stroke="#222" stroke-width="0.12">JUNB</text>
<text transform="translate(282.95500000000004,124.0) rotate(90)" font-size="6.2" fill="#222" stroke="#222" stroke-width="0.12">JUN</text>
<text transform="translate(292.385,124.0) rotate(90)" font-size="6.2" fill="#222" stroke="#222" stroke-width="0.12">ATF3</text>
<text transform="translate(301.815,124.0) rotate(90)" font-size="6.2" fill="#222" stroke="#222" stroke-width="0.12">HIF1A</text>
<text transform="translate(311.245,124.0) rotate(90)" font-size="6.2" fill="#222" stroke="#222" stroke-width="0.12">EGR1</text>
<text transform="translate(320.675,124.0) rotate(90)" font-size="6.2" fill="#222" stroke="#222" stroke-width="0.12">FOS</text>
<text transform="translate(330.105,124.0) rotate(90)" font-size="6.2" fill="#222" stroke="#222" stroke-width="0.12">FOSB</text>
<text transform="translate(339.535,124.0) rotate(90)" font-size="6.2" fill="#222" stroke="#222" stroke-width="0.12">IL10</text>
<text transform="translate(348.96500000000003,124.0) rotate(90)" font-size="6.2" fill="#222" stroke="#222" stroke-width="0.12">MAFG</text>
<text transform="translate(358.395,124.0) rotate(90)" font-size="6.2" fill="#222" stroke="#222" stroke-width="0.12">ACTA1</text>
<text transform="translate(367.82500000000005,124.0) rotate(90)" font-size="6.2" fill="#222" stroke="#222" stroke-width="0.12">FOSL1</text>
<text transform="translate(377.255,124.0) rotate(90)" font-size="6.2" fill="#222" stroke="#222" stroke-width="0.12">NPPA</text>
<text transform="translate(386.685,124.0) rotate(90)" font-size="6.2" fill="#222" stroke="#222" stroke-width="0.12">MYB</text>
<text transform="translate(396.115,124.0) rotate(90)" font-size="6.2" fill="#222" stroke="#222" stroke-width="0.12">CREB1</text>
<text transform="translate(405.545,124.0) rotate(90)" font-size="6.2" fill="#222" stroke="#222" stroke-width="0.12">CTNNB1</text>
<text transform="translate(414.975,124.0) rotate(90)" font-size="6.2" fill="#222" stroke="#222" stroke-width="0.12">EP300</text>
<text transform="translate(424.405,124.0) rotate(90)" font-size="6.2" fill="#222" stroke="#222" stroke-width="0.12">MAF</text>
<text transform="translate(433.83500000000004,124.0) rotate(90)" font-size="6.2" fill="#222" stroke="#222" stroke-width="0.12">ATF2</text>
<text transform="translate(443.265,124.0) rotate(90)" font-size="6.2" fill="#222" stroke="#222" stroke-width="0.12">BCL2L11</text>
<text x="453.8" y="37.05" font-size="6" fill="#222" stroke="#222" stroke-width="0.12" textLength="14.5" lengthAdjust="spacingAndGlyphs">PDX1</text>
<text x="453.8" y="46.15" font-size="6" fill="#222" stroke="#222" stroke-width="0.12" textLength="14.5" lengthAdjust="spacingAndGlyphs">PDX2</text>
<text x="453.8" y="55.25" font-size="6" fill="#222" stroke="#222" stroke-width="0.12" textLength="14.5" lengthAdjust="spacingAndGlyphs">PDX3</text>
<text x="453.8" y="64.35" font-size="6" fill="#222" stroke="#222" stroke-width="0.12" textLength="14.5" lengthAdjust="spacingAndGlyphs">PDX4</text>
<text x="453.8" y="73.44999999999999" font-size="6" fill="#222" stroke="#222" stroke-width="0.12" textLength="14.5" lengthAdjust="spacingAndGlyphs">PDX5</text>
<text x="453.8" y="82.54999999999998" font-size="6" fill="#222" stroke="#222" stroke-width="0.12" textLength="14.5" lengthAdjust="spacingAndGlyphs">PDX1</text>
<text x="453.8" y="91.64999999999999" font-size="6" fill="#222" stroke="#222" stroke-width="0.12" textLength="14.5" lengthAdjust="spacingAndGlyphs">PDX2</text>
<text x="453.8" y="100.75" font-size="6" fill="#222" stroke="#222" stroke-width="0.12" textLength="14.5" lengthAdjust="spacingAndGlyphs">PDX3</text>
<text x="453.8" y="109.85" font-size="6" fill="#222" stroke="#222" stroke-width="0.12" textLength="14.5" lengthAdjust="spacingAndGlyphs">PDX4</text>
<text x="453.8" y="118.94999999999999" font-size="6" fill="#222" stroke="#222" stroke-width="0.12" textLength="14.5" lengthAdjust="spacingAndGlyphs">PDX5</text>
<line x1="475.2" y1="31.9" x2="475.2" y2="71.5" stroke="#555" stroke-width="1.1"/>
<line x1="475.2" y1="79.2" x2="475.2" y2="118.8" stroke="#555" stroke-width="1.1"/>
<text transform="translate(479.0,52.2) rotate(90)" font-size="6" fill="#222" stroke="#222" stroke-width="0.12" text-anchor="middle">Spleen</text>
<text transform="translate(479.0,99.2) rotate(90)" font-size="6" fill="#222" stroke="#222" stroke-width="0.12" text-anchor="middle">CNS</text>
<defs><linearGradient id="hg" x1="0" x2="1" y1="0" y2="0"><stop offset="0" stop-color="#48208e"/><stop offset="0.12" stop-color="#4e2a98"/><stop offset="0.3" stop-color="#8a78c4"/><stop offset="0.45" stop-color="#d8d2ec"/><stop offset="0.52" stop-color="#ffffff"/><stop offset="0.62" stop-color="#f4c4c8"/><stop offset="0.85" stop-color="#e45a5a"/><stop offset="1" stop-color="#e61212"/></linearGradient><linearGradient id="cg" x1="0" x2="0" y1="0" y2="1"><stop offset="0" stop-color="#d01218"/><stop offset="0.5" stop-color="#8a4a8c"/><stop offset="1" stop-color="#3a70c4"/></linearGradient></defs>
<rect x="325.2" y="166.5" width="82.5" height="15.7" rx="3" fill="url(#hg)"/>
<text x="366.3" y="162.0" font-size="5.9" fill="#333" stroke="#333" stroke-width="0.1" text-anchor="middle">gene expression</text>
<text x="321.5" y="191.0" font-size="6.0" fill="#333" stroke="#333" stroke-width="0.1">low</text>
<text x="367.3" y="191.0" font-size="5.9" fill="#333" stroke="#333" stroke-width="0.1" text-anchor="middle">moderate</text>
<text x="403.0" y="191.0" font-size="6.1" fill="#333" stroke="#333" stroke-width="0.1">high</text>
<line x1="72.2" y1="269.5" x2="72.2" y2="405.2" stroke="#222" stroke-width="1"/>
<line x1="71.7" y1="404.9" x2="153.2" y2="404.9" stroke="#222" stroke-width="1"/>
<line x1="70" y1="285.7" x2="72.2" y2="285.7" stroke="#222" stroke-width="0.8"/>
<text x="66.3" y="284.09999999999997" font-size="6" fill="#222" stroke="#222" stroke-width="0.1" text-anchor="end">TNFa signaling</text>
<text x="66.3" y="291.3" font-size="6" fill="#222" stroke="#222" stroke-width="0.1" text-anchor="end">via NF-kB</text>
<line x1="70" y1="311.5" x2="72.2" y2="311.5" stroke="#222" stroke-width="0.8"/>
<text x="66.3" y="313.6" font-size="6" fill="#222" stroke="#222" stroke-width="0.1" text-anchor="end">Hypoxia</text>
<line x1="70" y1="337.5" x2="72.2" y2="337.5" stroke="#222" stroke-width="0.8"/>
<text x="66.3" y="339.6" font-size="6" fill="#222" stroke="#222" stroke-width="0.1" text-anchor="end">Cell migration</text>
<line x1="70" y1="363.7" x2="72.2" y2="363.7" stroke="#222" stroke-width="0.8"/>
<text x="66.3" y="362.09999999999997" font-size="6" fill="#222" stroke="#222" stroke-width="0.1" text-anchor="end">Neuron</text>
<text x="66.3" y="369.3" font-size="6" fill="#222" stroke="#222" stroke-width="0.1" text-anchor="end">differentiation</text>
<line x1="70" y1="389.5" x2="72.2" y2="389.5" stroke="#222" stroke-width="0.8"/>
<text x="66.3" y="391.6" font-size="6" fill="#222" stroke="#222" stroke-width="0.1" text-anchor="end">Neurogenesis</text>
<line x1="75.8" y1="404.9" x2="75.8" y2="407" stroke="#222" stroke-width="0.8"/>
<text x="75.8" y="416.4" font-size="5.2" fill="#333" stroke="#333" stroke-width="0.1" text-anchor="middle">0</text>
<line x1="104.4" y1="404.9" x2="104.4" y2="407" stroke="#222" stroke-width="0.8"/>
<text x="104.4" y="416.4" font-size="5.2" fill="#333" stroke="#333" stroke-width="0.1" text-anchor="middle">1</text>
<line x1="133.0" y1="404.9" x2="133.0" y2="407" stroke="#222" stroke-width="0.8"/>
<text x="133.0" y="416.4" font-size="5.2" fill="#333" stroke="#333" stroke-width="0.1" text-anchor="middle">2</text>
<text x="113.3" y="428.4" font-size="7.2" fill="#222" stroke="#222" stroke-width="0.3" text-anchor="middle" textLength="73.3" lengthAdjust="spacingAndGlyphs">Normalized enrichment score</text>
<text transform="translate(21.8,337.7) rotate(-90)" font-size="7.2" fill="#222" stroke="#222" stroke-width="0.3" text-anchor="middle" textLength="48.5" lengthAdjust="spacingAndGlyphs">Enriched gene sets</text>
<polygon points="131.30,283.13 129.20,286.79 133.40,286.79" fill="#4f6ead"/>
<circle cx="136.60" cy="285.60" r="1.7" fill="#6a5c98"/>
<circle cx="143.80" cy="285.60" r="0.9" fill="#a2402e"/>
<circle cx="130.90" cy="311.50" r="1.7" fill="#665a94"/>
<circle cx="130.50" cy="337.50" r="0.85" fill="#3b3b6a"/>
<polygon points="135.60,333.63 132.20,339.55 139.00,339.55" fill="#c41a22"/>
<circle cx="128.20" cy="363.60" r="0.85" fill="#3b3b6a"/>
<polygon points="149.70,359.73 146.30,365.65 153.10,365.65" fill="#c8141c"/>
<circle cx="131.90" cy="389.70" r="0.85" fill="#3b3b6a"/>
<polygon points="149.30,385.43 145.90,391.35 152.70,391.35" fill="#c8141c"/>
<text x="162.5" y="274.2" font-size="6.0" fill="#333" stroke="#333" stroke-width="0.1">cell.line</text>
<circle cx="163.80" cy="281.90" r="1.0" fill="#111"/>
<text x="167.9" y="283.9" font-size="6.2" fill="#333" stroke="#333" stroke-width="0.1">697</text>
<polygon points="163.80,290.41 162.70,292.33 164.90,292.33" fill="#111"/>
<text x="167.9" y="293.6" font-size="6.2" fill="#333" stroke="#333" stroke-width="0.1">KASUMI</text>
<rect x="162.9" y="300.4" width="1.8" height="1.8" fill="#111"/>
<text x="167.9" y="303.4" font-size="6.2" fill="#333" stroke="#333" stroke-width="0.1">PDX</text>
<text x="162.6" y="319.0" font-size="6.3" fill="#333" stroke="#333" stroke-width="0.1">-log10(FDR)</text>
<rect x="162.9" y="324.0" width="9.0" height="46.8" fill="url(#cg)"/>
<text x="175.6" y="340.5" font-size="6.0" fill="#333" stroke="#333" stroke-width="0.1">6</text>
<line x1="170.2" y1="338.4" x2="171.9" y2="338.4" stroke="#fff" stroke-width="0.5"/>
<text x="175.6" y="355.20000000000005" font-size="6.0" fill="#333" stroke="#333" stroke-width="0.1">4</text>
<line x1="170.2" y1="353.1" x2="171.9" y2="353.1" stroke="#fff" stroke-width="0.5"/>
<text x="175.6" y="369.90000000000003" font-size="6.0" fill="#333" stroke="#333" stroke-width="0.1">2</text>
<line x1="170.2" y1="367.8" x2="171.9" y2="367.8" stroke="#fff" stroke-width="0.5"/>
<text x="162.6" y="386.0" font-size="6.1" fill="#333" stroke="#333" stroke-width="0.1">Gene Set size</text>
<circle cx="166.50" cy="393.30" r="1.7" fill="#111"/>
<text x="171.9" y="395.4" font-size="6.1" fill="#333" stroke="#333" stroke-width="0.1">100</text>
<circle cx="166.50" cy="403.30" r="2.4" fill="#111"/>
<text x="171.9" y="405.4" font-size="6.1" fill="#333" stroke="#333" stroke-width="0.1">200</text>
<text x="254.85" y="262.4" font-size="8" fill="#111" stroke="#111" stroke-width="0.1" text-anchor="middle">JUN</text>
<rect x="245.9" y="321.15" width="7.0" height="7.25" fill="#e6077e"/>
<rect x="256.6" y="287.79999999999995" width="7.0" height="40.599999999999994" fill="#0b6a4d"/>
<line x1="260.1" y1="287.79999999999995" x2="260.1" y2="274.75" stroke="#555" stroke-width="1.0"/>
<line x1="257.90000000000003" y1="274.75" x2="262.3" y2="274.75" stroke="#444" stroke-width="1.0"/>
<text x="260.0" y="273.6" font-size="5.2" fill="#333" text-anchor="middle">*</text>
<line x1="244.0" y1="267.4" x2="244.0" y2="329.0" stroke="#2a2a2a" stroke-width="1.3"/>
<line x1="241.6" y1="328.4" x2="265.7" y2="328.4" stroke="#1a1a1a" stroke-width="1.2"/>
<line x1="241.6" y1="328.4" x2="244.0" y2="328.4" stroke="#2a2a2a" stroke-width="0.9"/>
<text x="238.6" y="330.5" font-size="5.8" fill="#333" stroke="#333" stroke-width="0.1" text-anchor="end">0</text>
<line x1="241.6" y1="313.9" x2="244.0" y2="313.9" stroke="#2a2a2a" stroke-width="0.9"/>
<text x="238.6" y="316.0" font-size="5.8" fill="#333" stroke="#333" stroke-width="0.1" text-anchor="end">2</text>
<line x1="241.6" y1="299.4" x2="244.0" y2="299.4" stroke="#2a2a2a" stroke-width="0.9"/>
<text x="238.6" y="301.5" font-size="5.8" fill="#333" stroke="#333" stroke-width="0.1" text-anchor="end">4</text>
<line x1="241.6" y1="284.9" x2="244.0" y2="284.9" stroke="#2a2a2a" stroke-width="0.9"/>
<text x="238.6" y="287.0" font-size="5.8" fill="#333" stroke="#333" stroke-width="0.1" text-anchor="end">6</text>
<line x1="241.6" y1="270.4" x2="244.0" y2="270.4" stroke="#2a2a2a" stroke-width="0.9"/>
<text x="238.6" y="272.5" font-size="5.8" fill="#333" stroke="#333" stroke-width="0.1" text-anchor="end">8</text>
<text x="298.8" y="262.3" font-size="8" fill="#111" stroke="#111" stroke-width="0.1" text-anchor="middle">JUNB</text>
<rect x="290.5" y="324.5017" width="6.5" height="3.4983" fill="#e6077e"/>
<rect x="300.9" y="303.9006" width="6.5" height="24.0994" fill="#0b6a4d"/>
<line x1="304.15" y1="303.9006" x2="304.15" y2="290.6848" stroke="#555" stroke-width="1.0"/>
<line x1="301.95" y1="290.6848" x2="306.34999999999997" y2="290.6848" stroke="#444" stroke-width="1.0"/>
<text x="304.2" y="277.8" font-size="5.2" fill="#333" text-anchor="middle">*</text>
<line x1="287.9" y1="266.695" x2="287.9" y2="328.6" stroke="#2a2a2a" stroke-width="1.3"/>
<line x1="285.5" y1="328.0" x2="309.4" y2="328.0" stroke="#1a1a1a" stroke-width="1.2"/>
<line x1="285.5" y1="328.0" x2="287.9" y2="328.0" stroke="#2a2a2a" stroke-width="0.9"/>
<text x="282.5" y="330.1" font-size="5.8" fill="#333" stroke="#333" stroke-width="0.1" text-anchor="end">0</text>
<line x1="285.5" y1="308.565" x2="287.9" y2="308.565" stroke="#2a2a2a" stroke-width="0.9"/>
<text x="282.5" y="310.665" font-size="5.8" fill="#333" stroke="#333" stroke-width="0.1" text-anchor="end">5</text>
<line x1="285.5" y1="289.13" x2="287.9" y2="289.13" stroke="#2a2a2a" stroke-width="0.9"/>
<text x="282.5" y="291.23" font-size="5.8" fill="#333" stroke="#333" stroke-width="0.1" text-anchor="end">10</text>
<line x1="285.5" y1="269.695" x2="287.9" y2="269.695" stroke="#2a2a2a" stroke-width="0.9"/>
<text x="282.5" y="271.795" font-size="5.8" fill="#333" stroke="#333" stroke-width="0.1" text-anchor="end">15</text>
<text x="344.0" y="262.3" font-size="8" fill="#111" stroke="#111" stroke-width="0.1" text-anchor="middle">JUND</text>
<rect x="335.3" y="322.63" width="6.3" height="5.87" fill="#e6077e"/>
<rect x="343.9" y="297.6825" width="6.3" height="30.8175" fill="#0b6a4d"/>
<line x1="347.04999999999995" y1="297.6825" x2="347.04999999999995" y2="279.192" stroke="#555" stroke-width="1.0"/>
<line x1="344.84999999999997" y1="279.192" x2="349.24999999999994" y2="279.192" stroke="#444" stroke-width="1.0"/>
<text x="347.0" y="274.4" font-size="5.2" fill="#333" text-anchor="middle">*</text>
<line x1="333.5" y1="266.8" x2="333.5" y2="329.1" stroke="#2a2a2a" stroke-width="1.3"/>
<line x1="331.1" y1="328.5" x2="354.6" y2="328.5" stroke="#1a1a1a" stroke-width="1.2"/>
<line x1="331.1" y1="328.5" x2="333.5" y2="328.5" stroke="#2a2a2a" stroke-width="0.9"/>
<text x="326.7" y="330.6" font-size="5.8" fill="#333" stroke="#333" stroke-width="0.1" text-anchor="end">0</text>
<line x1="331.1" y1="316.76" x2="333.5" y2="316.76" stroke="#2a2a2a" stroke-width="0.9"/>
<text x="326.7" y="318.86" font-size="5.8" fill="#333" stroke="#333" stroke-width="0.1" text-anchor="end">2</text>
<line x1="331.1" y1="305.02" x2="333.5" y2="305.02" stroke="#2a2a2a" stroke-width="0.9"/>
<text x="326.7" y="307.12" font-size="5.8" fill="#333" stroke="#333" stroke-width="0.1" text-anchor="end">4</text>
<line x1="331.1" y1="293.28" x2="333.5" y2="293.28" stroke="#2a2a2a" stroke-width="0.9"/>
<text x="326.7" y="295.38" font-size="5.8" fill="#333" stroke="#333" stroke-width="0.1" text-anchor="end">6</text>
<line x1="331.1" y1="281.54" x2="333.5" y2="281.54" stroke="#2a2a2a" stroke-width="0.9"/>
<text x="326.7" y="283.64000000000004" font-size="5.8" fill="#333" stroke="#333" stroke-width="0.1" text-anchor="end">8</text>
<line x1="331.1" y1="269.8" x2="333.5" y2="269.8" stroke="#2a2a2a" stroke-width="0.9"/>
<text x="326.7" y="271.90000000000003" font-size="5.8" fill="#333" stroke="#333" stroke-width="0.1" text-anchor="end">10</text>
<text x="254.9" y="348.8" font-size="8" fill="#111" stroke="#111" stroke-width="0.1" text-anchor="middle">FOS</text>
<rect x="245.6" y="413.6" width="6.9" height="0.9" fill="#e6077e"/>
<rect x="256.1" y="384.8945" width="6.9" height="29.6055" fill="#0b6a4d"/>
<line x1="259.55" y1="384.8945" x2="259.55" y2="372.317" stroke="#555" stroke-width="1.0"/>
<line x1="257.35" y1="372.317" x2="261.75" y2="372.317" stroke="#444" stroke-width="1.0"/>
<text x="259.5" y="365.4" font-size="5.2" fill="#333" text-anchor="middle">*</text>
<line x1="243.8" y1="353.45" x2="243.8" y2="415.1" stroke="#2a2a2a" stroke-width="1.3"/>
<line x1="241.4" y1="414.5" x2="264.8" y2="414.5" stroke="#1a1a1a" stroke-width="1.2"/>
<line x1="241.4" y1="414.5" x2="243.8" y2="414.5" stroke="#2a2a2a" stroke-width="0.9"/>
<text x="238.4" y="416.6" font-size="5.8" fill="#333" stroke="#333" stroke-width="0.1" text-anchor="end">0</text>
<line x1="241.4" y1="395.15" x2="243.8" y2="395.15" stroke="#2a2a2a" stroke-width="0.9"/>
<text x="238.4" y="397.25" font-size="5.8" fill="#333" stroke="#333" stroke-width="0.1" text-anchor="end">50</text>
<line x1="241.4" y1="375.8" x2="243.8" y2="375.8" stroke="#2a2a2a" stroke-width="0.9"/>
<text x="238.4" y="377.90000000000003" font-size="5.8" fill="#333" stroke="#333" stroke-width="0.1" text-anchor="end">100</text>
<line x1="241.4" y1="356.45" x2="243.8" y2="356.45" stroke="#2a2a2a" stroke-width="0.9"/>
<text x="238.4" y="358.55" font-size="5.8" fill="#333" stroke="#333" stroke-width="0.1" text-anchor="end">150</text>
<text x="298.6" y="348.7" font-size="8" fill="#111" stroke="#111" stroke-width="0.1" text-anchor="middle">FOSB</text>
<rect x="290.2" y="399.9" width="6.5" height="14.5" fill="#e6077e"/>
<rect x="300.4" y="373.655" width="6.5" height="40.745" fill="#0b6a4d"/>
<line x1="303.65" y1="373.655" x2="303.65" y2="362.2" stroke="#555" stroke-width="1.0"/>
<line x1="301.45" y1="362.2" x2="305.84999999999997" y2="362.2" stroke="#444" stroke-width="1.0"/>
<text x="303.5" y="360.8" font-size="5.2" fill="#333" text-anchor="middle">*</text>
<line x1="287.4" y1="353.4" x2="287.4" y2="415.0" stroke="#2a2a2a" stroke-width="1.3"/>
<line x1="285.0" y1="414.4" x2="309.4" y2="414.4" stroke="#1a1a1a" stroke-width="1.2"/>
<line x1="285.0" y1="414.4" x2="287.4" y2="414.4" stroke="#2a2a2a" stroke-width="0.9"/>
<text x="282.0" y="416.5" font-size="5.8" fill="#333" stroke="#333" stroke-width="0.1" text-anchor="end">0</text>
<line x1="285.0" y1="399.9" x2="287.4" y2="399.9" stroke="#2a2a2a" stroke-width="0.9"/>
<text x="282.0" y="402.0" font-size="5.8" fill="#333" stroke="#333" stroke-width="0.1" text-anchor="end">1</text>
<line x1="285.0" y1="385.4" x2="287.4" y2="385.4" stroke="#2a2a2a" stroke-width="0.9"/>
<text x="282.0" y="387.5" font-size="5.8" fill="#333" stroke="#333" stroke-width="0.1" text-anchor="end">2</text>
<line x1="285.0" y1="370.9" x2="287.4" y2="370.9" stroke="#2a2a2a" stroke-width="0.9"/>
<text x="282.0" y="373.0" font-size="5.8" fill="#333" stroke="#333" stroke-width="0.1" text-anchor="end">3</text>
<line x1="285.0" y1="356.4" x2="287.4" y2="356.4" stroke="#2a2a2a" stroke-width="0.9"/>
<text x="282.0" y="358.5" font-size="5.8" fill="#333" stroke="#333" stroke-width="0.1" text-anchor="end">4</text>
<text x="343.8" y="348.7" font-size="8" fill="#111" stroke="#111" stroke-width="0.1" text-anchor="middle">ATF2</text>
<rect x="334.8" y="385.69" width="6.8" height="28.71" fill="#e6077e"/>
<rect x="345.6" y="380.76" width="6.8" height="33.64" fill="#0b6a4d"/>
<line x1="349.0" y1="380.76" x2="349.0" y2="376.7" stroke="#555" stroke-width="1.0"/>
<line x1="346.8" y1="376.7" x2="351.2" y2="376.7" stroke="#444" stroke-width="1.0"/>
<line x1="332.1" y1="353.4" x2="332.1" y2="415.0" stroke="#2a2a2a" stroke-width="1.3"/>
<line x1="329.70000000000005" y1="414.4" x2="354.6" y2="414.4" stroke="#1a1a1a" stroke-width="1.2"/>
<line x1="329.70000000000005" y1="414.4" x2="332.1" y2="414.4" stroke="#2a2a2a" stroke-width="0.9"/>
<text x="326.70000000000005" y="416.5" font-size="5.8" fill="#333" stroke="#333" stroke-width="0.1" text-anchor="end">0.0</text>
<line x1="329.70000000000005" y1="399.9" x2="332.1" y2="399.9" stroke="#2a2a2a" stroke-width="0.9"/>
<text x="326.70000000000005" y="402.0" font-size="5.8" fill="#333" stroke="#333" stroke-width="0.1" text-anchor="end">0.5</text>
<line x1="329.70000000000005" y1="385.4" x2="332.1" y2="385.4" stroke="#2a2a2a" stroke-width="0.9"/>
<text x="326.70000000000005" y="387.5" font-size="5.8" fill="#333" stroke="#333" stroke-width="0.1" text-anchor="end">1.0</text>
<line x1="329.70000000000005" y1="370.9" x2="332.1" y2="370.9" stroke="#2a2a2a" stroke-width="0.9"/>
<text x="326.70000000000005" y="373.0" font-size="5.8" fill="#333" stroke="#333" stroke-width="0.1" text-anchor="end">1.5</text>
<line x1="329.70000000000005" y1="356.4" x2="332.1" y2="356.4" stroke="#2a2a2a" stroke-width="0.9"/>
<text x="326.70000000000005" y="358.5" font-size="5.8" fill="#333" stroke="#333" stroke-width="0.1" text-anchor="end">2.0</text>
<text transform="translate(228.5,298.2) rotate(-90)" font-size="7" fill="#222" stroke="#222" stroke-width="0.3" text-anchor="middle" textLength="20.5" lengthAdjust="spacingAndGlyphs">RQ (AU)</text>
<text transform="translate(222.0,383.7) rotate(-90)" font-size="7" fill="#222" stroke="#222" stroke-width="0.3" text-anchor="middle" textLength="21" lengthAdjust="spacingAndGlyphs">RQ (AU)</text>
<rect x="261.9" y="424.4" width="5.0" height="5.0" fill="#0b6a4d"/>
<text x="270.6" y="429.2" font-size="6.0" fill="#333" stroke="#333" stroke-width="0.1" textLength="26.5" lengthAdjust="spacingAndGlyphs">PDX-CNS</text>
<rect x="306.3" y="424.4" width="5.0" height="5.0" fill="#e6077e"/>
<text x="315.4" y="429.2" font-size="6.0" fill="#333" stroke="#333" stroke-width="0.1" textLength="21.6" lengthAdjust="spacingAndGlyphs">PDX-SP</text>
<text x="408.2" y="262.0" font-size="8" fill="#111" stroke="#111" stroke-width="0.1" text-anchor="middle">JUN</text>
<rect x="399.1" y="289.1" width="7.2" height="39.4" fill="#e6077e"/>
<rect x="410.2" y="320.226" width="7.6" height="8.274" fill="#0b6a4d"/>
<line x1="414.0" y1="320.226" x2="414.0" y2="313.922" stroke="#555" stroke-width="1.0"/>
<line x1="411.8" y1="313.922" x2="416.2" y2="313.922" stroke="#444" stroke-width="1.0"/>
<text x="414.0" y="277.3" font-size="5.2" fill="#333" text-anchor="middle">*</text>
<line x1="396.5" y1="266.4" x2="396.5" y2="329.1" stroke="#2a2a2a" stroke-width="1.3"/>
<line x1="394.1" y1="328.5" x2="418.6" y2="328.5" stroke="#1a1a1a" stroke-width="1.2"/>
<line x1="394.1" y1="328.5" x2="396.5" y2="328.5" stroke="#2a2a2a" stroke-width="0.9"/>
<text x="391.1" y="330.6" font-size="5.8" fill="#333" stroke="#333" stroke-width="0.1" text-anchor="end">0.0</text>
<line x1="394.1" y1="308.8" x2="396.5" y2="308.8" stroke="#2a2a2a" stroke-width="0.9"/>
<text x="391.1" y="310.90000000000003" font-size="5.8" fill="#333" stroke="#333" stroke-width="0.1" text-anchor="end">0.5</text>
<line x1="394.1" y1="289.1" x2="396.5" y2="289.1" stroke="#2a2a2a" stroke-width="0.9"/>
<text x="391.1" y="291.20000000000005" font-size="5.8" fill="#333" stroke="#333" stroke-width="0.1" text-anchor="end">1.0</text>
<line x1="394.1" y1="269.4" x2="396.5" y2="269.4" stroke="#2a2a2a" stroke-width="0.9"/>
<text x="391.1" y="271.5" font-size="5.8" fill="#333" stroke="#333" stroke-width="0.1" text-anchor="end">1.5</text>
<text x="455.6" y="262.0" font-size="8" fill="#111" stroke="#111" stroke-width="0.1" text-anchor="middle">JUNB</text>
<rect x="445.6" y="289.1" width="7.0" height="39.4" fill="#e6077e"/>
<rect x="457.1" y="321.408" width="7.3" height="7.092" fill="#0b6a4d"/>
<line x1="460.75" y1="321.408" x2="460.75" y2="319.832" stroke="#555" stroke-width="1.0"/>
<line x1="458.55" y1="319.832" x2="462.95" y2="319.832" stroke="#444" stroke-width="1.0"/>
<text x="460.8" y="277.4" font-size="5.2" fill="#333" text-anchor="middle">*</text>
<line x1="443.5" y1="266.4" x2="443.5" y2="329.1" stroke="#2a2a2a" stroke-width="1.3"/>
<line x1="441.1" y1="328.5" x2="466.9" y2="328.5" stroke="#1a1a1a" stroke-width="1.2"/>
<line x1="441.1" y1="328.5" x2="443.5" y2="328.5" stroke="#2a2a2a" stroke-width="0.9"/>
<text x="438.1" y="330.6" font-size="5.8" fill="#333" stroke="#333" stroke-width="0.1" text-anchor="end">0.0</text>
<line x1="441.1" y1="308.8" x2="443.5" y2="308.8" stroke="#2a2a2a" stroke-width="0.9"/>
<text x="438.1" y="310.90000000000003" font-size="5.8" fill="#333" stroke="#333" stroke-width="0.1" text-anchor="end">0.5</text>
<line x1="441.1" y1="289.1" x2="443.5" y2="289.1" stroke="#2a2a2a" stroke-width="0.9"/>
<text x="438.1" y="291.20000000000005" font-size="5.8" fill="#333" stroke="#333" stroke-width="0.1" text-anchor="end">1.0</text>
<line x1="441.1" y1="269.4" x2="443.5" y2="269.4" stroke="#2a2a2a" stroke-width="0.9"/>
<text x="438.1" y="271.5" font-size="5.8" fill="#333" stroke="#333" stroke-width="0.1" text-anchor="end">1.5</text>
<text x="501.7" y="262.0" font-size="8" fill="#111" stroke="#111" stroke-width="0.1" text-anchor="middle">JUND</text>
<rect x="492.5" y="289.1" width="7.5" height="39.4" fill="#e6077e"/>
<rect x="503.6" y="305.254" width="7.4" height="23.246" fill="#0b6a4d"/>
<line x1="507.3" y1="305.254" x2="507.3" y2="296.98" stroke="#555" stroke-width="1.0"/>
<line x1="505.1" y1="296.98" x2="509.5" y2="296.98" stroke="#444" stroke-width="1.0"/>
<line x1="490.6" y1="266.4" x2="490.6" y2="329.1" stroke="#2a2a2a" stroke-width="1.3"/>
<line x1="488.20000000000005" y1="328.5" x2="513.4" y2="328.5" stroke="#1a1a1a" stroke-width="1.2"/>
<line x1="488.20000000000005" y1="328.5" x2="490.6" y2="328.5" stroke="#2a2a2a" stroke-width="0.9"/>
<text x="485.20000000000005" y="330.6" font-size="5.8" fill="#333" stroke="#333" stroke-width="0.1" text-anchor="end">0.0</text>
<line x1="488.20000000000005" y1="308.8" x2="490.6" y2="308.8" stroke="#2a2a2a" stroke-width="0.9"/>
<text x="485.20000000000005" y="310.90000000000003" font-size="5.8" fill="#333" stroke="#333" stroke-width="0.1" text-anchor="end">0.5</text>
<line x1="488.20000000000005" y1="289.1" x2="490.6" y2="289.1" stroke="#2a2a2a" stroke-width="0.9"/>
<text x="485.20000000000005" y="291.20000000000005" font-size="5.8" fill="#333" stroke="#333" stroke-width="0.1" text-anchor="end">1.0</text>
<line x1="488.20000000000005" y1="269.4" x2="490.6" y2="269.4" stroke="#2a2a2a" stroke-width="0.9"/>
<text x="485.20000000000005" y="271.5" font-size="5.8" fill="#333" stroke="#333" stroke-width="0.1" text-anchor="end">1.5</text>
<text x="408.0" y="348.0" font-size="8" fill="#111" stroke="#111" stroke-width="0.1" text-anchor="middle">FOS</text>
<rect x="398.2" y="375.3" width="7.6" height="39.2" fill="#e6077e"/>
<rect x="410.2" y="403.132" width="7.3" height="11.368" fill="#0b6a4d"/>
<line x1="413.84999999999997" y1="403.132" x2="413.84999999999997" y2="400.388" stroke="#555" stroke-width="1.0"/>
<line x1="411.65" y1="400.388" x2="416.04999999999995" y2="400.388" stroke="#444" stroke-width="1.0"/>
<text x="413.2" y="363.9" font-size="5.2" fill="#333" text-anchor="middle">*</text>
<line x1="396.0" y1="352.7" x2="396.0" y2="415.1" stroke="#2a2a2a" stroke-width="1.3"/>
<line x1="393.6" y1="414.5" x2="418.6" y2="414.5" stroke="#1a1a1a" stroke-width="1.2"/>
<line x1="393.6" y1="414.5" x2="396.0" y2="414.5" stroke="#2a2a2a" stroke-width="0.9"/>
<text x="390.6" y="416.6" font-size="5.8" fill="#333" stroke="#333" stroke-width="0.1" text-anchor="end">0.0</text>
<line x1="393.6" y1="394.9" x2="396.0" y2="394.9" stroke="#2a2a2a" stroke-width="0.9"/>
<text x="390.6" y="397.0" font-size="5.8" fill="#333" stroke="#333" stroke-width="0.1" text-anchor="end">0.5</text>
<line x1="393.6" y1="375.3" x2="396.0" y2="375.3" stroke="#2a2a2a" stroke-width="0.9"/>
<text x="390.6" y="377.40000000000003" font-size="5.8" fill="#333" stroke="#333" stroke-width="0.1" text-anchor="end">1.0</text>
<line x1="393.6" y1="355.7" x2="396.0" y2="355.7" stroke="#2a2a2a" stroke-width="0.9"/>
<text x="390.6" y="357.8" font-size="5.8" fill="#333" stroke="#333" stroke-width="0.1" text-anchor="end">1.5</text>
<text x="455.4" y="347.8" font-size="8" fill="#111" stroke="#111" stroke-width="0.1" text-anchor="middle">FOSB</text>
<rect x="446.4" y="375.3" width="6.6" height="39.2" fill="#e6077e"/>
<rect x="456.8" y="391.764" width="7.3" height="22.736" fill="#0b6a4d"/>
<line x1="460.45" y1="391.764" x2="460.45" y2="388.236" stroke="#555" stroke-width="1.0"/>
<line x1="458.25" y1="388.236" x2="462.65" y2="388.236" stroke="#444" stroke-width="1.0"/>
<text x="460.3" y="363.8" font-size="5.2" fill="#333" text-anchor="middle">*</text>
<line x1="443.5" y1="352.7" x2="443.5" y2="415.1" stroke="#2a2a2a" stroke-width="1.3"/>
<line x1="441.1" y1="414.5" x2="466.7" y2="414.5" stroke="#1a1a1a" stroke-width="1.2"/>
<line x1="441.1" y1="414.5" x2="443.5" y2="414.5" stroke="#2a2a2a" stroke-width="0.9"/>
<text x="438.1" y="416.6" font-size="5.8" fill="#333" stroke="#333" stroke-width="0.1" text-anchor="end">0.0</text>
<line x1="441.1" y1="394.9" x2="443.5" y2="394.9" stroke="#2a2a2a" stroke-width="0.9"/>
<text x="438.1" y="397.0" font-size="5.8" fill="#333" stroke="#333" stroke-width="0.1" text-anchor="end">0.5</text>
<line x1="441.1" y1="375.3" x2="443.5" y2="375.3" stroke="#2a2a2a" stroke-width="0.9"/>
<text x="438.1" y="377.40000000000003" font-size="5.8" fill="#333" stroke="#333" stroke-width="0.1" text-anchor="end">1.0</text>
<line x1="441.1" y1="355.7" x2="443.5" y2="355.7" stroke="#2a2a2a" stroke-width="0.9"/>
<text x="438.1" y="357.8" font-size="5.8" fill="#333" stroke="#333" stroke-width="0.1" text-anchor="end">1.5</text>
<text x="502.0" y="347.8" font-size="8" fill="#111" stroke="#111" stroke-width="0.1" text-anchor="middle">ATF2</text>
<rect x="492.3" y="375.3" width="7.4" height="39.2" fill="#e6077e"/>
<rect x="503.5" y="392.94" width="7.5" height="21.560000000000002" fill="#0b6a4d"/>
<line x1="507.25" y1="392.94" x2="507.25" y2="383.14" stroke="#555" stroke-width="1.0"/>
<line x1="505.05" y1="383.14" x2="509.45" y2="383.14" stroke="#444" stroke-width="1.0"/>
<line x1="489.6" y1="352.7" x2="489.6" y2="415.1" stroke="#2a2a2a" stroke-width="1.3"/>
<line x1="487.20000000000005" y1="414.5" x2="513.4" y2="414.5" stroke="#1a1a1a" stroke-width="1.2"/>
<line x1="487.20000000000005" y1="414.5" x2="489.6" y2="414.5" stroke="#2a2a2a" stroke-width="0.9"/>
<text x="484.20000000000005" y="416.6" font-size="5.8" fill="#333" stroke="#333" stroke-width="0.1" text-anchor="end">0.0</text>
<line x1="487.20000000000005" y1="394.9" x2="489.6" y2="394.9" stroke="#2a2a2a" stroke-width="0.9"/>
<text x="484.20000000000005" y="397.0" font-size="5.8" fill="#333" stroke="#333" stroke-width="0.1" text-anchor="end">0.5</text>
<line x1="487.20000000000005" y1="375.3" x2="489.6" y2="375.3" stroke="#2a2a2a" stroke-width="0.9"/>
<text x="484.20000000000005" y="377.40000000000003" font-size="5.8" fill="#333" stroke="#333" stroke-width="0.1" text-anchor="end">1.0</text>
<line x1="487.20000000000005" y1="355.7" x2="489.6" y2="355.7" stroke="#2a2a2a" stroke-width="0.9"/>
<text x="484.20000000000005" y="357.8" font-size="5.8" fill="#333" stroke="#333" stroke-width="0.1" text-anchor="end">1.5</text>
<text transform="translate(377.0,298.4) rotate(-90)" font-size="7" fill="#222" stroke="#222" stroke-width="0.3" text-anchor="middle" textLength="21" lengthAdjust="spacingAndGlyphs">RQ (AU)</text>
<text transform="translate(377.0,384.6) rotate(-90)" font-size="7" fill="#222" stroke="#222" stroke-width="0.3" text-anchor="middle" textLength="21" lengthAdjust="spacingAndGlyphs">RQ (AU)</text>
<rect x="409.5" y="423.9" width="5.6" height="5.5" fill="#e6077e"/>
<text x="418.4" y="429.0" font-size="6.0" fill="#333" stroke="#333" stroke-width="0.1" textLength="26.6" lengthAdjust="spacingAndGlyphs">PDXshCtr</text>
<rect x="454.6" y="423.9" width="5.6" height="5.5" fill="#0b6a4d"/>
<text x="463.0" y="429.0" font-size="6.0" fill="#333" stroke="#333" stroke-width="0.1" textLength="37.5" lengthAdjust="spacingAndGlyphs">PDXshCD79a</text>
<g fill="#6c69b2">
<circle cx="97.23" cy="469.31" r="1.05"/>
<circle cx="86.46" cy="473.00" r="1.05"/>
<circle cx="89.69" cy="474.54" r="1.05"/>
<circle cx="83.85" cy="477.31" r="1.05"/>
<circle cx="98.46" cy="475.00" r="1.05"/>
<circle cx="100.77" cy="477.00" r="1.05"/>
<circle cx="103.85" cy="476.54" r="1.05"/>
<circle cx="112.77" cy="478.54" r="1.05"/>
<circle cx="91.54" cy="478.85" r="1.05"/>
<circle cx="93.85" cy="479.62" r="1.05"/>
<circle cx="96.15" cy="480.08" r="1.05"/>
<circle cx="92.31" cy="481.15" r="1.05"/>
<circle cx="86.92" cy="481.15" r="1.05"/>
<circle cx="99.23" cy="481.62" r="1.05"/>
<circle cx="95.38" cy="482.69" r="1.05"/>
<circle cx="90.77" cy="483.46" r="1.05"/>
<circle cx="93.08" cy="484.23" r="1.05"/>
<circle cx="96.15" cy="484.69" r="1.05"/>
<circle cx="97.69" cy="485.77" r="1.05"/>
<circle cx="89.23" cy="485.00" r="1.05"/>
<circle cx="91.54" cy="486.54" r="1.05"/>
<circle cx="94.62" cy="486.54" r="1.05"/>
<circle cx="99.23" cy="487.31" r="1.05"/>
<circle cx="87.69" cy="487.31" r="1.05"/>
<circle cx="90.00" cy="488.08" r="1.05"/>
<circle cx="85.38" cy="487.31" r="1.05"/>
<circle cx="75.38" cy="488.85" r="1.05"/>
<circle cx="77.38" cy="487.77" r="1.05"/>
<circle cx="80.00" cy="489.62" r="1.05"/>
<circle cx="82.31" cy="488.85" r="1.05"/>
<circle cx="83.08" cy="490.85" r="1.05"/>
<circle cx="88.46" cy="489.62" r="1.05"/>
<circle cx="90.77" cy="489.62" r="1.05"/>
<circle cx="93.85" cy="489.62" r="1.05"/>
<circle cx="96.15" cy="488.85" r="1.05"/>
<circle cx="98.46" cy="489.62" r="1.05"/>
<circle cx="102.31" cy="489.31" r="1.05"/>
<circle cx="104.15" cy="489.92" r="1.05"/>
<circle cx="76.92" cy="492.69" r="1.05"/>
<circle cx="86.92" cy="491.92" r="1.05"/>
<circle cx="90.00" cy="491.92" r="1.05"/>
<circle cx="93.08" cy="491.92" r="1.05"/>
<circle cx="95.38" cy="492.38" r="1.05"/>
<circle cx="96.92" cy="493.00" r="1.05"/>
<circle cx="99.23" cy="492.69" r="1.05"/>
<circle cx="88.46" cy="494.23" r="1.05"/>
<circle cx="91.54" cy="495.00" r="1.05"/>
<circle cx="96.15" cy="495.00" r="1.05"/>
<circle cx="101.54" cy="495.46" r="1.05"/>
<circle cx="78.46" cy="495.77" r="1.05"/>
<circle cx="77.69" cy="498.08" r="1.05"/>
<circle cx="80.77" cy="499.15" r="1.05"/>
<circle cx="85.38" cy="498.54" r="1.05"/>
<circle cx="87.69" cy="498.08" r="1.05"/>
<circle cx="90.77" cy="498.54" r="1.05"/>
<circle cx="93.85" cy="498.85" r="1.05"/>
<circle cx="96.15" cy="497.62" r="1.05"/>
<circle cx="98.92" cy="497.00" r="1.05"/>
<circle cx="81.54" cy="501.62" r="1.05"/>
<circle cx="83.08" cy="502.38" r="1.05"/>
<circle cx="84.62" cy="501.62" r="1.05"/>
<circle cx="79.23" cy="501.92" r="1.05"/>
<circle cx="91.54" cy="499.62" r="1.05"/>
<circle cx="93.85" cy="503.15" r="1.05"/>
<circle cx="78.46" cy="509.62" r="1.05"/>
<circle cx="76.92" cy="510.85" r="1.05"/>
<circle cx="82.62" cy="515.00" r="1.05"/>
<circle cx="90.87" cy="486.10" r="1.05"/>
<circle cx="101.60" cy="485.05" r="1.05"/>
<circle cx="87.52" cy="489.94" r="1.05"/>
<circle cx="93.68" cy="492.33" r="1.05"/>
<circle cx="91.66" cy="497.25" r="1.05"/>
<circle cx="95.48" cy="504.01" r="1.05"/>
<circle cx="95.36" cy="489.80" r="1.05"/>
<circle cx="98.67" cy="493.67" r="1.05"/>
<circle cx="90.17" cy="493.25" r="1.05"/>
<circle cx="90.56" cy="495.86" r="1.05"/>
<circle cx="90.91" cy="490.46" r="1.05"/>
<circle cx="90.11" cy="490.30" r="1.05"/>
<circle cx="98.57" cy="495.43" r="1.05"/>
<circle cx="90.66" cy="479.84" r="1.05"/>
<circle cx="95.93" cy="483.93" r="1.05"/>
<circle cx="90.15" cy="492.52" r="1.05"/>
<circle cx="88.36" cy="493.24" r="1.05"/>
<circle cx="97.37" cy="488.36" r="1.05"/>
</g>
<line x1="52.6" y1="459.6" x2="52.6" y2="517.7" stroke="#222" stroke-width="1.2"/>
<line x1="52.0" y1="517.2" x2="123.5" y2="517.2" stroke="#222" stroke-width="1.2"/>
<line x1="50.4" y1="460.5" x2="52.6" y2="460.5" stroke="#222" stroke-width="0.8"/>
<text x="47.7" y="462.6" font-size="6.2" fill="#333" stroke="#333" stroke-width="0.1" text-anchor="end">100000</text>
<line x1="50.4" y1="479.4" x2="52.6" y2="479.4" stroke="#222" stroke-width="0.8"/>
<text x="47.7" y="481.5" font-size="6.2" fill="#333" stroke="#333" stroke-width="0.1" text-anchor="end">10000</text>
<line x1="50.4" y1="498.3" x2="52.6" y2="498.3" stroke="#222" stroke-width="0.8"/>
<text x="47.7" y="500.40000000000003" font-size="6.2" fill="#333" stroke="#333" stroke-width="0.1" text-anchor="end">1000</text>
<line x1="50.4" y1="517.2" x2="52.6" y2="517.2" stroke="#222" stroke-width="0.8"/>
<text x="47.7" y="519.3000000000001" font-size="6.2" fill="#333" stroke="#333" stroke-width="0.1" text-anchor="end">100</text>
<line x1="52.6" y1="517.2" x2="52.6" y2="519.4000000000001" stroke="#222" stroke-width="0.8"/>
<text x="52.6" y="528.7" font-size="5.8" fill="#333" stroke="#333" stroke-width="0.1" text-anchor="middle">0.1</text>
<line x1="76.1" y1="517.2" x2="76.1" y2="519.4000000000001" stroke="#222" stroke-width="0.8"/>
<text x="76.1" y="528.7" font-size="5.8" fill="#333" stroke="#333" stroke-width="0.1" text-anchor="middle">1</text>
<line x1="99.6" y1="517.2" x2="99.6" y2="519.4000000000001" stroke="#222" stroke-width="0.8"/>
<text x="99.6" y="528.7" font-size="5.8" fill="#333" stroke="#333" stroke-width="0.1" text-anchor="middle">10</text>
<line x1="123.0" y1="517.2" x2="123.0" y2="519.4000000000001" stroke="#222" stroke-width="0.8"/>
<text x="123.0" y="528.7" font-size="5.8" fill="#333" stroke="#333" stroke-width="0.1" text-anchor="middle">100</text>
<text x="58.6" y="454.0" font-size="6.2" fill="#222" stroke="#222" stroke-width="0.08">Pearson r = 0.2318</text>
<text x="58.6" y="460.8" font-size="6.2" fill="#222" stroke="#222" stroke-width="0.08">**<tspan font-style="italic">P</tspan> = .0246</text>
<text x="89.6" y="540.0" font-size="7.4" fill="#222" stroke="#222" stroke-width="0.3" text-anchor="middle" textLength="29.8" lengthAdjust="spacingAndGlyphs">CD79a (AU)</text>
<text transform="translate(20.4,488.1) rotate(-90)" font-size="7.4" fill="#222" stroke="#222" stroke-width="0.3" text-anchor="middle" textLength="23.8" lengthAdjust="spacingAndGlyphs">FOS (AU)</text>
<g fill="#6c69b2">
<circle cx="221.15" cy="464.62" r="1.05"/>
<circle cx="221.15" cy="467.69" r="1.05"/>
<circle cx="227.31" cy="470.00" r="1.05"/>
<circle cx="209.62" cy="472.31" r="1.05"/>
<circle cx="219.62" cy="471.54" r="1.05"/>
<circle cx="223.00" cy="471.08" r="1.05"/>
<circle cx="211.62" cy="475.08" r="1.05"/>
<circle cx="215.77" cy="474.62" r="1.05"/>
<circle cx="216.85" cy="475.38" r="1.05"/>
<circle cx="224.23" cy="473.85" r="1.05"/>
<circle cx="225.46" cy="473.08" r="1.05"/>
<circle cx="238.38" cy="471.54" r="1.05"/>
<circle cx="212.69" cy="477.69" r="1.05"/>
<circle cx="215.00" cy="478.15" r="1.05"/>
<circle cx="218.85" cy="476.92" r="1.05"/>
<circle cx="221.15" cy="476.15" r="1.05"/>
<circle cx="222.69" cy="478.15" r="1.05"/>
<circle cx="227.31" cy="478.77" r="1.05"/>
<circle cx="228.85" cy="479.69" r="1.05"/>
<circle cx="203.92" cy="481.23" r="1.05"/>
<circle cx="210.08" cy="481.23" r="1.05"/>
<circle cx="216.23" cy="479.69" r="1.05"/>
<circle cx="217.31" cy="481.54" r="1.05"/>
<circle cx="220.38" cy="480.00" r="1.05"/>
<circle cx="214.23" cy="481.54" r="1.05"/>
<circle cx="219.62" cy="483.08" r="1.05"/>
<circle cx="221.15" cy="482.31" r="1.05"/>
<circle cx="223.46" cy="482.77" r="1.05"/>
<circle cx="225.00" cy="483.08" r="1.05"/>
<circle cx="201.92" cy="483.85" r="1.05"/>
<circle cx="205.77" cy="483.85" r="1.05"/>
<circle cx="207.31" cy="485.38" r="1.05"/>
<circle cx="210.69" cy="484.62" r="1.05"/>
<circle cx="213.15" cy="483.85" r="1.05"/>
<circle cx="215.77" cy="484.62" r="1.05"/>
<circle cx="218.08" cy="484.92" r="1.05"/>
<circle cx="221.15" cy="485.38" r="1.05"/>
<circle cx="224.23" cy="485.38" r="1.05"/>
<circle cx="229.62" cy="486.46" r="1.05"/>
<circle cx="202.69" cy="488.46" r="1.05"/>
<circle cx="208.08" cy="488.46" r="1.05"/>
<circle cx="209.62" cy="489.23" r="1.05"/>
<circle cx="213.46" cy="487.38" r="1.05"/>
<circle cx="215.31" cy="488.46" r="1.05"/>
<circle cx="217.31" cy="487.69" r="1.05"/>
<circle cx="219.62" cy="487.38" r="1.05"/>
<circle cx="221.92" cy="488.46" r="1.05"/>
<circle cx="224.23" cy="487.38" r="1.05"/>
<circle cx="213.15" cy="490.77" r="1.05"/>
<circle cx="215.31" cy="491.54" r="1.05"/>
<circle cx="217.31" cy="490.77" r="1.05"/>
<circle cx="219.62" cy="490.46" r="1.05"/>
<circle cx="221.92" cy="490.77" r="1.05"/>
<circle cx="227.31" cy="490.77" r="1.05"/>
<circle cx="216.54" cy="493.08" r="1.05"/>
<circle cx="218.85" cy="493.08" r="1.05"/>
<circle cx="221.15" cy="492.31" r="1.05"/>
<circle cx="222.69" cy="493.85" r="1.05"/>
<circle cx="214.69" cy="494.62" r="1.05"/>
<circle cx="217.31" cy="495.69" r="1.05"/>
<circle cx="219.62" cy="496.15" r="1.05"/>
<circle cx="221.92" cy="496.92" r="1.05"/>
<circle cx="200.38" cy="497.23" r="1.05"/>
<circle cx="203.46" cy="496.92" r="1.05"/>
<circle cx="208.08" cy="497.69" r="1.05"/>
<circle cx="216.23" cy="496.92" r="1.05"/>
<circle cx="230.08" cy="496.62" r="1.05"/>
<circle cx="205.00" cy="500.31" r="1.05"/>
<circle cx="211.15" cy="500.31" r="1.05"/>
<circle cx="219.62" cy="499.69" r="1.05"/>
<circle cx="224.54" cy="500.77" r="1.05"/>
<circle cx="205.00" cy="504.62" r="1.05"/>
<circle cx="207.31" cy="505.85" r="1.05"/>
<circle cx="213.15" cy="505.38" r="1.05"/>
<circle cx="221.25" cy="493.75" r="1.05"/>
<circle cx="221.01" cy="495.43" r="1.05"/>
<circle cx="215.13" cy="483.12" r="1.05"/>
<circle cx="214.40" cy="481.57" r="1.05"/>
<circle cx="222.63" cy="488.95" r="1.05"/>
<circle cx="214.68" cy="481.83" r="1.05"/>
<circle cx="222.63" cy="480.03" r="1.05"/>
<circle cx="216.10" cy="490.00" r="1.05"/>
<circle cx="222.94" cy="495.01" r="1.05"/>
<circle cx="216.13" cy="479.08" r="1.05"/>
<circle cx="213.84" cy="489.52" r="1.05"/>
<circle cx="218.90" cy="494.37" r="1.05"/>
<circle cx="221.35" cy="493.71" r="1.05"/>
<circle cx="214.16" cy="480.23" r="1.05"/>
<circle cx="218.11" cy="489.63" r="1.05"/>
<circle cx="215.15" cy="495.06" r="1.05"/>
</g>
<line x1="178.3" y1="459.6" x2="178.3" y2="517.7" stroke="#222" stroke-width="1.2"/>
<line x1="177.70000000000002" y1="517.2" x2="250.0" y2="517.2" stroke="#222" stroke-width="1.2"/>
<line x1="176.10000000000002" y1="461.3" x2="178.3" y2="461.3" stroke="#222" stroke-width="0.8"/>
<text x="173.1" y="463.40000000000003" font-size="6.05" fill="#333" stroke="#333" stroke-width="0.1" text-anchor="end">10000</text>
<line x1="176.10000000000002" y1="479.9" x2="178.3" y2="479.9" stroke="#222" stroke-width="0.8"/>
<text x="173.1" y="482.0" font-size="6.05" fill="#333" stroke="#333" stroke-width="0.1" text-anchor="end">1000</text>
<line x1="176.10000000000002" y1="498.5" x2="178.3" y2="498.5" stroke="#222" stroke-width="0.8"/>
<text x="173.1" y="500.6" font-size="6.05" fill="#333" stroke="#333" stroke-width="0.1" text-anchor="end">100</text>
<line x1="176.10000000000002" y1="517.2" x2="178.3" y2="517.2" stroke="#222" stroke-width="0.8"/>
<text x="173.1" y="519.3000000000001" font-size="6.05" fill="#333" stroke="#333" stroke-width="0.1" text-anchor="end">10</text>
<line x1="178.8" y1="517.2" x2="178.8" y2="519.4000000000001" stroke="#222" stroke-width="0.8"/>
<text x="178.8" y="528.7" font-size="5.8" fill="#333" stroke="#333" stroke-width="0.1" text-anchor="middle">0.1</text>
<line x1="202.0" y1="517.2" x2="202.0" y2="519.4000000000001" stroke="#222" stroke-width="0.8"/>
<text x="202.0" y="528.7" font-size="5.8" fill="#333" stroke="#333" stroke-width="0.1" text-anchor="middle">1</text>
<line x1="225.0" y1="517.2" x2="225.0" y2="519.4000000000001" stroke="#222" stroke-width="0.8"/>
<text x="225.0" y="528.7" font-size="5.8" fill="#333" stroke="#333" stroke-width="0.1" text-anchor="middle">10</text>
<line x1="247.6" y1="517.2" x2="247.6" y2="519.4000000000001" stroke="#222" stroke-width="0.8"/>
<text x="247.6" y="528.7" font-size="5.8" fill="#333" stroke="#333" stroke-width="0.1" text-anchor="middle">100</text>
<text x="185.0" y="454.0" font-size="6.2" fill="#222" stroke="#222" stroke-width="0.08">Pearson r = 0.2653</text>
<text x="185.0" y="460.8" font-size="6.2" fill="#222" stroke="#222" stroke-width="0.08">**<tspan font-style="italic">P</tspan> = .009</text>
<text x="214.0" y="540.0" font-size="7.4" fill="#222" stroke="#222" stroke-width="0.3" text-anchor="middle" textLength="29.8" lengthAdjust="spacingAndGlyphs">CD79a (AU)</text>
<text transform="translate(149.8,487.7) rotate(-90)" font-size="7.4" fill="#222" stroke="#222" stroke-width="0.3" text-anchor="middle" textLength="25.4" lengthAdjust="spacingAndGlyphs">JUN (AU)</text>
<g fill="#6c69b2">
<circle cx="146.62" cy="570.46" r="1.05"/>
<circle cx="148.46" cy="569.54" r="1.05"/>
<circle cx="143.54" cy="580.77" r="1.05"/>
<circle cx="153.85" cy="581.23" r="1.05"/>
<circle cx="156.15" cy="582.31" r="1.05"/>
<circle cx="159.23" cy="583.08" r="1.05"/>
<circle cx="150.00" cy="583.08" r="1.05"/>
<circle cx="151.54" cy="584.62" r="1.05"/>
<circle cx="154.62" cy="585.38" r="1.05"/>
<circle cx="157.69" cy="586.15" r="1.05"/>
<circle cx="146.92" cy="586.92" r="1.05"/>
<circle cx="149.23" cy="586.92" r="1.05"/>
<circle cx="151.54" cy="587.69" r="1.05"/>
<circle cx="153.85" cy="588.46" r="1.05"/>
<circle cx="156.15" cy="588.46" r="1.05"/>
<circle cx="160.77" cy="589.23" r="1.05"/>
<circle cx="163.08" cy="588.92" r="1.05"/>
<circle cx="172.31" cy="584.92" r="1.05"/>
<circle cx="135.85" cy="591.54" r="1.05"/>
<circle cx="149.23" cy="590.00" r="1.05"/>
<circle cx="151.54" cy="590.77" r="1.05"/>
<circle cx="154.62" cy="590.77" r="1.05"/>
<circle cx="157.69" cy="590.00" r="1.05"/>
<circle cx="160.77" cy="590.77" r="1.05"/>
<circle cx="139.23" cy="593.08" r="1.05"/>
<circle cx="141.54" cy="593.54" r="1.05"/>
<circle cx="143.08" cy="594.62" r="1.05"/>
<circle cx="150.00" cy="593.08" r="1.05"/>
<circle cx="153.08" cy="593.08" r="1.05"/>
<circle cx="155.38" cy="593.85" r="1.05"/>
<circle cx="158.46" cy="593.54" r="1.05"/>
<circle cx="163.85" cy="595.69" r="1.05"/>
<circle cx="134.62" cy="596.92" r="1.05"/>
<circle cx="137.38" cy="596.92" r="1.05"/>
<circle cx="140.00" cy="596.15" r="1.05"/>
<circle cx="142.31" cy="596.15" r="1.05"/>
<circle cx="144.62" cy="596.92" r="1.05"/>
<circle cx="149.23" cy="596.15" r="1.05"/>
<circle cx="151.54" cy="596.92" r="1.05"/>
<circle cx="154.62" cy="595.69" r="1.05"/>
<circle cx="156.92" cy="596.92" r="1.05"/>
<circle cx="159.23" cy="597.69" r="1.05"/>
<circle cx="136.92" cy="599.69" r="1.05"/>
<circle cx="139.23" cy="599.23" r="1.05"/>
<circle cx="146.15" cy="599.69" r="1.05"/>
<circle cx="150.00" cy="599.23" r="1.05"/>
<circle cx="152.31" cy="600.00" r="1.05"/>
<circle cx="156.15" cy="600.31" r="1.05"/>
<circle cx="158.46" cy="600.31" r="1.05"/>
<circle cx="160.77" cy="600.77" r="1.05"/>
<circle cx="136.92" cy="600.77" r="1.05"/>
<circle cx="146.15" cy="602.31" r="1.05"/>
<circle cx="157.69" cy="602.77" r="1.05"/>
<circle cx="143.85" cy="604.62" r="1.05"/>
<circle cx="146.92" cy="605.85" r="1.05"/>
<circle cx="151.23" cy="605.85" r="1.05"/>
<circle cx="153.85" cy="606.15" r="1.05"/>
<circle cx="155.38" cy="604.62" r="1.05"/>
<circle cx="138.46" cy="606.46" r="1.05"/>
<circle cx="144.62" cy="613.08" r="1.05"/>
<circle cx="156.78" cy="592.30" r="1.05"/>
<circle cx="152.00" cy="584.47" r="1.05"/>
<circle cx="153.38" cy="595.19" r="1.05"/>
<circle cx="151.70" cy="591.42" r="1.05"/>
<circle cx="147.83" cy="600.70" r="1.05"/>
<circle cx="154.26" cy="591.13" r="1.05"/>
<circle cx="155.16" cy="594.96" r="1.05"/>
<circle cx="153.43" cy="592.01" r="1.05"/>
<circle cx="153.33" cy="595.61" r="1.05"/>
<circle cx="155.94" cy="597.79" r="1.05"/>
<circle cx="154.49" cy="598.13" r="1.05"/>
<circle cx="152.51" cy="584.50" r="1.05"/>
<circle cx="147.96" cy="597.89" r="1.05"/>
<circle cx="147.38" cy="588.64" r="1.05"/>
<circle cx="153.10" cy="598.25" r="1.05"/>
<circle cx="145.92" cy="586.79" r="1.05"/>
<circle cx="150.25" cy="588.94" r="1.05"/>
<circle cx="153.06" cy="597.45" r="1.05"/>
</g>
<line x1="112.7" y1="561.0" x2="112.7" y2="619.4" stroke="#222" stroke-width="1.2"/>
<line x1="112.10000000000001" y1="618.9" x2="184.6" y2="618.9" stroke="#222" stroke-width="1.2"/>
<line x1="110.5" y1="562.0" x2="112.7" y2="562.0" stroke="#222" stroke-width="0.8"/>
<text x="106.6" y="564.1" font-size="5.8" fill="#333" stroke="#333" stroke-width="0.1" text-anchor="end">1000</text>
<line x1="110.5" y1="576.2" x2="112.7" y2="576.2" stroke="#222" stroke-width="0.8"/>
<text x="106.6" y="578.3000000000001" font-size="5.8" fill="#333" stroke="#333" stroke-width="0.1" text-anchor="end">100</text>
<line x1="110.5" y1="590.4" x2="112.7" y2="590.4" stroke="#222" stroke-width="0.8"/>
<text x="106.6" y="592.5" font-size="5.8" fill="#333" stroke="#333" stroke-width="0.1" text-anchor="end">10</text>
<line x1="110.5" y1="604.6" x2="112.7" y2="604.6" stroke="#222" stroke-width="0.8"/>
<text x="106.6" y="606.7" font-size="5.8" fill="#333" stroke="#333" stroke-width="0.1" text-anchor="end">1</text>
<line x1="110.5" y1="618.9" x2="112.7" y2="618.9" stroke="#222" stroke-width="0.8"/>
<text x="106.6" y="621.0" font-size="5.8" fill="#333" stroke="#333" stroke-width="0.1" text-anchor="end">0.1</text>
<line x1="112.7" y1="618.9" x2="112.7" y2="621.1" stroke="#222" stroke-width="0.8"/>
<text x="112.7" y="630.0" font-size="5.8" fill="#333" stroke="#333" stroke-width="0.1" text-anchor="middle">0.1</text>
<line x1="135.6" y1="618.9" x2="135.6" y2="621.1" stroke="#222" stroke-width="0.8"/>
<text x="135.6" y="630.0" font-size="5.8" fill="#333" stroke="#333" stroke-width="0.1" text-anchor="middle">1</text>
<line x1="158.9" y1="618.9" x2="158.9" y2="621.1" stroke="#222" stroke-width="0.8"/>
<text x="158.9" y="630.0" font-size="5.8" fill="#333" stroke="#333" stroke-width="0.1" text-anchor="middle">10</text>
<line x1="182.5" y1="618.9" x2="182.5" y2="621.1" stroke="#222" stroke-width="0.8"/>
<text x="182.5" y="630.0" font-size="5.8" fill="#333" stroke="#333" stroke-width="0.1" text-anchor="middle">100</text>
<text x="118.8" y="555.5" font-size="6.2" fill="#222" stroke="#222" stroke-width="0.08">Pearson r = 0.2094</text>
<text x="118.8" y="562.3" font-size="6.2" fill="#222" stroke="#222" stroke-width="0.08">**<tspan font-style="italic">P</tspan> = .0417</text>
<text x="148.3" y="641.6" font-size="7.4" fill="#222" stroke="#222" stroke-width="0.3" text-anchor="middle" textLength="29.8" lengthAdjust="spacingAndGlyphs">CD79a (AU)</text>
<text transform="translate(86.0,589.0) rotate(-90)" font-size="7.4" fill="#222" stroke="#222" stroke-width="0.3" text-anchor="middle" textLength="28" lengthAdjust="spacingAndGlyphs">FOSB (AU)</text>
<g fill="#154d8c">
<circle cx="328.00" cy="543.44" r="1.45" stroke="#fff" stroke-width="0.25"/>
<circle cx="328.00" cy="519.44" r="1.45" stroke="#fff" stroke-width="0.25"/>
<circle cx="328.00" cy="538.63" r="1.45" stroke="#fff" stroke-width="0.25"/>
<circle cx="330.70" cy="519.06" r="1.45" stroke="#fff" stroke-width="0.25"/>
<circle cx="328.00" cy="548.92" r="1.45" stroke="#fff" stroke-width="0.25"/>
<circle cx="328.00" cy="531.65" r="1.45" stroke="#fff" stroke-width="0.25"/>
<circle cx="329.80" cy="542.21" r="1.45" stroke="#fff" stroke-width="0.25"/>
<circle cx="328.90" cy="545.24" r="1.45" stroke="#fff" stroke-width="0.25"/>
<circle cx="325.30" cy="543.60" r="1.45" stroke="#fff" stroke-width="0.25"/>
<circle cx="329.80" cy="532.19" r="1.45" stroke="#fff" stroke-width="0.25"/>
<circle cx="328.00" cy="534.84" r="1.45" stroke="#fff" stroke-width="0.25"/>
<circle cx="326.20" cy="532.93" r="1.45" stroke="#fff" stroke-width="0.25"/>
<circle cx="329.80" cy="549.37" r="1.45" stroke="#fff" stroke-width="0.25"/>
<circle cx="331.60" cy="532.84" r="1.45" stroke="#fff" stroke-width="0.25"/>
<circle cx="328.00" cy="527.61" r="1.45" stroke="#fff" stroke-width="0.25"/>
<circle cx="328.00" cy="524.97" r="1.45" stroke="#fff" stroke-width="0.25"/>
<circle cx="331.60" cy="545.15" r="1.45" stroke="#fff" stroke-width="0.25"/>
<circle cx="329.80" cy="526.53" r="1.45" stroke="#fff" stroke-width="0.25"/>
<circle cx="328.00" cy="555.10" r="1.45" stroke="#fff" stroke-width="0.25"/>
<circle cx="326.20" cy="518.83" r="1.45" stroke="#fff" stroke-width="0.25"/>
<circle cx="329.80" cy="536.08" r="1.45" stroke="#fff" stroke-width="0.25"/>
<circle cx="326.20" cy="549.91" r="1.45" stroke="#fff" stroke-width="0.25"/>
<circle cx="328.00" cy="551.11" r="1.45" stroke="#fff" stroke-width="0.25"/>
<circle cx="329.80" cy="534.11" r="1.45" stroke="#fff" stroke-width="0.25"/>
<circle cx="328.00" cy="522.73" r="1.45" stroke="#fff" stroke-width="0.25"/>
<circle cx="330.70" cy="522.38" r="1.45" stroke="#fff" stroke-width="0.25"/>
<circle cx="324.40" cy="519.46" r="1.45" stroke="#fff" stroke-width="0.25"/>
<circle cx="326.20" cy="528.37" r="1.45" stroke="#fff" stroke-width="0.25"/>
<circle cx="328.00" cy="514.55" r="1.45" stroke="#fff" stroke-width="0.25"/>
<circle cx="326.20" cy="530.93" r="1.45" stroke="#fff" stroke-width="0.25"/>
<circle cx="328.90" cy="556.88" r="1.45" stroke="#fff" stroke-width="0.25"/>
<circle cx="328.90" cy="540.38" r="1.45" stroke="#fff" stroke-width="0.25"/>
<circle cx="333.40" cy="543.70" r="1.45" stroke="#fff" stroke-width="0.25"/>
<circle cx="326.20" cy="525.72" r="1.45" stroke="#fff" stroke-width="0.25"/>
<circle cx="331.60" cy="550.95" r="1.45" stroke="#fff" stroke-width="0.25"/>
<circle cx="326.20" cy="537.15" r="1.45" stroke="#fff" stroke-width="0.25"/>
<circle cx="328.00" cy="516.82" r="1.45" stroke="#fff" stroke-width="0.25"/>
<circle cx="331.60" cy="527.50" r="1.45" stroke="#fff" stroke-width="0.25"/>
<circle cx="329.80" cy="551.62" r="1.45" stroke="#fff" stroke-width="0.25"/>
<circle cx="326.20" cy="539.94" r="1.45" stroke="#fff" stroke-width="0.25"/>
<circle cx="330.70" cy="516.98" r="1.45" stroke="#fff" stroke-width="0.25"/>
<circle cx="323.50" cy="544.76" r="1.45" stroke="#fff" stroke-width="0.25"/>
<circle cx="324.40" cy="534.30" r="1.45" stroke="#fff" stroke-width="0.25"/>
<circle cx="335.20" cy="544.40" r="1.45" stroke="#fff" stroke-width="0.25"/>
<circle cx="331.60" cy="536.56" r="1.45" stroke="#fff" stroke-width="0.25"/>
<circle cx="329.80" cy="547.39" r="1.45" stroke="#fff" stroke-width="0.25"/>
<circle cx="330.70" cy="538.96" r="1.45" stroke="#fff" stroke-width="0.25"/>
<circle cx="328.00" cy="511.21" r="1.45" stroke="#fff" stroke-width="0.25"/>
<circle cx="333.40" cy="533.74" r="1.45" stroke="#fff" stroke-width="0.25"/>
<circle cx="326.20" cy="547.31" r="1.45" stroke="#fff" stroke-width="0.25"/>
<circle cx="328.00" cy="560.76" r="1.45" stroke="#fff" stroke-width="0.25"/>
<circle cx="323.50" cy="537.13" r="1.45" stroke="#fff" stroke-width="0.25"/>
<circle cx="321.70" cy="534.15" r="1.45" stroke="#fff" stroke-width="0.25"/>
<circle cx="324.40" cy="526.36" r="1.45" stroke="#fff" stroke-width="0.25"/>
<circle cx="320.80" cy="544.99" r="1.45" stroke="#fff" stroke-width="0.25"/>
<circle cx="328.00" cy="563.74" r="1.45" stroke="#fff" stroke-width="0.25"/>
<circle cx="324.40" cy="531.37" r="1.45" stroke="#fff" stroke-width="0.25"/>
<circle cx="334.30" cy="536.54" r="1.45" stroke="#fff" stroke-width="0.25"/>
<circle cx="322.60" cy="532.30" r="1.45" stroke="#fff" stroke-width="0.25"/>
<circle cx="323.50" cy="528.10" r="1.45" stroke="#fff" stroke-width="0.25"/>
<circle cx="332.50" cy="520.50" r="1.45" stroke="#fff" stroke-width="0.25"/>
<circle cx="323.50" cy="542.44" r="1.45" stroke="#fff" stroke-width="0.25"/>
<circle cx="333.40" cy="526.26" r="1.45" stroke="#fff" stroke-width="0.25"/>
<circle cx="332.50" cy="540.32" r="1.45" stroke="#fff" stroke-width="0.25"/>
<circle cx="329.80" cy="528.50" r="1.45" stroke="#fff" stroke-width="0.25"/>
<circle cx="336.10" cy="533.53" r="1.45" stroke="#fff" stroke-width="0.25"/>
<circle cx="319.90" cy="535.12" r="1.45" stroke="#fff" stroke-width="0.25"/>
<circle cx="321.70" cy="536.67" r="1.45" stroke="#fff" stroke-width="0.25"/>
<circle cx="321.70" cy="526.55" r="1.45" stroke="#fff" stroke-width="0.25"/>
<circle cx="337.00" cy="536.80" r="1.45" stroke="#fff" stroke-width="0.25"/>
<circle cx="319.00" cy="544.10" r="1.45" stroke="#fff" stroke-width="0.25"/>
<circle cx="330.70" cy="555.38" r="1.45" stroke="#fff" stroke-width="0.25"/>
<circle cx="335.20" cy="527.04" r="1.45" stroke="#fff" stroke-width="0.25"/>
<circle cx="319.90" cy="532.17" r="1.45" stroke="#fff" stroke-width="0.25"/>
<circle cx="332.50" cy="547.14" r="1.45" stroke="#fff" stroke-width="0.25"/>
<circle cx="331.60" cy="542.75" r="1.45" stroke="#fff" stroke-width="0.25"/>
<circle cx="334.30" cy="519.27" r="1.45" stroke="#fff" stroke-width="0.25"/>
<circle cx="332.50" cy="518.25" r="1.45" stroke="#fff" stroke-width="0.25"/>
<circle cx="334.30" cy="546.08" r="1.45" stroke="#fff" stroke-width="0.25"/>
<circle cx="323.50" cy="547.00" r="1.45" stroke="#fff" stroke-width="0.25"/>
<circle cx="319.90" cy="537.22" r="1.45" stroke="#fff" stroke-width="0.25"/>
<circle cx="329.80" cy="515.10" r="1.45" stroke="#fff" stroke-width="0.25"/>
<circle cx="333.01" cy="536.33" r="1.45" stroke="#fff" stroke-width="0.25"/>
<circle cx="326.20" cy="545.33" r="1.45" stroke="#fff" stroke-width="0.25"/>
<circle cx="328.00" cy="509.12" r="1.45" stroke="#fff" stroke-width="0.25"/>
<circle cx="321.83" cy="535.49" r="1.45" stroke="#fff" stroke-width="0.25"/>
<circle cx="325.30" cy="555.38" r="1.45" stroke="#fff" stroke-width="0.25"/>
<circle cx="334.30" cy="541.32" r="1.45" stroke="#fff" stroke-width="0.25"/>
<circle cx="325.30" cy="522.94" r="1.45" stroke="#fff" stroke-width="0.25"/>
<circle cx="320.80" cy="542.62" r="1.45" stroke="#fff" stroke-width="0.25"/>
<circle cx="332.50" cy="553.84" r="1.45" stroke="#fff" stroke-width="0.25"/>
<circle cx="336.10" cy="542.09" r="1.45" stroke="#fff" stroke-width="0.25"/>
<circle cx="328.00" cy="552.98" r="1.45" stroke="#fff" stroke-width="0.25"/>
<circle cx="332.02" cy="533.68" r="1.45" stroke="#fff" stroke-width="0.25"/>
<circle cx="323.31" cy="535.74" r="1.45" stroke="#fff" stroke-width="0.25"/>
<circle cx="331.74" cy="534.76" r="1.45" stroke="#fff" stroke-width="0.25"/>
<circle cx="326.20" cy="552.07" r="1.45" stroke="#fff" stroke-width="0.25"/>
<circle cx="333.40" cy="528.98" r="1.45" stroke="#fff" stroke-width="0.25"/>
<circle cx="337.00" cy="545.51" r="1.45" stroke="#fff" stroke-width="0.25"/>
<circle cx="324.46" cy="543.25" r="1.45" stroke="#fff" stroke-width="0.25"/>
</g>
<g fill="#c2102e">
<circle cx="356.07" cy="497.75" r="1.35"/>
<circle cx="356.07" cy="502.83" r="1.35"/>
<circle cx="356.07" cy="507.05" r="1.35"/>
<circle cx="356.07" cy="510.44" r="1.35"/>
<circle cx="356.07" cy="513.82" r="1.35"/>
<circle cx="359.95" cy="516.35" r="1.35"/>
<circle cx="356.07" cy="518.05" r="1.35"/>
<circle cx="352.35" cy="522.27" r="1.35"/>
<circle cx="356.07" cy="522.27" r="1.35"/>
<circle cx="359.95" cy="521.93" r="1.35"/>
<circle cx="352.35" cy="525.65" r="1.35"/>
<circle cx="356.07" cy="525.32" r="1.35"/>
<circle cx="359.95" cy="525.65" r="1.35"/>
<circle cx="364.18" cy="524.81" r="1.35"/>
<circle cx="356.07" cy="529.04" r="1.35"/>
<circle cx="359.95" cy="529.04" r="1.35"/>
<circle cx="348.12" cy="534.11" r="1.35"/>
<circle cx="352.35" cy="534.11" r="1.35"/>
<circle cx="356.07" cy="536.14" r="1.35"/>
<circle cx="359.95" cy="533.77" r="1.35"/>
<circle cx="364.18" cy="533.77" r="1.35"/>
<circle cx="352.35" cy="544.59" r="1.35"/>
<circle cx="356.07" cy="545.10" r="1.35"/>
<circle cx="359.95" cy="544.25" r="1.35"/>
<circle cx="354.04" cy="550.17" r="1.35"/>
<circle cx="358.77" cy="551.02" r="1.35"/>
<circle cx="359.95" cy="554.06" r="1.35"/>
<circle cx="356.07" cy="556.94" r="1.35"/>
<circle cx="356.07" cy="563.19" r="1.35"/>
</g>
<line x1="318.5" y1="528.6" x2="338.0" y2="528.6" stroke="#222" stroke-width="0.9"/>
<line x1="346.4" y1="520.9" x2="365.5" y2="520.9" stroke="#222" stroke-width="0.9"/>
<line x1="313.9" y1="490.5" x2="313.9" y2="582.8" stroke="#222" stroke-width="1.2"/>
<line x1="313.29999999999995" y1="582.3" x2="370.1" y2="582.3" stroke="#222" stroke-width="1.2"/>
<line x1="311.7" y1="493.0" x2="313.9" y2="493.0" stroke="#222" stroke-width="0.8"/>
<text x="308.4" y="495.1" font-size="6.3" fill="#333" stroke="#333" stroke-width="0.1" text-anchor="end">10000</text>
<line x1="311.7" y1="522.8" x2="313.9" y2="522.8" stroke="#222" stroke-width="0.8"/>
<text x="308.4" y="524.9" font-size="6.3" fill="#333" stroke="#333" stroke-width="0.1" text-anchor="end">1000</text>
<line x1="311.7" y1="552.6" x2="313.9" y2="552.6" stroke="#222" stroke-width="0.8"/>
<text x="308.4" y="554.7" font-size="6.3" fill="#333" stroke="#333" stroke-width="0.1" text-anchor="end">100</text>
<line x1="311.7" y1="582.3" x2="313.9" y2="582.3" stroke="#222" stroke-width="0.8"/>
<text x="308.4" y="584.4" font-size="6.3" fill="#333" stroke="#333" stroke-width="0.1" text-anchor="end">10</text>
<line x1="327.8" y1="582.3" x2="327.8" y2="584.5" stroke="#222" stroke-width="0.8"/>
<line x1="355.7" y1="582.3" x2="355.7" y2="584.5" stroke="#222" stroke-width="0.8"/>
<line x1="325.6" y1="487.3" x2="365.0" y2="487.3" stroke="#222" stroke-width="0.8"/>
<text x="345.0" y="485.6" font-size="6.3" fill="#222" stroke="#222" stroke-width="0.08" text-anchor="middle" textLength="29.2" lengthAdjust="spacingAndGlyphs">*<tspan font-style="italic">P</tspan> = .0240</text>
<text transform="translate(284.5,536.0) rotate(-90)" font-size="7.6" fill="#222" text-anchor="middle" font-weight="bold" textLength="29" lengthAdjust="spacingAndGlyphs">JUN (AU)</text>
<text transform="translate(329.4,592.0) rotate(-45)" font-size="6.6" fill="#222" stroke="#222" stroke-width="0.1" text-anchor="end">CNS−</text>
<text transform="translate(357.2,592.0) rotate(-45)" font-size="6.6" fill="#222" stroke="#222" stroke-width="0.1" text-anchor="end">CNS+</text>
<g fill="#154d8c">
<circle cx="447.60" cy="531.44" r="1.45" stroke="#fff" stroke-width="0.25"/>
<circle cx="447.60" cy="544.93" r="1.45" stroke="#fff" stroke-width="0.25"/>
<circle cx="448.50" cy="546.61" r="1.45" stroke="#fff" stroke-width="0.25"/>
<circle cx="447.60" cy="537.59" r="1.45" stroke="#fff" stroke-width="0.25"/>
<circle cx="447.60" cy="511.60" r="1.45" stroke="#fff" stroke-width="0.25"/>
<circle cx="449.40" cy="536.85" r="1.45" stroke="#fff" stroke-width="0.25"/>
<circle cx="447.60" cy="529.10" r="1.45" stroke="#fff" stroke-width="0.25"/>
<circle cx="447.60" cy="539.91" r="1.45" stroke="#fff" stroke-width="0.25"/>
<circle cx="445.80" cy="536.52" r="1.45" stroke="#fff" stroke-width="0.25"/>
<circle cx="450.30" cy="539.75" r="1.45" stroke="#fff" stroke-width="0.25"/>
<circle cx="447.60" cy="524.75" r="1.45" stroke="#fff" stroke-width="0.25"/>
<circle cx="449.40" cy="541.46" r="1.45" stroke="#fff" stroke-width="0.25"/>
<circle cx="449.40" cy="544.48" r="1.45" stroke="#fff" stroke-width="0.25"/>
<circle cx="449.40" cy="532.02" r="1.45" stroke="#fff" stroke-width="0.25"/>
<circle cx="447.60" cy="553.59" r="1.45" stroke="#fff" stroke-width="0.25"/>
<circle cx="447.60" cy="535.14" r="1.45" stroke="#fff" stroke-width="0.25"/>
<circle cx="447.60" cy="507.25" r="1.45" stroke="#fff" stroke-width="0.25"/>
<circle cx="447.60" cy="526.90" r="1.45" stroke="#fff" stroke-width="0.25"/>
<circle cx="452.10" cy="536.68" r="1.45" stroke="#fff" stroke-width="0.25"/>
<circle cx="444.00" cy="535.60" r="1.45" stroke="#fff" stroke-width="0.25"/>
<circle cx="447.60" cy="560.16" r="1.45" stroke="#fff" stroke-width="0.25"/>
<circle cx="446.70" cy="547.13" r="1.45" stroke="#fff" stroke-width="0.25"/>
<circle cx="450.30" cy="525.02" r="1.45" stroke="#fff" stroke-width="0.25"/>
<circle cx="450.30" cy="547.46" r="1.45" stroke="#fff" stroke-width="0.25"/>
<circle cx="447.60" cy="550.89" r="1.45" stroke="#fff" stroke-width="0.25"/>
<circle cx="453.90" cy="535.67" r="1.45" stroke="#fff" stroke-width="0.25"/>
<circle cx="446.70" cy="543.27" r="1.45" stroke="#fff" stroke-width="0.25"/>
<circle cx="445.80" cy="531.95" r="1.45" stroke="#fff" stroke-width="0.25"/>
<circle cx="450.30" cy="507.25" r="1.45" stroke="#fff" stroke-width="0.25"/>
<circle cx="445.80" cy="541.38" r="1.45" stroke="#fff" stroke-width="0.25"/>
<circle cx="447.60" cy="503.66" r="1.45" stroke="#fff" stroke-width="0.25"/>
<circle cx="450.30" cy="530.21" r="1.45" stroke="#fff" stroke-width="0.25"/>
<circle cx="444.90" cy="528.96" r="1.45" stroke="#fff" stroke-width="0.25"/>
<circle cx="449.40" cy="559.23" r="1.45" stroke="#fff" stroke-width="0.25"/>
<circle cx="451.20" cy="542.62" r="1.45" stroke="#fff" stroke-width="0.25"/>
<circle cx="447.60" cy="520.10" r="1.45" stroke="#fff" stroke-width="0.25"/>
<circle cx="444.90" cy="544.47" r="1.45" stroke="#fff" stroke-width="0.25"/>
<circle cx="449.40" cy="550.09" r="1.45" stroke="#fff" stroke-width="0.25"/>
<circle cx="445.80" cy="538.74" r="1.45" stroke="#fff" stroke-width="0.25"/>
<circle cx="443.10" cy="541.63" r="1.45" stroke="#fff" stroke-width="0.25"/>
<circle cx="445.80" cy="550.28" r="1.45" stroke="#fff" stroke-width="0.25"/>
<circle cx="444.00" cy="539.43" r="1.45" stroke="#fff" stroke-width="0.25"/>
<circle cx="451.20" cy="532.92" r="1.45" stroke="#fff" stroke-width="0.25"/>
<circle cx="449.40" cy="512.44" r="1.45" stroke="#fff" stroke-width="0.25"/>
<circle cx="450.30" cy="520.02" r="1.45" stroke="#fff" stroke-width="0.25"/>
<circle cx="441.30" cy="536.00" r="1.45" stroke="#fff" stroke-width="0.25"/>
<circle cx="444.00" cy="533.50" r="1.45" stroke="#fff" stroke-width="0.25"/>
<circle cx="452.10" cy="544.75" r="1.45" stroke="#fff" stroke-width="0.25"/>
<circle cx="442.20" cy="532.57" r="1.45" stroke="#fff" stroke-width="0.25"/>
<circle cx="445.80" cy="559.41" r="1.45" stroke="#fff" stroke-width="0.25"/>
<circle cx="451.20" cy="549.09" r="1.45" stroke="#fff" stroke-width="0.25"/>
<circle cx="444.00" cy="549.62" r="1.45" stroke="#fff" stroke-width="0.25"/>
<circle cx="452.10" cy="559.02" r="1.45" stroke="#fff" stroke-width="0.25"/>
<circle cx="452.10" cy="540.65" r="1.45" stroke="#fff" stroke-width="0.25"/>
<circle cx="449.40" cy="552.80" r="1.45" stroke="#fff" stroke-width="0.25"/>
<circle cx="443.10" cy="543.49" r="1.45" stroke="#fff" stroke-width="0.25"/>
<circle cx="453.00" cy="538.90" r="1.45" stroke="#fff" stroke-width="0.25"/>
<circle cx="444.90" cy="553.52" r="1.45" stroke="#fff" stroke-width="0.25"/>
<circle cx="449.40" cy="527.50" r="1.45" stroke="#fff" stroke-width="0.25"/>
<circle cx="453.90" cy="542.98" r="1.45" stroke="#fff" stroke-width="0.25"/>
<circle cx="445.80" cy="526.01" r="1.45" stroke="#fff" stroke-width="0.25"/>
<circle cx="441.30" cy="539.06" r="1.45" stroke="#fff" stroke-width="0.25"/>
<circle cx="449.40" cy="534.70" r="1.45" stroke="#fff" stroke-width="0.25"/>
<circle cx="455.70" cy="536.59" r="1.45" stroke="#fff" stroke-width="0.25"/>
<circle cx="453.00" cy="550.58" r="1.45" stroke="#fff" stroke-width="0.25"/>
<circle cx="449.40" cy="523.19" r="1.45" stroke="#fff" stroke-width="0.25"/>
<circle cx="450.30" cy="561.07" r="1.45" stroke="#fff" stroke-width="0.25"/>
<circle cx="439.50" cy="537.86" r="1.45" stroke="#fff" stroke-width="0.25"/>
<circle cx="442.20" cy="550.25" r="1.45" stroke="#fff" stroke-width="0.25"/>
<circle cx="447.60" cy="568.54" r="1.45" stroke="#fff" stroke-width="0.25"/>
<circle cx="445.80" cy="521.48" r="1.45" stroke="#fff" stroke-width="0.25"/>
<circle cx="445.80" cy="534.02" r="1.45" stroke="#fff" stroke-width="0.25"/>
<circle cx="445.80" cy="518.53" r="1.45" stroke="#fff" stroke-width="0.25"/>
<circle cx="451.20" cy="526.66" r="1.45" stroke="#fff" stroke-width="0.25"/>
<circle cx="447.60" cy="555.65" r="1.45" stroke="#fff" stroke-width="0.25"/>
<circle cx="449.40" cy="554.84" r="1.45" stroke="#fff" stroke-width="0.25"/>
<circle cx="452.10" cy="529.49" r="1.45" stroke="#fff" stroke-width="0.25"/>
<circle cx="447.60" cy="548.85" r="1.45" stroke="#fff" stroke-width="0.25"/>
<circle cx="444.90" cy="547.91" r="1.45" stroke="#fff" stroke-width="0.25"/>
<circle cx="451.20" cy="551.68" r="1.45" stroke="#fff" stroke-width="0.25"/>
<circle cx="453.00" cy="531.79" r="1.45" stroke="#fff" stroke-width="0.25"/>
<circle cx="451.20" cy="553.84" r="1.45" stroke="#fff" stroke-width="0.25"/>
<circle cx="440.40" cy="531.77" r="1.45" stroke="#fff" stroke-width="0.25"/>
<circle cx="441.30" cy="544.31" r="1.45" stroke="#fff" stroke-width="0.25"/>
<circle cx="442.20" cy="553.61" r="1.45" stroke="#fff" stroke-width="0.25"/>
<circle cx="438.60" cy="535.96" r="1.45" stroke="#fff" stroke-width="0.25"/>
<circle cx="453.90" cy="545.24" r="1.45" stroke="#fff" stroke-width="0.25"/>
<circle cx="447.60" cy="564.06" r="1.45" stroke="#fff" stroke-width="0.25"/>
<circle cx="442.20" cy="529.13" r="1.45" stroke="#fff" stroke-width="0.25"/>
<circle cx="443.10" cy="559.58" r="1.45" stroke="#fff" stroke-width="0.25"/>
<circle cx="452.10" cy="534.70" r="1.45" stroke="#fff" stroke-width="0.25"/>
<circle cx="453.90" cy="528.45" r="1.45" stroke="#fff" stroke-width="0.25"/>
<circle cx="455.70" cy="531.74" r="1.45" stroke="#fff" stroke-width="0.25"/>
<circle cx="454.80" cy="539.62" r="1.45" stroke="#fff" stroke-width="0.25"/>
<circle cx="455.70" cy="529.05" r="1.45" stroke="#fff" stroke-width="0.25"/>
<circle cx="440.40" cy="540.80" r="1.45" stroke="#fff" stroke-width="0.25"/>
<circle cx="444.96" cy="537.05" r="1.45" stroke="#fff" stroke-width="0.25"/>
<circle cx="443.10" cy="537.42" r="1.45" stroke="#fff" stroke-width="0.25"/>
<circle cx="438.60" cy="539.83" r="1.45" stroke="#fff" stroke-width="0.25"/>
<circle cx="447.60" cy="522.42" r="1.45" stroke="#fff" stroke-width="0.25"/>
<circle cx="447.60" cy="513.71" r="1.45" stroke="#fff" stroke-width="0.25"/>
<circle cx="454.80" cy="549.55" r="1.45" stroke="#fff" stroke-width="0.25"/>
<circle cx="439.50" cy="529.23" r="1.45" stroke="#fff" stroke-width="0.25"/>
</g>
<g fill="#c2102e">
<circle cx="472.35" cy="510.10" r="1.35"/>
<circle cx="469.30" cy="512.47" r="1.35"/>
<circle cx="474.37" cy="513.82" r="1.35"/>
<circle cx="469.30" cy="516.35" r="1.35"/>
<circle cx="469.30" cy="519.23" r="1.35"/>
<circle cx="474.37" cy="520.92" r="1.35"/>
<circle cx="469.30" cy="522.27" r="1.35"/>
<circle cx="474.37" cy="523.12" r="1.35"/>
<circle cx="469.30" cy="525.32" r="1.35"/>
<circle cx="474.37" cy="525.99" r="1.35"/>
<circle cx="469.30" cy="530.39" r="1.35"/>
<circle cx="474.37" cy="529.88" r="1.35"/>
<circle cx="472.35" cy="534.45" r="1.35"/>
<circle cx="472.35" cy="539.18" r="1.35"/>
<circle cx="474.37" cy="540.03" r="1.35"/>
<circle cx="472.35" cy="543.92" r="1.35"/>
<circle cx="469.30" cy="549.33" r="1.35"/>
<circle cx="474.37" cy="550.17" r="1.35"/>
<circle cx="472.35" cy="553.55" r="1.35"/>
</g>
<line x1="464.2" y1="525.3" x2="480.8" y2="525.3" stroke="#222" stroke-width="0.9"/>
<line x1="431.3" y1="490.0" x2="431.3" y2="582.8" stroke="#222" stroke-width="1.2"/>
<line x1="430.7" y1="582.3" x2="488.9" y2="582.3" stroke="#222" stroke-width="1.2"/>
<line x1="429.1" y1="492.5" x2="431.3" y2="492.5" stroke="#222" stroke-width="0.8"/>
<text x="425.9" y="494.6" font-size="6.3" fill="#333" stroke="#333" stroke-width="0.1" text-anchor="end">10000</text>
<line x1="429.1" y1="522.3" x2="431.3" y2="522.3" stroke="#222" stroke-width="0.8"/>
<text x="425.9" y="524.4" font-size="6.3" fill="#333" stroke="#333" stroke-width="0.1" text-anchor="end">1000</text>
<line x1="429.1" y1="552.3" x2="431.3" y2="552.3" stroke="#222" stroke-width="0.8"/>
<text x="425.9" y="554.4" font-size="6.3" fill="#333" stroke="#333" stroke-width="0.1" text-anchor="end">100</text>
<line x1="429.1" y1="582.3" x2="431.3" y2="582.3" stroke="#222" stroke-width="0.8"/>
<text x="425.9" y="584.4" font-size="6.3" fill="#333" stroke="#333" stroke-width="0.1" text-anchor="end">10</text>
<line x1="447.5" y1="582.3" x2="447.5" y2="584.5" stroke="#222" stroke-width="0.8"/>
<line x1="472.3" y1="582.3" x2="472.3" y2="584.5" stroke="#222" stroke-width="0.8"/>
<line x1="443.3" y1="487.1" x2="476.6" y2="487.1" stroke="#222" stroke-width="0.8"/>
<text x="460.0" y="485.4" font-size="6.3" fill="#222" stroke="#222" stroke-width="0.08" text-anchor="middle" textLength="29.2" lengthAdjust="spacingAndGlyphs">*<tspan font-style="italic">P</tspan> = .0241</text>
<text transform="translate(401.0,536.0) rotate(-90)" font-size="7.6" fill="#222" text-anchor="middle" font-weight="bold" textLength="28.3" lengthAdjust="spacingAndGlyphs">JUN (AU)</text>
<text transform="translate(447.6,592.4) rotate(-45)" font-size="6.3" fill="#222" stroke="#222" stroke-width="0.1" text-anchor="end" textLength="37" lengthAdjust="spacingAndGlyphs">CNS relapse −</text>
<text transform="translate(472.6,592.4) rotate(-45)" font-size="6.3" fill="#222" stroke="#222" stroke-width="0.1" text-anchor="end" textLength="37" lengthAdjust="spacingAndGlyphs">CNS relapse +</text>
<rect x="0.5" y="0.5" width="519" height="649" fill="none" stroke="#555" stroke-width="1"/>
</svg>
</body></html>
